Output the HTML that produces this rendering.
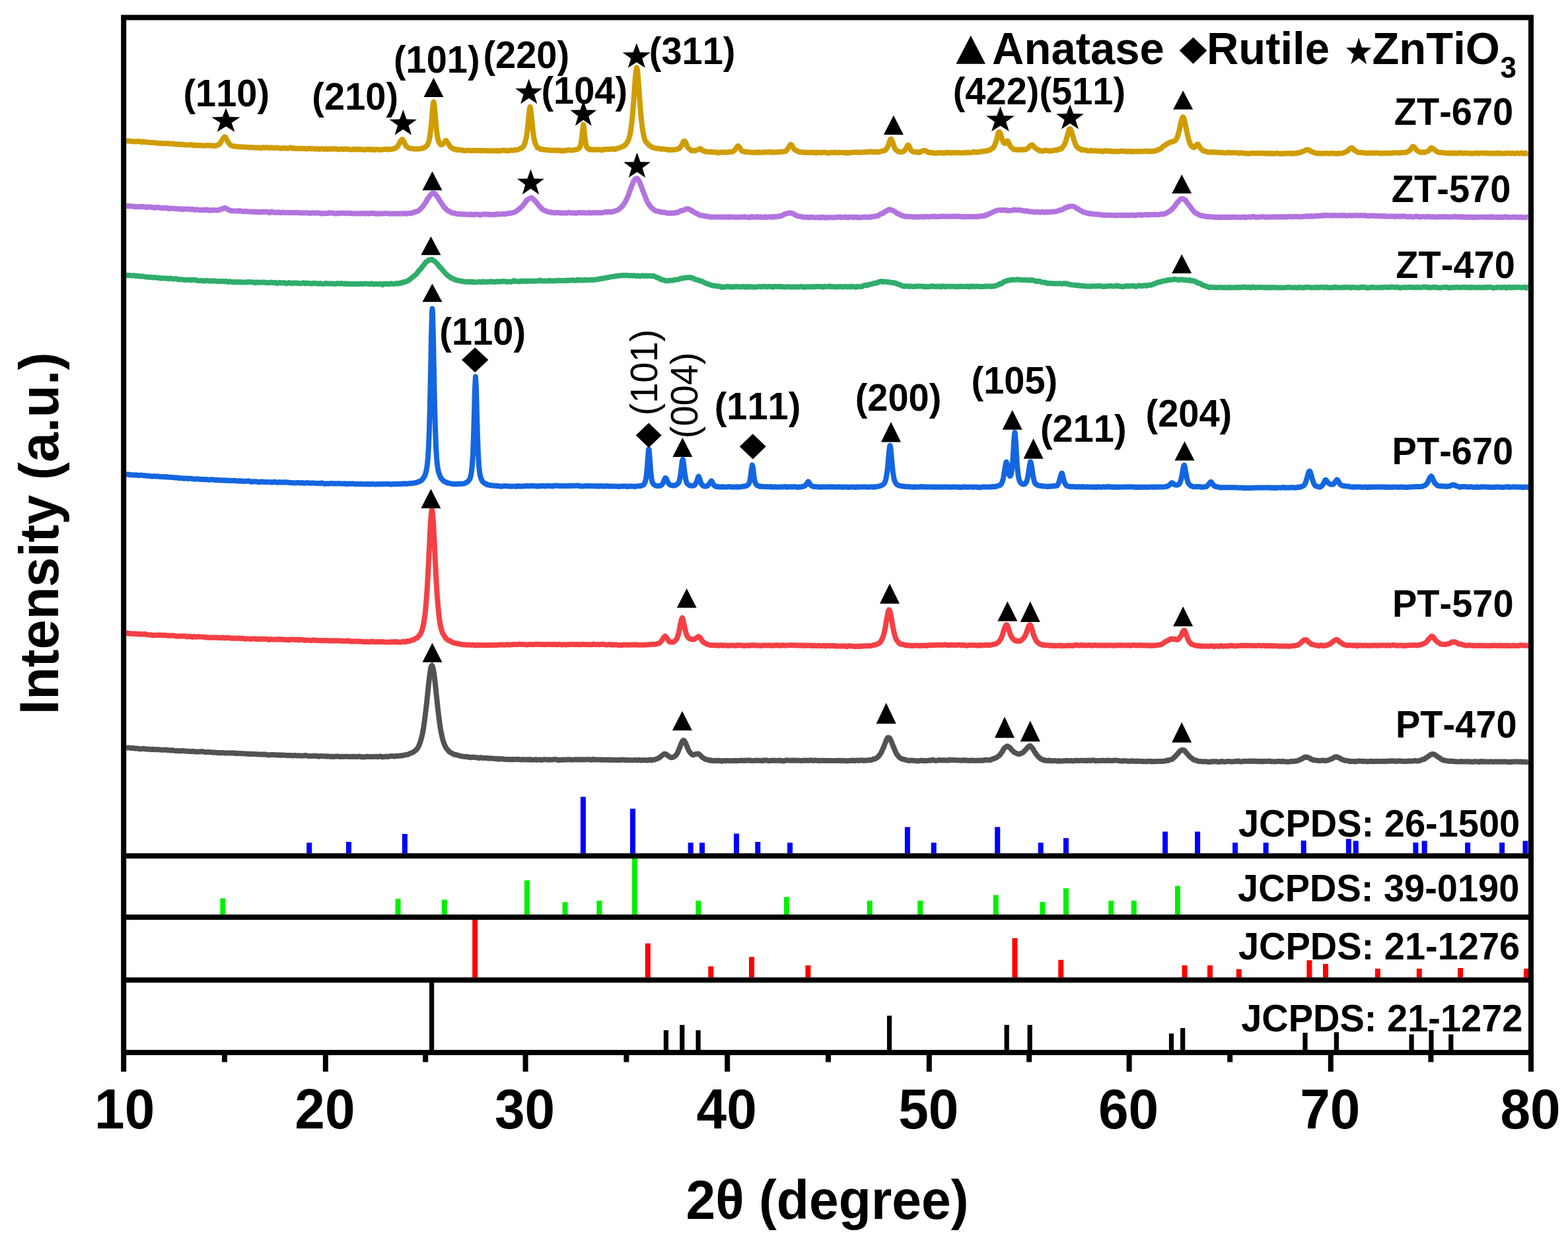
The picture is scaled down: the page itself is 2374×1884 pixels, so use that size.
<!DOCTYPE html>
<html><head><meta charset="utf-8"><title>XRD patterns</title>
<style>html,body{margin:0;padding:0;background:#fff;}svg{display:block;}</style>
</head><body>
<svg width="2374" height="1884" viewBox="0 0 2374 1884">
<rect x="0" y="0" width="2374" height="1884" fill="#ffffff"/>
<path d="M468.2 1292.3V1276.3 M528.0 1292.3V1274.9 M612.9 1292.3V1262.9 M882.9 1292.3V1206.7 M958.0 1292.3V1224.8 M1045.7 1292.3V1276.3 M1063.0 1292.3V1276.3 M1115.0 1292.3V1262.4 M1147.3 1292.3V1274.9 M1196.0 1292.3V1276.3 M1373.9 1292.3V1252.6 M1413.7 1292.3V1276.3 M1510.2 1292.3V1252.6 M1575.7 1292.3V1276.3 M1614.0 1292.3V1269.3 M1764.1 1292.3V1259.6 M1813.1 1292.3V1259.6 M1870.1 1292.3V1276.3 M1916.6 1292.3V1276.3 M1973.7 1292.3V1273.0 M2041.9 1292.3V1270.4 M2052.8 1292.3V1273.6 M2143.4 1292.3V1276.0 M2156.7 1292.3V1273.6 M2222.1 1292.3V1276.0 M2274.1 1292.3V1276.0 M2309.5 1292.3V1273.6" stroke="#0000FF" stroke-width="8" fill="none"/>
<path d="M337.4 1385.0V1360.5 M602.6 1385.0V1361.2 M672.8 1385.0V1362.6 M798.0 1385.0V1333.3 M855.6 1385.0V1366.2 M907.4 1385.0V1364.0 M961.0 1385.0V1300.0 M1057.4 1385.0V1364.0 M1191.0 1385.0V1358.4 M1316.8 1385.0V1364.0 M1393.3 1385.0V1364.0 M1507.7 1385.0V1355.6 M1578.4 1385.0V1365.9 M1614.0 1385.0V1345.3 M1682.3 1385.0V1364.0 M1716.8 1385.0V1364.0 M1783.0 1385.0V1341.7" stroke="#00F000" stroke-width="8" fill="none"/>
<path d="M719.2 1480.3V1393.0 M980.8 1480.3V1428.8 M1076.3 1480.3V1463.6 M1138.0 1480.3V1449.3 M1223.4 1480.3V1462.0 M1536.5 1480.3V1420.7 M1606.3 1480.3V1453.8 M1793.6 1480.3V1462.0 M1832.0 1480.3V1462.0 M1875.8 1480.3V1467.8 M1982.4 1480.3V1454.3 M2007.0 1480.3V1459.7 M2085.9 1480.3V1467.1 M2148.8 1480.3V1467.0 M2211.1 1480.3V1466.0 M2311.0 1480.3V1467.0" stroke="#FF0000" stroke-width="8" fill="none"/>
<path d="M653.6 1590.0V1488.0 M1008.4 1590.0V1560.3 M1032.8 1590.0V1552.2 M1057.1 1590.0V1560.3 M1346.6 1590.0V1538.2 M1524.2 1590.0V1552.2 M1559.2 1590.0V1552.2 M1773.5 1590.0V1565.2 M1790.7 1590.0V1557.0 M1976.0 1590.0V1564.0 M2023.4 1590.0V1563.2 M2137.1 1590.0V1566.4 M2167.0 1590.0V1560.0 M2196.8 1590.0V1566.4" stroke="#000000" stroke-width="7.2" fill="none"/>
<polyline points="191,213.6 192,213.7 193,213.6 194,213.5 195,213.5 196,213.6 197,214.0 198,214.3 199,214.1 200,214.0 201,214.3 202,214.5 203,214.3 204,214.2 205,214.4 206,214.5 207,214.3 208,214.2 209,214.0 210,214.0 211,214.2 212,214.5 213,214.7 214,215.0 215,215.2 216,214.8 217,214.5 218,214.8 219,215.3 220,215.3 221,215.1 222,215.1 223,215.2 224,215.5 225,215.8 226,215.7 227,215.9 228,216.1 229,215.9 230,216.0 231,216.1 232,216.0 233,215.9 234,216.3 235,216.5 236,216.3 237,216.5 238,216.6 239,216.7 240,217.2 241,217.0 242,216.6 243,216.8 244,217.0 245,217.1 246,217.2 247,217.2 248,217.5 249,217.6 250,217.3 251,217.3 252,217.3 253,217.3 254,217.2 255,217.3 256,217.7 257,218.1 258,218.0 259,217.6 260,217.6 261,217.8 262,217.6 263,217.7 264,218.3 265,218.6 266,218.6 267,218.3 268,218.3 269,218.6 270,218.9 271,218.7 272,218.6 273,218.8 274,218.8 275,218.7 276,218.6 277,218.8 278,219.1 279,219.4 280,219.5 281,219.4 282,219.4 283,219.5 284,219.6 285,219.6 286,219.5 287,219.3 288,219.3 289,219.0 290,218.9 291,219.3 292,219.6 293,220.1 294,220.4 295,219.9 296,219.8 297,220.1 298,220.2 299,220.1 300,220.2 301,220.4 302,220.3 303,220.1 304,220.2 305,220.2 306,220.2 307,220.3 308,220.4 309,220.7 310,220.7 311,220.5 312,220.4 313,220.3 314,220.0 315,220.2 316,220.4 317,220.3 318,220.5 319,220.5 320,220.6 321,220.7 322,220.8 323,220.6 324,220.5 325,220.9 326,221.1 327,220.6 328,220.2 329,219.8 330,219.5 331,219.2 332,218.4 333,217.2 334,215.7 335,214.0 336,212.4 337,210.9 338,209.2 339,208.0 340,207.3 341,207.6 342,208.9 343,210.8 344,212.8 345,214.7 346,216.2 347,217.4 348,218.8 349,220.0 350,220.3 351,220.6 352,221.3 353,221.6 354,221.4 355,221.4 356,221.5 357,221.6 358,222.0 359,222.3 360,222.2 361,222.2 362,222.3 363,222.3 364,222.2 365,222.1 366,222.3 367,222.8 368,222.8 369,222.7 370,222.8 371,222.6 372,222.8 373,223.0 374,222.9 375,222.9 376,223.1 377,223.4 378,223.4 379,223.2 380,222.9 381,222.9 382,223.4 383,223.6 384,223.4 385,223.5 386,223.7 387,223.8 388,223.7 389,223.6 390,223.6 391,223.5 392,223.6 393,223.9 394,224.1 395,224.4 396,224.1 397,223.3 398,223.2 399,223.6 400,223.6 401,223.7 402,223.8 403,223.2 404,223.1 405,223.7 406,223.9 407,223.9 408,223.8 409,223.6 410,223.5 411,223.7 412,223.6 413,223.6 414,224.0 415,224.2 416,224.1 417,223.9 418,223.8 419,223.8 420,223.9 421,224.1 422,224.1 423,224.3 424,224.7 425,224.7 426,224.4 427,224.4 428,224.5 429,224.2 430,224.0 431,224.3 432,224.6 433,224.6 434,224.5 435,224.6 436,224.8 437,224.5 438,224.0 439,223.9 440,223.7 441,223.5 442,224.3 443,225.0 444,224.8 445,224.3 446,224.5 447,225.0 448,225.0 449,224.9 450,224.8 451,225.0 452,225.2 453,225.2 454,224.9 455,224.8 456,224.9 457,225.0 458,225.0 459,224.8 460,224.8 461,224.9 462,225.0 463,225.5 464,225.6 465,225.3 466,225.3 467,225.0 468,224.6 469,224.9 470,225.2 471,225.1 472,225.0 473,225.0 474,225.4 475,225.6 476,225.5 477,225.6 478,225.7 479,225.4 480,225.0 481,225.1 482,225.7 483,226.0 484,225.9 485,225.7 486,225.6 487,225.5 488,225.4 489,225.4 490,225.7 491,226.0 492,225.9 493,225.5 494,225.3 495,225.6 496,226.0 497,226.0 498,225.7 499,225.4 500,225.3 501,225.6 502,225.8 503,225.7 504,225.6 505,225.7 506,225.5 507,225.3 508,225.4 509,225.6 510,225.8 511,225.8 512,226.1 513,226.2 514,225.9 515,225.7 516,225.8 517,225.8 518,225.7 519,226.2 520,226.5 521,226.1 522,225.7 523,225.7 524,225.8 525,225.6 526,225.7 527,226.1 528,226.1 529,226.4 530,226.6 531,226.4 532,226.5 533,226.6 534,226.2 535,225.8 536,225.7 537,226.2 538,226.7 539,226.5 540,226.0 541,225.8 542,226.0 543,226.2 544,226.3 545,226.3 546,226.4 547,226.3 548,226.3 549,226.4 550,226.4 551,226.7 552,227.0 553,226.8 554,226.3 555,226.1 556,226.1 557,225.9 558,226.0 559,226.6 560,226.8 561,226.4 562,226.0 563,226.2 564,226.4 565,226.9 566,227.3 567,226.8 568,226.3 569,226.2 570,226.4 571,226.4 572,226.3 573,226.3 574,226.5 575,226.9 576,227.1 577,226.9 578,226.7 579,226.6 580,226.5 581,226.4 582,226.2 583,225.9 584,226.0 585,226.4 586,226.4 587,226.5 588,226.3 589,225.8 590,225.7 591,226.0 592,226.0 593,225.9 594,225.9 595,225.5 596,224.9 597,224.7 598,224.7 599,224.1 600,223.2 601,222.7 602,221.9 603,220.3 604,218.3 605,216.0 606,214.2 607,212.9 608,211.7 608.6,211.3 609,211.1 610,211.8 611,213.4 612,215.6 613,217.8 614,219.5 615,221.2 616,222.3 617,222.8 618,223.5 619,224.1 620,224.5 621,224.7 622,224.9 623,225.0 624,225.0 625,225.1 626,225.5 627,225.7 628,225.4 629,225.4 630,225.4 631,225.4 632,225.6 633,225.7 634,225.7 635,225.4 636,225.2 637,225.0 638,224.8 639,224.7 640,224.5 641,224.2 642,223.7 643,223.0 644,222.5 645,222.1 646,221.1 647,219.6 648,217.5 649,214.9 650,211.2 651,205.5 652,197.8 653,188.3 654,176.6 655,164.0 656,155.6 656.5,154.5 657,155.8 658,164.1 659,176.0 660,187.9 661,197.9 662,205.3 663,210.6 664,213.9 665,215.9 666,217.6 667,219.0 668,219.2 669,218.9 670,218.4 671,217.5 672,216.6 673,215.4 674,213.8 675,212.8 675.4,212.9 676,213.4 677,215.0 678,216.7 679,218.0 680,219.4 681,221.3 682,222.6 683,223.1 684,224.0 685,224.9 686,225.5 687,225.7 688,225.7 689,225.8 690,226.3 691,227.1 692,227.2 693,226.9 694,226.6 695,226.6 696,227.0 697,227.3 698,227.4 699,227.4 700,227.3 701,227.5 702,227.8 703,228.3 704,228.4 705,227.9 706,227.7 707,227.7 708,227.7 709,227.7 710,227.8 711,227.9 712,228.1 713,228.2 714,228.2 715,228.0 716,227.8 717,227.8 718,228.0 719,228.1 720,228.2 721,228.1 722,227.9 723,228.0 724,227.9 725,228.0 726,227.9 727,227.8 728,228.1 729,228.4 730,228.3 731,228.2 732,228.1 733,228.1 734,228.1 735,228.2 736,228.2 737,228.2 738,228.3 739,228.5 740,228.3 741,228.4 742,228.3 743,228.1 744,228.3 745,228.6 746,228.5 747,228.4 748,228.2 749,228.3 750,228.5 751,228.6 752,228.3 753,228.0 754,228.4 755,228.8 756,228.7 757,228.3 758,228.0 759,228.3 760,228.0 761,227.6 762,227.8 763,227.7 764,227.5 765,227.9 766,228.3 767,228.1 768,228.2 769,228.6 770,228.5 771,228.0 772,227.6 773,227.3 774,227.4 775,227.7 776,227.7 777,227.7 778,227.5 779,227.2 780,227.1 781,227.2 782,227.2 783,227.0 784,226.6 785,226.2 786,225.8 787,225.1 788,224.7 789,224.6 790,224.1 791,223.1 792,221.9 793,220.6 794,218.8 795,215.9 796,212.0 797,207.3 798,200.8 799,191.9 800,181.2 801,171.0 802,163.6 802.6,161.8 803,162.7 804,169.4 805,179.6 806,190.4 807,199.5 808,206.5 809,212.0 810,215.9 811,218.5 812,220.6 813,222.4 814,223.6 815,224.0 816,224.4 817,225.1 818,225.7 819,226.0 820,226.2 821,226.1 822,226.2 823,226.6 824,227.0 825,227.1 826,226.6 827,226.7 828,227.1 829,227.0 830,227.0 831,227.5 832,227.8 833,227.6 834,227.6 835,227.8 836,227.8 837,227.8 838,227.5 839,227.4 840,227.6 841,227.7 842,227.9 843,227.8 844,227.6 845,227.6 846,227.8 847,227.9 848,227.7 849,227.8 850,228.3 851,228.8 852,228.6 853,228.1 854,228.0 855,228.2 856,227.8 857,227.5 858,227.7 859,227.7 860,227.3 861,226.9 862,227.1 863,227.5 864,227.4 865,227.4 866,227.5 867,227.5 868,227.3 869,227.1 870,226.8 871,226.6 872,226.6 873,226.6 874,226.2 875,225.6 876,225.0 877,224.4 878,223.0 879,220.2 880,215.7 881,208.6 882,198.5 883,189.6 883.3,188.6 884,192.0 885,202.9 886,212.1 887,218.2 888,222.0 889,223.9 890,224.7 891,225.4 892,226.3 893,226.7 894,226.7 895,226.4 896,226.2 897,226.5 898,226.8 899,226.9 900,227.0 901,226.6 902,226.4 903,226.7 904,226.7 905,226.6 906,226.6 907,226.4 908,226.4 909,226.9 910,227.2 911,227.3 912,227.4 913,226.7 914,226.1 915,226.0 916,226.1 917,226.3 918,226.2 919,226.0 920,226.0 921,226.0 922,226.1 923,226.2 924,226.0 925,225.9 926,225.7 927,225.4 928,225.2 929,225.6 930,226.2 931,226.2 932,225.8 933,225.2 934,224.9 935,224.9 936,224.5 937,224.0 938,223.8 939,223.4 940,223.1 941,222.6 942,222.0 943,221.9 944,221.7 945,220.8 946,219.8 947,219.1 948,217.9 949,216.3 950,214.8 951,213.1 952,210.5 953,207.3 954,203.1 955,197.4 956,190.2 957,181.7 958,171.1 959,158.2 960,144.0 961,129.5 962,116.1 963,106.3 964,102.4 965,105.8 966,115.9 967,129.6 968,144.3 969,158.5 970,170.6 971,180.9 972,189.8 973,196.8 974,202.4 975,207.0 976,210.6 977,213.3 978,214.8 979,215.9 980,217.2 981,218.3 982,219.4 983,220.4 984,220.8 985,221.2 986,222.1 987,222.8 988,223.1 989,223.6 990,223.9 991,224.2 992,224.6 993,224.8 994,224.9 995,224.8 996,224.7 997,224.9 998,225.2 999,225.3 1000,225.4 1001,225.9 1002,225.8 1003,225.3 1004,225.3 1005,225.7 1006,226.0 1007,226.0 1008,226.2 1009,226.3 1010,226.5 1011,226.5 1012,226.7 1013,227.3 1014,227.4 1015,226.9 1016,226.6 1017,226.8 1018,226.9 1019,226.8 1020,226.7 1021,226.8 1022,226.5 1023,226.4 1024,226.2 1025,225.7 1026,225.5 1027,225.5 1028,225.1 1029,224.1 1030,222.7 1031,221.5 1032,220.2 1033,218.1 1034,215.7 1035,214.0 1036,213.5 1037,214.0 1038,215.5 1039,218.0 1040,220.6 1041,222.6 1042,224.1 1043,225.2 1044,226.0 1045,226.6 1046,227.3 1047,228.2 1048,228.2 1049,227.9 1050,228.0 1051,228.3 1052,228.4 1053,227.8 1054,227.3 1055,227.2 1056,227.0 1057,226.6 1058,226.1 1059,225.5 1060,225.1 1061,225.3 1062,226.4 1063,227.6 1064,228.1 1065,228.4 1066,229.0 1067,229.4 1068,229.3 1069,229.5 1070,229.9 1071,230.0 1072,230.0 1073,230.0 1074,230.1 1075,230.2 1076,230.1 1077,230.0 1078,230.3 1079,230.5 1080,230.3 1081,230.4 1082,230.5 1083,230.3 1084,230.3 1085,230.4 1086,231.0 1087,231.6 1088,231.4 1089,230.9 1090,230.8 1091,230.7 1092,230.8 1093,230.8 1094,230.6 1095,230.7 1096,230.9 1097,230.9 1098,230.7 1099,230.4 1100,230.5 1101,230.7 1102,230.5 1103,230.4 1104,229.9 1105,229.7 1106,230.1 1107,230.2 1108,229.8 1109,229.6 1110,229.3 1111,228.4 1112,227.5 1113,226.7 1114,225.5 1115,223.8 1116,222.4 1117,221.3 1117.5,221.1 1118,221.6 1119,222.4 1120,223.5 1121,225.2 1122,227.0 1123,228.1 1124,228.6 1125,229.2 1126,229.5 1127,229.6 1128,229.9 1129,230.0 1130,229.9 1131,230.0 1132,230.2 1133,230.3 1134,230.2 1135,230.4 1136,230.7 1137,230.8 1138,230.9 1139,231.0 1140,231.1 1141,231.1 1142,230.7 1143,230.6 1144,230.8 1145,231.2 1146,231.0 1147,230.2 1148,230.2 1149,230.7 1150,231.0 1151,230.9 1152,230.7 1153,230.8 1154,230.8 1155,230.8 1156,230.6 1157,230.2 1158,230.3 1159,230.5 1160,230.7 1161,230.5 1162,230.4 1163,230.5 1164,230.3 1165,230.0 1166,230.1 1167,230.4 1168,230.8 1169,230.8 1170,230.8 1171,230.8 1172,230.6 1173,230.5 1174,230.7 1175,230.7 1176,230.4 1177,230.3 1178,230.3 1179,230.2 1180,230.2 1181,230.3 1182,230.2 1183,230.0 1184,229.8 1185,229.8 1186,229.7 1187,229.6 1188,229.6 1189,229.2 1190,228.6 1191,227.6 1192,226.1 1193,224.7 1194,223.4 1195,221.7 1196,220.2 1197,219.2 1197.3,218.9 1198,219.1 1199,220.2 1200,222.1 1201,223.8 1202,225.2 1203,226.6 1204,227.5 1205,227.9 1206,228.2 1207,228.6 1208,228.9 1209,229.6 1210,230.2 1211,230.2 1212,230.1 1213,230.2 1214,230.3 1215,230.5 1216,230.6 1217,231.0 1218,231.2 1219,231.0 1220,230.7 1221,230.6 1222,230.8 1223,231.0 1224,231.0 1225,231.2 1226,231.1 1227,230.6 1228,230.7 1229,231.1 1230,230.9 1231,230.7 1232,230.7 1233,230.7 1234,231.2 1235,231.8 1236,231.5 1237,230.8 1238,230.7 1239,231.0 1240,231.2 1241,230.9 1242,230.9 1243,231.4 1244,231.4 1245,231.0 1246,230.6 1247,230.5 1248,230.5 1249,230.6 1250,231.0 1251,231.2 1252,231.4 1253,231.8 1254,231.6 1255,231.2 1256,231.4 1257,231.5 1258,231.0 1259,230.8 1260,230.8 1261,231.0 1262,231.1 1263,230.6 1264,230.6 1265,231.0 1266,231.1 1267,231.2 1268,231.3 1269,231.3 1270,231.2 1271,230.8 1272,230.8 1273,231.0 1274,231.1 1275,231.1 1276,230.9 1277,230.9 1278,231.3 1279,231.2 1280,231.2 1281,231.8 1282,231.7 1283,231.0 1284,231.2 1285,231.8 1286,231.5 1287,231.1 1288,230.9 1289,230.7 1290,230.7 1291,230.8 1292,230.9 1293,230.8 1294,230.5 1295,230.4 1296,230.5 1297,230.5 1298,230.7 1299,231.0 1300,231.0 1301,230.9 1302,230.8 1303,230.7 1304,230.5 1305,230.6 1306,230.5 1307,230.5 1308,230.7 1309,230.5 1310,230.2 1311,230.1 1312,230.2 1313,230.2 1314,230.3 1315,230.4 1316,229.9 1317,229.5 1318,229.5 1319,229.6 1320,230.0 1321,230.4 1322,230.2 1323,229.7 1324,229.8 1325,230.3 1326,230.2 1327,230.0 1328,230.3 1329,230.6 1330,230.2 1331,229.8 1332,229.6 1333,229.5 1334,229.0 1335,228.8 1336,228.7 1337,228.5 1338,228.3 1339,228.3 1340,227.9 1341,226.7 1342,225.4 1343,224.0 1344,222.3 1345,219.9 1346,216.8 1347,213.6 1348,211.2 1349,210.6 1350,212.0 1351,214.3 1352,217.0 1353,220.1 1354,222.9 1355,225.0 1356,226.4 1357,227.4 1358,228.0 1359,228.9 1360,229.7 1361,229.6 1362,229.9 1363,230.3 1364,230.2 1365,230.1 1366,230.1 1367,229.9 1368,229.3 1369,228.4 1370,227.5 1371,226.1 1372,224.3 1373,222.4 1374,220.6 1375,219.6 1376,220.4 1377,222.6 1378,225.0 1379,227.0 1380,228.3 1381,229.0 1382,229.6 1383,230.0 1384,230.1 1385,230.3 1386,230.4 1387,230.3 1388,230.1 1389,230.3 1390,230.7 1391,231.0 1392,230.9 1393,230.4 1394,229.8 1395,229.4 1396,229.0 1397,228.5 1398,228.3 1399,228.3 1400,228.0 1401,228.0 1402,228.5 1403,229.0 1404,229.8 1405,230.7 1406,230.8 1407,230.6 1408,231.2 1409,231.5 1410,231.2 1411,231.0 1412,231.1 1413,231.4 1414,231.7 1415,231.9 1416,232.0 1417,232.0 1418,232.0 1419,231.6 1420,231.1 1421,231.2 1422,231.4 1423,231.5 1424,231.6 1425,231.3 1426,231.3 1427,231.8 1428,231.8 1429,231.7 1430,231.8 1431,231.8 1432,231.3 1433,230.8 1434,230.9 1435,231.1 1436,231.1 1437,231.5 1438,231.7 1439,231.3 1440,231.3 1441,231.7 1442,231.3 1443,231.0 1444,231.3 1445,231.4 1446,231.3 1447,231.4 1448,231.2 1449,231.0 1450,231.3 1451,231.4 1452,231.2 1453,231.2 1454,231.6 1455,231.8 1456,231.5 1457,231.4 1458,231.3 1459,231.2 1460,231.4 1461,231.5 1462,231.5 1463,231.2 1464,230.8 1465,230.8 1466,231.0 1467,231.2 1468,231.3 1469,231.2 1470,231.2 1471,231.2 1472,230.7 1473,230.1 1474,229.8 1475,230.1 1476,230.5 1477,230.5 1478,230.5 1479,230.7 1480,230.7 1481,230.5 1482,230.0 1483,229.8 1484,229.8 1485,229.7 1486,229.5 1487,229.6 1488,229.5 1489,229.0 1490,228.8 1491,228.8 1492,228.8 1493,228.9 1494,228.6 1495,228.2 1496,227.8 1497,227.7 1498,227.5 1499,227.2 1500,226.4 1501,225.3 1502,224.9 1503,224.6 1504,223.7 1505,222.0 1506,219.6 1507,217.1 1508,214.6 1509,211.3 1510,207.0 1511,202.9 1512,200.1 1512.9,199.9 1513,200.4 1514,201.2 1515,203.7 1516,206.8 1517,210.0 1518,213.0 1519,215.0 1520,216.4 1521,217.3 1522,217.2 1523,216.1 1524,214.6 1525,213.4 1525.4,213.4 1526,214.1 1527,215.9 1528,218.1 1529,220.3 1530,222.0 1531,223.1 1532,223.9 1533,224.7 1534,225.6 1535,226.4 1536,226.6 1537,226.2 1538,226.3 1539,226.8 1540,226.7 1541,226.9 1542,227.2 1543,226.9 1544,226.4 1545,226.5 1546,226.9 1547,226.8 1548,226.4 1549,226.4 1550,226.8 1551,226.7 1552,226.4 1553,226.3 1554,225.8 1555,225.0 1556,224.5 1557,224.0 1558,222.8 1559,221.4 1560,220.7 1561,220.4 1562,219.7 1562.5,219.4 1563,219.7 1564,220.3 1565,221.5 1566,222.9 1567,224.0 1568,224.6 1569,225.2 1570,226.0 1571,226.2 1572,226.7 1573,227.9 1574,228.4 1575,228.2 1576,228.1 1577,228.5 1578,228.9 1579,228.8 1580,228.3 1581,228.0 1582,227.9 1583,227.6 1584,227.7 1585,228.1 1586,228.1 1587,228.2 1588,228.5 1589,228.9 1590,228.8 1591,228.5 1592,228.4 1593,228.0 1594,227.9 1595,227.9 1596,227.6 1597,227.3 1598,227.2 1599,227.5 1600,227.6 1601,227.1 1602,226.6 1603,226.2 1604,225.6 1605,225.5 1606,225.7 1607,225.4 1608,224.1 1609,222.7 1610,221.4 1611,219.8 1612,217.9 1613,215.5 1614,212.6 1615,209.2 1616,205.4 1617,201.5 1618,198.0 1619,195.7 1620,195.0 1621,195.9 1622,198.3 1623,201.8 1624,205.4 1625,208.7 1626,211.8 1627,215.0 1628,217.9 1629,220.3 1630,221.7 1631,222.8 1632,223.8 1633,224.5 1634,225.2 1635,225.3 1636,225.6 1637,226.9 1638,227.3 1639,226.9 1640,227.0 1641,227.3 1642,227.3 1643,227.2 1644,227.4 1645,227.9 1646,228.2 1647,228.3 1648,228.5 1649,228.7 1650,228.3 1651,228.0 1652,227.7 1653,228.0 1654,228.4 1655,228.4 1656,228.5 1657,228.4 1658,228.2 1659,228.3 1660,228.3 1661,228.5 1662,228.8 1663,228.8 1664,228.5 1665,228.4 1666,228.6 1667,228.8 1668,229.3 1669,229.6 1670,229.3 1671,228.8 1672,228.6 1673,228.4 1674,228.3 1675,228.4 1676,228.5 1677,228.7 1678,228.9 1679,228.8 1680,228.5 1681,228.7 1682,229.1 1683,229.4 1684,229.4 1685,229.4 1686,229.3 1687,229.1 1688,229.4 1689,229.5 1690,229.1 1691,229.3 1692,229.5 1693,229.3 1694,229.3 1695,229.3 1696,229.0 1697,228.9 1698,228.7 1699,228.6 1700,228.8 1701,228.9 1702,229.1 1703,229.0 1704,229.0 1705,229.6 1706,229.7 1707,229.4 1708,229.1 1709,229.2 1710,229.3 1711,229.1 1712,228.9 1713,229.6 1714,229.8 1715,229.3 1716,229.3 1717,229.5 1718,229.5 1719,229.5 1720,229.2 1721,229.4 1722,229.7 1723,229.4 1724,229.2 1725,229.2 1726,229.4 1727,229.5 1728,229.4 1729,229.3 1730,229.2 1731,229.3 1732,229.0 1733,228.6 1734,228.8 1735,228.9 1736,229.2 1737,229.4 1738,229.0 1739,229.0 1740,229.4 1741,229.5 1742,229.5 1743,229.2 1744,228.8 1745,228.9 1746,229.2 1747,229.0 1748,228.6 1749,228.3 1750,228.0 1751,227.9 1752,227.9 1753,227.2 1754,226.4 1755,226.1 1756,225.9 1757,225.4 1758,224.5 1759,223.6 1760,222.8 1761,221.7 1762,221.0 1763,220.6 1764,219.8 1765,219.2 1766,218.7 1767,217.8 1768,217.2 1769,216.9 1770,216.3 1771,215.6 1772,215.4 1773,215.1 1774,214.8 1775,214.7 1776,214.4 1777,213.8 1778,213.6 1779,213.1 1780,211.9 1781,210.3 1782,208.5 1783,206.3 1784,203.1 1785,199.2 1786,195.0 1787,190.2 1788,185.7 1789,181.8 1790,178.5 1791,177.2 1791.2,177.5 1792,178.2 1793,181.0 1794,185.6 1795,190.5 1796,195.2 1797,200.2 1798,204.9 1799,208.9 1800,212.4 1801,215.4 1802,217.9 1803,219.7 1804,221.2 1805,222.2 1806,222.7 1807,223.2 1808,223.4 1809,222.6 1810,221.4 1811,220.2 1812,219.0 1813,218.6 1813.5,218.7 1814,218.6 1815,220.0 1816,221.9 1817,223.5 1818,224.8 1819,225.8 1820,226.7 1821,227.8 1822,228.7 1823,228.8 1824,228.8 1825,229.0 1826,229.4 1827,229.8 1828,230.2 1829,230.5 1830,230.5 1831,230.6 1832,230.6 1833,230.3 1834,230.1 1835,230.3 1836,230.5 1837,230.3 1838,230.2 1839,230.7 1840,230.8 1841,230.7 1842,230.8 1843,230.9 1844,230.9 1845,230.7 1846,230.7 1847,231.1 1848,231.2 1849,231.1 1850,230.9 1851,231.0 1852,231.3 1853,231.5 1854,231.4 1855,231.7 1856,231.8 1857,231.5 1858,231.4 1859,231.0 1860,230.7 1861,231.0 1862,231.3 1863,231.4 1864,231.5 1865,231.3 1866,231.2 1867,231.4 1868,231.3 1869,231.3 1870,231.4 1871,231.2 1872,231.2 1873,231.4 1874,231.8 1875,232.0 1876,231.9 1877,231.6 1878,231.4 1879,231.6 1880,231.7 1881,231.6 1882,231.9 1883,231.9 1884,231.8 1885,232.1 1886,232.3 1887,232.4 1888,232.3 1889,232.3 1890,232.5 1891,232.5 1892,232.4 1893,232.4 1894,232.3 1895,232.0 1896,231.9 1897,232.0 1898,232.1 1899,232.0 1900,232.2 1901,232.4 1902,232.0 1903,231.7 1904,232.0 1905,232.3 1906,232.1 1907,231.8 1908,231.7 1909,232.0 1910,232.3 1911,232.2 1912,232.0 1913,232.2 1914,232.4 1915,232.3 1916,232.1 1917,232.3 1918,232.7 1919,232.3 1920,232.0 1921,232.1 1922,232.2 1923,232.7 1924,232.9 1925,232.2 1926,232.0 1927,232.6 1928,232.9 1929,232.9 1930,232.7 1931,232.3 1932,232.1 1933,231.9 1934,232.0 1935,232.4 1936,232.7 1937,232.9 1938,232.7 1939,232.4 1940,232.8 1941,233.0 1942,232.6 1943,232.2 1944,232.5 1945,232.8 1946,232.4 1947,232.3 1948,232.6 1949,232.4 1950,232.1 1951,232.1 1952,232.2 1953,232.4 1954,232.6 1955,232.7 1956,232.4 1957,232.0 1958,232.3 1959,232.6 1960,232.6 1961,232.4 1962,232.0 1963,231.8 1964,231.9 1965,231.4 1966,231.1 1967,231.4 1968,231.2 1969,230.7 1970,230.2 1971,229.8 1972,229.5 1973,229.4 1974,228.8 1975,228.1 1976,227.7 1977,227.1 1978,226.7 1979,226.9 1979.6,226.7 1980,226.7 1981,227.2 1982,227.4 1983,227.9 1984,228.7 1985,229.3 1986,229.7 1987,230.1 1988,230.5 1989,230.9 1990,231.0 1991,231.4 1992,232.0 1993,232.1 1994,232.2 1995,232.6 1996,232.4 1997,232.1 1998,232.2 1999,232.2 2000,232.6 2001,232.7 2002,232.3 2003,232.2 2004,232.4 2005,232.4 2006,232.3 2007,232.3 2008,232.0 2009,232.1 2010,232.3 2011,232.4 2012,232.4 2013,232.3 2014,232.5 2015,232.4 2016,232.1 2017,231.9 2018,232.0 2019,232.3 2020,232.2 2021,232.4 2022,232.8 2023,232.9 2024,232.8 2025,232.2 2026,232.0 2027,232.3 2028,232.4 2029,232.3 2030,232.2 2031,232.2 2032,232.1 2033,231.8 2034,231.5 2035,231.2 2036,230.8 2037,230.4 2038,229.9 2039,229.3 2040,228.8 2041,227.9 2042,226.9 2043,225.9 2044,225.2 2045,224.9 2046,224.2 2047,223.9 2048,224.6 2049,225.8 2050,227.1 2051,227.8 2052,228.3 2053,228.8 2054,229.5 2055,230.3 2056,230.7 2057,230.7 2058,230.9 2059,231.0 2060,230.9 2061,231.1 2062,231.0 2063,230.9 2064,231.4 2065,231.7 2066,231.3 2067,231.4 2068,231.8 2069,232.0 2070,232.1 2071,232.0 2072,231.8 2073,231.8 2074,231.7 2075,231.6 2076,231.6 2077,231.8 2078,232.0 2079,231.8 2080,231.6 2081,231.6 2082,231.6 2083,231.4 2084,231.4 2085,231.5 2086,231.5 2087,231.5 2088,231.8 2089,232.3 2090,232.3 2091,232.0 2092,232.0 2093,232.3 2094,232.1 2095,231.8 2096,231.8 2097,232.0 2098,232.1 2099,232.1 2100,232.1 2101,231.8 2102,231.6 2103,231.8 2104,232.0 2105,231.8 2106,231.7 2107,232.1 2108,232.0 2109,231.5 2110,231.3 2111,231.3 2112,231.5 2113,231.6 2114,231.4 2115,231.3 2116,231.3 2117,231.4 2118,231.7 2119,231.7 2120,231.1 2121,231.1 2122,231.3 2123,231.3 2124,231.1 2125,230.9 2126,230.9 2127,231.0 2128,230.9 2129,230.6 2130,230.4 2131,229.8 2132,229.2 2133,228.8 2134,228.1 2135,227.0 2136,226.0 2137,224.5 2138,222.7 2139,222.0 2139.5,222.5 2140,222.6 2141,222.7 2142,223.7 2143,225.2 2144,226.4 2145,227.4 2146,228.4 2147,228.9 2148,229.4 2149,230.1 2150,230.3 2151,230.5 2152,230.8 2153,230.9 2154,230.7 2155,230.5 2156,230.6 2157,230.8 2158,230.5 2159,229.8 2160,229.5 2161,229.3 2162,228.9 2163,228.4 2164,227.3 2165,225.8 2166,224.7 2167,224.0 2167.7,224.1 2168,224.6 2169,225.4 2170,225.6 2171,225.9 2172,227.0 2173,228.1 2174,228.6 2175,229.2 2176,229.9 2177,230.5 2178,230.6 2179,230.8 2180,231.1 2181,231.1 2182,231.0 2183,230.9 2184,231.2 2185,231.4 2186,231.2 2187,231.5 2188,231.8 2189,231.7 2190,231.6 2191,231.7 2192,232.1 2193,232.2 2194,231.8 2195,231.3 2196,231.5 2197,232.2 2198,232.4 2199,232.3 2200,232.2 2201,231.9 2202,231.8 2203,231.9 2204,231.8 2205,231.7 2206,232.2 2207,232.3 2208,231.7 2209,231.5 2210,231.8 2211,231.6 2212,231.4 2213,231.9 2214,232.1 2215,232.2 2216,232.5 2217,232.2 2218,231.9 2219,231.8 2220,231.7 2221,231.8 2222,232.0 2223,231.9 2224,232.1 2225,232.5 2226,232.6 2227,232.4 2228,232.3 2229,232.4 2230,232.5 2231,232.5 2232,232.4 2233,232.0 2234,231.7 2235,231.6 2236,231.9 2237,232.3 2238,232.4 2239,232.1 2240,231.9 2241,231.9 2242,231.7 2243,231.7 2244,231.7 2245,231.7 2246,231.9 2247,232.0 2248,231.8 2249,231.6 2250,231.9 2251,232.2 2252,232.2 2253,232.4 2254,232.4 2255,231.9 2256,231.9 2257,232.4 2258,232.5 2259,232.0 2260,232.0 2261,232.4 2262,232.6 2263,232.6 2264,232.3 2265,232.0 2266,232.1 2267,232.4 2268,231.9 2269,231.4 2270,231.8 2271,232.3 2272,232.5 2273,232.3 2274,232.1 2275,232.5 2276,232.6 2277,232.4 2278,232.4 2279,232.3 2280,232.1 2281,232.1 2282,232.0 2283,232.0 2284,232.1 2285,232.1 2286,232.3 2287,232.5 2288,232.1 2289,231.9 2290,232.0 2291,232.3 2292,232.4 2293,232.4 2294,232.3 2295,232.1 2296,231.9 2297,231.8 2298,232.1 2299,232.2 2300,232.2 2301,232.4 2302,232.1 2303,231.5 2304,231.6 2305,231.9 2306,232.5 2307,232.8 2308,232.3 2309,232.0 2310,232.1 2311,232.2 2312,232.5 2313,232.4 2314,232.0" fill="none" stroke="#D09D00" stroke-width="8" stroke-linejoin="round" stroke-linecap="butt"/>
<polyline points="191,312.1 192,312.0 193,312.1 194,312.5 195,312.3 196,312.0 197,311.9 198,312.1 199,312.4 200,312.5 201,312.4 202,312.6 203,312.9 204,312.9 205,313.1 206,313.2 207,313.2 208,313.2 209,313.4 210,313.3 211,313.0 212,313.2 213,313.2 214,313.0 215,312.8 216,312.8 217,313.0 218,313.3 219,313.4 220,313.5 221,313.8 222,313.9 223,313.6 224,313.5 225,313.5 226,313.5 227,313.7 228,313.9 229,313.9 230,313.8 231,313.9 232,314.0 233,314.4 234,314.9 235,314.7 236,314.3 237,313.9 238,313.9 239,314.2 240,314.6 241,314.6 242,314.6 243,314.7 244,315.0 245,315.2 246,314.9 247,314.8 248,315.0 249,315.1 250,314.9 251,314.7 252,314.7 253,314.9 254,315.6 255,316.0 256,315.7 257,315.7 258,315.6 259,315.4 260,315.5 261,315.6 262,315.8 263,316.0 264,315.7 265,315.9 266,316.0 267,316.0 268,316.2 269,316.4 270,316.4 271,316.4 272,316.3 273,316.1 274,316.7 275,317.2 276,317.1 277,316.7 278,316.4 279,316.4 280,316.4 281,316.6 282,316.8 283,316.7 284,316.5 285,316.4 286,316.7 287,316.9 288,316.8 289,317.1 290,317.3 291,317.0 292,316.8 293,317.1 294,317.7 295,318.0 296,317.6 297,317.3 298,317.4 299,317.6 300,317.6 301,318.0 302,318.1 303,317.9 304,318.0 305,318.2 306,318.1 307,317.9 308,318.0 309,317.9 310,317.8 311,317.9 312,317.9 313,317.6 314,317.5 315,317.9 316,318.6 317,318.9 318,318.7 319,318.6 320,318.3 321,318.3 322,318.3 323,318.1 324,318.1 325,318.3 326,318.2 327,318.2 328,318.3 329,318.5 330,318.5 331,318.2 332,317.9 333,317.7 334,317.2 335,316.7 336,316.3 337,316.1 338,315.8 339,315.3 340,314.7 341,314.9 342,315.5 343,316.1 344,316.6 345,317.2 346,317.9 347,318.2 348,318.5 349,319.1 350,319.3 351,319.3 352,319.3 353,319.5 354,319.6 355,319.5 356,319.4 357,319.4 358,319.5 359,319.7 360,319.9 361,319.8 362,319.4 363,319.1 364,319.4 365,319.6 366,320.0 367,320.4 368,320.3 369,320.1 370,320.1 371,320.1 372,320.0 373,320.0 374,320.2 375,320.5 376,320.6 377,320.6 378,320.5 379,320.4 380,320.5 381,320.7 382,320.8 383,320.7 384,320.4 385,320.6 386,320.9 387,320.8 388,320.8 389,321.2 390,321.3 391,321.0 392,321.1 393,321.4 394,321.3 395,321.1 396,320.8 397,320.5 398,320.6 399,321.1 400,321.2 401,321.0 402,320.7 403,320.7 404,320.8 405,321.0 406,321.4 407,322.0 408,322.2 409,321.8 410,321.2 411,320.7 412,320.5 413,320.9 414,321.5 415,321.8 416,321.8 417,321.8 418,321.8 419,321.9 420,321.9 421,321.5 422,321.3 423,321.5 424,322.1 425,322.3 426,322.0 427,321.6 428,321.7 429,321.8 430,321.8 431,321.9 432,322.0 433,322.0 434,322.1 435,322.1 436,321.9 437,321.9 438,322.0 439,322.2 440,322.1 441,322.1 442,321.9 443,321.9 444,322.1 445,322.1 446,322.3 447,322.2 448,321.8 449,321.8 450,322.0 451,321.9 452,322.0 453,322.3 454,322.4 455,322.4 456,322.4 457,322.3 458,322.3 459,322.4 460,322.6 461,322.5 462,322.3 463,322.2 464,322.5 465,322.6 466,322.4 467,322.4 468,322.9 469,323.2 470,322.8 471,322.7 472,322.5 473,322.1 474,322.3 475,322.7 476,322.9 477,322.7 478,322.5 479,322.6 480,322.7 481,322.6 482,322.5 483,322.4 484,322.6 485,323.1 486,323.4 487,323.2 488,323.1 489,323.2 490,323.4 491,323.4 492,323.3 493,323.0 494,322.9 495,323.0 496,323.0 497,322.9 498,322.5 499,322.3 500,322.3 501,322.4 502,322.7 503,322.7 504,322.6 505,323.0 506,323.2 507,323.3 508,323.6 509,323.4 510,323.0 511,323.1 512,323.3 513,323.3 514,323.2 515,322.9 516,322.7 517,322.7 518,322.8 519,322.8 520,322.6 521,322.7 522,323.1 523,323.2 524,322.9 525,322.6 526,322.6 527,322.9 528,323.0 529,323.1 530,323.3 531,323.2 532,323.1 533,323.2 534,323.2 535,323.2 536,323.4 537,323.4 538,323.3 539,323.3 540,323.4 541,323.6 542,323.6 543,323.5 544,323.5 545,323.5 546,323.5 547,323.1 548,322.9 549,323.3 550,323.3 551,323.0 552,323.0 553,323.3 554,323.7 555,323.4 556,323.0 557,323.2 558,323.5 559,323.6 560,323.0 561,322.7 562,323.0 563,323.2 564,323.0 565,322.9 566,323.4 567,323.6 568,323.2 569,323.3 570,323.6 571,323.9 572,323.7 573,323.5 574,323.7 575,323.6 576,323.4 577,323.5 578,323.2 579,323.2 580,323.7 581,323.5 582,323.3 583,323.3 584,323.0 585,323.0 586,323.2 587,323.4 588,323.6 589,323.7 590,323.6 591,323.7 592,323.6 593,323.4 594,323.4 595,323.5 596,323.8 597,323.8 598,323.5 599,323.3 600,323.4 601,323.5 602,323.6 603,323.5 604,323.5 605,323.7 606,323.7 607,323.6 608,323.6 609,323.5 610,323.3 611,323.3 612,323.1 613,323.1 614,323.3 615,323.7 616,323.6 617,323.3 618,323.3 619,323.1 620,323.0 621,322.9 622,323.0 623,323.0 624,322.4 625,322.0 626,321.9 627,321.6 628,320.8 629,320.4 630,320.6 631,320.5 632,320.0 633,319.6 634,318.9 635,318.0 636,317.1 637,315.9 638,315.0 639,314.2 640,312.8 641,311.3 642,310.1 643,308.6 644,307.0 645,305.6 646,303.7 647,301.8 648,300.4 649,299.2 650,297.4 651,296.1 652,295.1 653,294.0 654,292.9 655,292.5 656,292.6 657,292.8 658,293.0 659,293.7 660,295.2 661,296.7 662,297.8 663,299.2 664,300.9 665,302.7 666,304.2 667,305.6 668,307.3 669,308.8 670,310.2 671,311.7 672,313.1 673,314.3 674,315.3 675,316.1 676,317.2 677,318.3 678,319.1 679,319.7 680,319.8 681,320.2 682,321.1 683,321.9 684,322.5 685,322.4 686,322.4 687,322.7 688,322.6 689,322.9 690,323.7 691,323.8 692,323.8 693,324.0 694,324.2 695,324.2 696,324.1 697,323.7 698,323.8 699,324.4 700,324.7 701,324.5 702,324.4 703,324.3 704,324.4 705,324.8 706,324.8 707,324.7 708,324.8 709,324.9 710,324.9 711,324.7 712,324.5 713,324.9 714,325.2 715,324.8 716,324.8 717,325.1 718,325.2 719,324.9 720,324.6 721,324.6 722,324.5 723,324.6 724,324.9 725,325.0 726,325.4 727,325.8 728,325.5 729,325.0 730,324.7 731,324.5 732,324.5 733,324.5 734,324.5 735,324.6 736,324.7 737,324.5 738,324.3 739,324.5 740,324.8 741,325.0 742,325.2 743,325.1 744,324.9 745,324.7 746,324.8 747,325.2 748,325.2 749,324.6 750,324.4 751,324.4 752,324.1 753,324.3 754,324.6 755,324.5 756,324.4 757,324.4 758,324.2 759,324.2 760,324.1 761,324.0 762,324.0 763,324.1 764,324.2 765,324.2 766,324.1 767,323.8 768,323.5 769,323.1 770,323.0 771,323.2 772,323.1 773,322.8 774,322.7 775,322.4 776,322.2 777,322.1 778,321.5 779,321.0 780,321.0 781,320.5 782,319.6 783,318.7 784,317.8 785,317.3 786,316.8 787,315.9 788,314.7 789,314.0 790,313.2 791,311.8 792,310.6 793,309.7 794,308.4 795,306.9 796,305.3 797,303.9 798,302.8 799,302.0 800,301.4 801,300.9 802,300.5 803,300.2 803.4,300.0 804,299.6 805,299.6 806,300.3 807,301.1 808,302.0 809,303.0 810,303.9 811,305.1 812,306.6 813,307.8 814,309.0 815,310.3 816,311.3 817,312.3 818,313.6 819,314.9 820,315.6 821,316.6 822,317.6 823,318.0 824,318.5 825,319.2 826,319.5 827,319.6 828,320.1 829,320.5 830,320.8 831,321.1 832,321.3 833,321.2 834,321.3 835,321.8 836,322.1 837,322.1 838,321.9 839,322.2 840,322.5 841,322.4 842,322.1 843,322.1 844,322.0 845,321.8 846,322.1 847,322.5 848,322.3 849,322.3 850,322.6 851,322.8 852,322.7 853,322.4 854,322.5 855,322.6 856,322.4 857,322.3 858,322.8 859,322.8 860,322.1 861,321.6 862,321.8 863,322.1 864,322.4 865,322.6 866,322.5 867,322.3 868,322.4 869,322.3 870,322.3 871,322.7 872,323.1 873,322.9 874,322.3 875,322.1 876,322.1 877,322.0 878,322.1 879,322.3 880,322.6 881,322.4 882,322.1 883,321.9 884,322.0 885,322.3 886,322.5 887,322.6 888,322.5 889,322.6 890,322.6 891,322.2 892,321.8 893,321.9 894,322.5 895,322.7 896,322.6 897,322.4 898,322.2 899,322.0 900,322.1 901,322.4 902,322.3 903,322.1 904,322.1 905,322.2 906,322.1 907,322.0 908,322.3 909,322.2 910,322.1 911,322.3 912,322.2 913,321.9 914,321.7 915,321.4 916,321.0 917,321.1 918,321.2 919,321.1 920,321.1 921,321.0 922,320.7 923,320.8 924,321.0 925,321.1 926,321.1 927,320.8 928,320.4 929,320.1 930,319.9 931,319.6 932,319.2 933,318.8 934,318.5 935,318.2 936,317.6 937,316.8 938,316.2 939,315.5 940,314.3 941,313.6 942,312.6 943,310.9 944,309.6 945,308.3 946,306.8 947,305.0 948,302.8 949,301.0 950,299.1 951,296.4 952,293.6 953,290.8 954,288.1 955,285.4 956,282.6 957,280.1 958,277.8 959,275.4 960,273.5 961,272.0 962,270.9 963,270.6 963.6,270.4 964,270.1 965,270.7 966,271.7 967,273.2 968,275.1 969,277.4 970,279.9 971,282.5 972,285.3 973,288.0 974,290.7 975,293.2 976,295.5 977,298.1 978,300.8 979,303.4 980,305.7 981,307.4 982,308.7 983,310.2 984,311.7 985,313.1 986,314.5 987,315.4 988,315.8 989,316.7 990,317.8 991,318.3 992,318.8 993,319.3 994,319.6 995,319.8 996,319.9 997,320.1 998,320.6 999,320.7 1000,320.8 1001,321.2 1002,321.6 1003,321.7 1004,321.6 1005,321.5 1006,321.7 1007,321.8 1008,322.2 1009,322.4 1010,322.6 1011,322.9 1012,322.9 1013,322.7 1014,322.6 1015,322.7 1016,322.9 1017,322.8 1018,322.5 1019,322.6 1020,322.8 1021,322.7 1022,322.3 1023,321.8 1024,321.8 1025,322.1 1026,321.6 1027,321.0 1028,320.9 1029,320.4 1030,319.6 1031,319.0 1032,318.9 1033,319.0 1034,318.6 1035,318.2 1036,317.9 1037,317.4 1038,316.7 1039,316.5 1040,316.4 1041,316.3 1041.5,316.5 1042,316.7 1043,316.9 1044,317.0 1045,317.8 1046,318.7 1047,318.8 1048,319.1 1049,320.2 1050,321.1 1051,321.5 1052,322.0 1053,322.7 1054,323.0 1055,323.3 1056,323.9 1057,324.6 1058,325.3 1059,325.6 1060,325.9 1061,326.3 1062,326.6 1063,326.6 1064,326.4 1065,326.6 1066,327.0 1067,327.1 1068,327.2 1069,327.5 1070,327.6 1071,327.8 1072,327.9 1073,327.7 1074,328.3 1075,328.8 1076,328.5 1077,328.4 1078,328.8 1079,328.8 1080,328.4 1081,328.4 1082,328.6 1083,328.7 1084,328.8 1085,328.7 1086,328.6 1087,328.5 1088,328.4 1089,328.4 1090,328.5 1091,328.5 1092,328.6 1093,328.9 1094,328.7 1095,328.5 1096,328.7 1097,328.7 1098,328.7 1099,328.8 1100,328.8 1101,328.7 1102,328.6 1103,328.9 1104,328.9 1105,328.4 1106,328.5 1107,328.6 1108,328.3 1109,328.5 1110,328.9 1111,329.0 1112,329.1 1113,329.0 1114,328.8 1115,328.8 1116,328.9 1117,329.0 1118,328.9 1119,328.7 1120,328.8 1121,329.0 1122,328.8 1123,328.4 1124,328.4 1125,328.5 1126,328.5 1127,328.3 1128,328.3 1129,328.5 1130,328.8 1131,328.9 1132,329.0 1133,329.1 1134,329.2 1135,329.5 1136,329.3 1137,328.8 1138,328.3 1139,327.9 1140,328.3 1141,328.9 1142,329.0 1143,328.8 1144,328.9 1145,328.9 1146,328.5 1147,328.2 1148,328.4 1149,328.7 1150,328.8 1151,328.7 1152,328.6 1153,328.9 1154,329.0 1155,329.0 1156,329.1 1157,329.1 1158,328.7 1159,328.2 1160,328.4 1161,328.9 1162,329.0 1163,328.7 1164,328.6 1165,328.6 1166,328.6 1167,328.5 1168,328.6 1169,329.0 1170,328.8 1171,328.2 1172,328.0 1173,328.2 1174,328.5 1175,328.5 1176,328.2 1177,328.0 1178,327.7 1179,327.5 1180,327.7 1181,327.7 1182,327.5 1183,326.7 1184,326.3 1185,326.1 1186,325.4 1187,324.7 1188,324.3 1189,324.2 1190,323.9 1191,323.5 1192,323.3 1193,323.1 1194,322.7 1195,322.4 1195.5,322.4 1196,322.6 1197,322.8 1198,322.9 1199,323.2 1200,323.3 1201,323.4 1202,324.1 1203,324.9 1204,325.6 1205,326.1 1206,326.4 1207,326.9 1208,327.4 1209,327.5 1210,327.4 1211,327.6 1212,327.8 1213,328.0 1214,328.4 1215,328.7 1216,328.8 1217,329.0 1218,328.9 1219,328.7 1220,328.7 1221,328.8 1222,329.0 1223,329.2 1224,329.5 1225,329.4 1226,329.2 1227,328.9 1228,328.8 1229,328.8 1230,329.0 1231,329.2 1232,329.4 1233,329.6 1234,329.6 1235,329.4 1236,329.3 1237,329.3 1238,329.4 1239,329.3 1240,329.1 1241,329.5 1242,329.8 1243,329.4 1244,329.0 1245,328.8 1246,328.8 1247,329.2 1248,329.3 1249,329.4 1250,329.8 1251,329.7 1252,329.3 1253,329.3 1254,329.4 1255,329.3 1256,329.2 1257,329.3 1258,329.4 1259,329.4 1260,329.3 1261,329.4 1262,329.4 1263,329.2 1264,329.3 1265,329.5 1266,329.3 1267,328.9 1268,328.8 1269,328.7 1270,328.7 1271,328.9 1272,328.9 1273,328.6 1274,328.9 1275,329.2 1276,329.0 1277,329.0 1278,329.1 1279,328.9 1280,328.6 1281,328.7 1282,329.1 1283,329.4 1284,329.5 1285,329.1 1286,328.8 1287,328.7 1288,328.8 1289,328.8 1290,328.7 1291,329.0 1292,329.3 1293,329.2 1294,329.1 1295,328.8 1296,328.6 1297,328.9 1298,329.4 1299,329.4 1300,329.2 1301,329.3 1302,329.3 1303,329.4 1304,329.3 1305,329.1 1306,329.1 1307,328.8 1308,328.5 1309,328.5 1310,328.8 1311,328.9 1312,328.8 1313,328.9 1314,329.0 1315,328.7 1316,328.6 1317,329.0 1318,329.0 1319,328.5 1320,327.9 1321,328.0 1322,328.2 1323,328.2 1324,328.0 1325,327.6 1326,327.3 1327,327.2 1328,327.1 1329,326.8 1330,326.3 1331,325.6 1332,324.8 1333,324.4 1334,323.9 1335,323.6 1336,323.5 1337,323.0 1338,322.0 1339,321.1 1340,320.4 1341,320.0 1342,319.7 1343,319.2 1344,318.5 1345,317.8 1346,317.2 1347,317.2 1347.3,317.4 1348,317.7 1349,317.9 1350,318.0 1351,318.6 1352,319.2 1353,319.5 1354,319.9 1355,320.6 1356,321.2 1357,322.0 1358,323.0 1359,323.6 1360,323.7 1361,324.2 1362,324.9 1363,325.4 1364,325.7 1365,326.2 1366,326.7 1367,326.8 1368,327.0 1369,327.3 1370,327.5 1371,327.8 1372,328.1 1373,328.1 1374,328.1 1375,328.1 1376,327.9 1377,327.9 1378,328.0 1379,328.2 1380,328.2 1381,328.2 1382,328.5 1383,328.4 1384,328.3 1385,328.7 1386,328.7 1387,328.6 1388,328.7 1389,328.5 1390,328.6 1391,328.7 1392,328.4 1393,328.3 1394,328.4 1395,328.2 1396,328.2 1397,328.6 1398,328.7 1399,328.3 1400,328.2 1401,328.3 1402,328.1 1403,327.9 1404,328.1 1405,328.2 1406,328.3 1407,328.4 1408,328.4 1409,328.2 1410,327.9 1411,327.7 1412,327.8 1413,327.9 1414,327.8 1415,327.7 1416,327.8 1417,328.3 1418,328.4 1419,328.0 1420,327.8 1421,327.9 1422,328.0 1423,328.0 1424,327.8 1425,327.7 1426,327.6 1427,327.6 1428,327.7 1429,327.7 1430,327.8 1431,327.9 1432,328.0 1433,328.0 1434,327.9 1435,327.7 1436,327.8 1437,327.8 1438,327.8 1439,327.9 1440,327.8 1441,327.5 1442,327.5 1443,327.7 1444,327.8 1445,327.5 1446,327.3 1447,327.6 1448,328.0 1449,327.9 1450,327.8 1451,327.7 1452,327.5 1453,327.8 1454,328.1 1455,328.2 1456,328.2 1457,328.1 1458,328.0 1459,328.1 1460,328.4 1461,328.7 1462,328.5 1463,328.2 1464,328.0 1465,328.1 1466,328.3 1467,328.0 1468,327.9 1469,328.0 1470,328.3 1471,328.3 1472,327.9 1473,328.1 1474,328.2 1475,327.9 1476,327.9 1477,328.3 1478,328.3 1479,327.8 1480,327.6 1481,328.1 1482,328.2 1483,327.5 1484,327.2 1485,327.5 1486,327.6 1487,327.4 1488,327.1 1489,326.7 1490,326.6 1491,326.8 1492,326.3 1493,325.3 1494,325.2 1495,325.3 1496,324.6 1497,323.9 1498,323.7 1499,323.4 1500,322.8 1501,322.3 1502,321.8 1503,321.3 1504,320.9 1505,320.3 1506,319.8 1507,319.6 1508,319.4 1509,319.0 1510,318.5 1511,318.3 1512,318.3 1513,318.2 1514,318.2 1515,318.4 1516,318.3 1517,318.0 1518,318.0 1519,318.4 1520,318.5 1521,318.3 1522,318.0 1523,318.1 1524,318.7 1525,319.2 1526,319.0 1527,318.8 1528,319.0 1529,318.9 1530,318.9 1531,318.8 1532,318.5 1533,318.1 1534,317.8 1535,317.7 1536,317.8 1537,318.0 1538,318.2 1539,318.3 1540,318.1 1541,317.9 1542,318.0 1543,318.1 1544,318.4 1545,318.4 1546,318.3 1547,318.5 1548,318.8 1549,319.0 1550,319.5 1551,319.8 1552,319.6 1553,319.3 1554,319.3 1555,319.7 1556,319.8 1557,319.8 1558,320.3 1559,320.6 1560,320.5 1561,320.4 1562,320.6 1563,320.7 1564,320.6 1565,320.9 1566,321.4 1567,321.3 1568,321.2 1569,321.0 1570,320.9 1571,321.1 1572,321.2 1573,321.1 1574,321.4 1575,321.7 1576,321.5 1577,321.0 1578,320.8 1579,321.0 1580,321.5 1581,321.7 1582,321.5 1583,321.1 1584,321.0 1585,321.2 1586,321.3 1587,321.1 1588,321.3 1589,321.4 1590,321.2 1591,320.7 1592,320.5 1593,320.7 1594,320.9 1595,320.7 1596,320.5 1597,320.4 1598,320.5 1599,320.3 1600,319.9 1601,319.5 1602,319.2 1603,319.0 1604,318.5 1605,318.1 1606,318.0 1607,318.0 1608,317.6 1609,317.2 1610,316.5 1611,315.6 1612,315.0 1613,314.7 1614,314.7 1615,314.2 1616,313.8 1617,313.3 1618,312.8 1619,312.4 1620,312.4 1621,312.4 1622,312.4 1623,312.5 1624,312.5 1625,312.6 1626,312.9 1627,313.5 1628,314.0 1629,314.3 1630,315.2 1631,316.3 1632,316.5 1633,316.7 1634,317.6 1635,318.4 1636,318.9 1637,319.4 1638,319.8 1639,320.5 1640,321.4 1641,321.4 1642,321.4 1643,321.8 1644,322.3 1645,322.7 1646,323.0 1647,323.0 1648,323.1 1649,323.4 1650,323.7 1651,323.6 1652,323.6 1653,323.8 1654,324.1 1655,324.2 1656,324.2 1657,324.5 1658,324.7 1659,324.5 1660,324.6 1661,324.8 1662,324.9 1663,324.6 1664,324.7 1665,324.8 1666,325.1 1667,325.4 1668,325.4 1669,325.3 1670,325.6 1671,326.0 1672,326.2 1673,325.9 1674,325.4 1675,325.4 1676,325.9 1677,325.8 1678,325.8 1679,325.7 1680,325.7 1681,325.9 1682,326.1 1683,326.0 1684,325.9 1685,325.9 1686,326.0 1687,326.2 1688,326.5 1689,326.4 1690,326.3 1691,325.9 1692,325.6 1693,325.9 1694,326.0 1695,326.0 1696,325.8 1697,325.6 1698,325.8 1699,326.2 1700,326.3 1701,325.9 1702,325.8 1703,326.1 1704,326.1 1705,326.3 1706,326.1 1707,325.8 1708,326.2 1709,326.2 1710,325.9 1711,326.0 1712,326.1 1713,326.1 1714,325.7 1715,325.4 1716,325.8 1717,326.2 1718,326.5 1719,326.4 1720,326.0 1721,325.6 1722,325.5 1723,325.4 1724,325.3 1725,325.1 1726,325.0 1727,325.3 1728,325.8 1729,326.1 1730,325.9 1731,325.5 1732,325.4 1733,325.1 1734,324.9 1735,325.0 1736,325.5 1737,325.4 1738,325.1 1739,325.2 1740,325.5 1741,325.4 1742,325.2 1743,324.9 1744,324.9 1745,325.1 1746,325.1 1747,324.8 1748,324.7 1749,324.9 1750,324.9 1751,325.0 1752,325.1 1753,325.2 1754,325.2 1755,325.0 1756,324.7 1757,324.2 1758,324.1 1759,324.4 1760,324.6 1761,324.6 1762,324.4 1763,323.8 1764,323.4 1765,323.1 1766,322.6 1767,322.0 1768,321.5 1769,321.1 1770,320.4 1771,319.7 1772,318.9 1773,318.2 1774,317.3 1775,316.2 1776,315.0 1777,314.0 1778,313.1 1779,311.6 1780,310.3 1781,308.7 1782,307.2 1783,306.3 1784,305.3 1785,304.0 1786,303.0 1787,302.0 1788,301.3 1789,301.0 1790,301.1 1790.3,301.3 1791,301.1 1792,301.6 1793,302.2 1794,302.4 1795,303.4 1796,305.1 1797,306.5 1798,308.0 1799,309.5 1800,310.6 1801,311.5 1802,312.8 1803,314.5 1804,315.9 1805,317.3 1806,318.4 1807,319.4 1808,320.8 1809,321.9 1810,322.4 1811,322.7 1812,323.3 1813,324.0 1814,324.5 1815,325.0 1816,325.6 1817,326.1 1818,326.4 1819,326.7 1820,327.1 1821,327.0 1822,326.6 1823,327.0 1824,327.7 1825,328.0 1826,327.9 1827,327.9 1828,328.0 1829,328.2 1830,328.2 1831,328.1 1832,328.3 1833,328.5 1834,328.3 1835,328.2 1836,328.5 1837,328.6 1838,328.8 1839,329.0 1840,329.2 1841,329.1 1842,328.8 1843,328.6 1844,328.8 1845,329.2 1846,329.4 1847,329.3 1848,328.8 1849,328.6 1850,329.1 1851,329.2 1852,329.0 1853,329.1 1854,329.2 1855,329.0 1856,328.8 1857,329.0 1858,328.9 1859,329.0 1860,329.4 1861,329.3 1862,328.8 1863,328.5 1864,328.8 1865,329.1 1866,328.8 1867,328.6 1868,328.5 1869,328.6 1870,328.9 1871,329.2 1872,329.1 1873,328.9 1874,328.9 1875,329.0 1876,328.8 1877,329.0 1878,329.3 1879,329.2 1880,329.0 1881,328.8 1882,328.5 1883,328.4 1884,328.7 1885,329.2 1886,329.5 1887,329.3 1888,329.0 1889,328.7 1890,328.5 1891,328.6 1892,328.7 1893,328.7 1894,328.7 1895,328.3 1896,328.0 1897,328.0 1898,328.0 1899,328.2 1900,328.7 1901,328.7 1902,328.7 1903,329.0 1904,328.9 1905,328.7 1906,328.8 1907,328.8 1908,328.6 1909,328.5 1910,328.2 1911,328.2 1912,328.5 1913,328.6 1914,328.5 1915,328.6 1916,328.9 1917,329.0 1918,329.0 1919,328.8 1920,328.5 1921,328.4 1922,328.5 1923,328.4 1924,328.5 1925,328.8 1926,328.5 1927,328.3 1928,328.7 1929,328.9 1930,328.8 1931,328.7 1932,328.4 1933,328.2 1934,328.2 1935,328.5 1936,328.7 1937,328.6 1938,328.5 1939,328.3 1940,328.3 1941,328.6 1942,328.7 1943,328.3 1944,328.1 1945,328.2 1946,328.5 1947,328.8 1948,328.6 1949,328.2 1950,328.1 1951,328.0 1952,328.1 1953,328.4 1954,328.4 1955,328.3 1956,328.2 1957,328.2 1958,328.4 1959,328.0 1960,327.8 1961,328.0 1962,328.0 1963,328.1 1964,328.3 1965,328.2 1966,328.2 1967,328.3 1968,328.6 1969,328.5 1970,328.1 1971,327.9 1972,327.8 1973,328.1 1974,328.1 1975,327.8 1976,327.8 1977,327.5 1978,327.2 1979,327.5 1980,328.0 1981,327.9 1982,327.6 1983,327.5 1984,327.4 1985,327.1 1986,327.4 1987,327.8 1988,327.4 1989,327.3 1990,327.2 1991,327.0 1992,327.1 1993,327.2 1994,327.1 1995,327.0 1996,326.9 1997,326.8 1998,327.0 1999,327.1 2000,327.0 2001,326.4 2002,326.1 2003,326.5 2004,326.7 2005,326.1 2006,325.8 2007,326.0 2008,326.3 2009,326.2 2010,326.1 2011,326.5 2012,326.6 2013,326.4 2014,326.2 2015,326.3 2016,326.7 2017,326.7 2018,326.2 2019,325.9 2020,326.0 2021,326.3 2022,326.3 2023,326.5 2024,326.5 2025,326.5 2026,326.6 2027,326.4 2028,326.2 2029,326.4 2030,326.7 2031,326.3 2032,326.2 2033,326.5 2034,326.3 2035,326.0 2036,326.0 2037,326.5 2038,326.8 2039,326.8 2040,326.7 2041,326.5 2042,326.3 2043,326.2 2044,326.3 2045,326.5 2046,326.7 2047,326.6 2048,326.5 2049,326.6 2050,326.4 2051,326.2 2052,326.1 2053,326.1 2054,326.3 2055,326.5 2056,326.5 2057,326.6 2058,326.5 2059,326.3 2060,326.2 2061,326.3 2062,326.3 2063,326.4 2064,326.5 2065,326.4 2066,326.1 2067,326.1 2068,326.5 2069,326.8 2070,326.9 2071,327.1 2072,327.2 2073,327.0 2074,326.7 2075,326.5 2076,326.4 2077,326.7 2078,326.9 2079,327.0 2080,326.9 2081,327.0 2082,327.1 2083,327.1 2084,327.1 2085,327.1 2086,326.9 2087,326.9 2088,327.2 2089,327.3 2090,327.1 2091,327.3 2092,327.6 2093,327.3 2094,327.2 2095,327.2 2096,327.1 2097,327.4 2098,327.9 2099,327.9 2100,327.7 2101,327.7 2102,327.7 2103,327.7 2104,327.5 2105,327.4 2106,327.6 2107,327.8 2108,327.8 2109,327.5 2110,327.4 2111,327.9 2112,328.4 2113,328.2 2114,327.6 2115,327.5 2116,327.5 2117,327.6 2118,327.7 2119,327.8 2120,328.0 2121,327.9 2122,327.5 2123,327.5 2124,327.5 2125,327.3 2126,327.5 2127,327.8 2128,327.9 2129,327.7 2130,328.1 2131,328.5 2132,328.3 2133,328.1 2134,327.8 2135,327.7 2136,328.0 2137,328.2 2138,328.4 2139,328.7 2140,328.5 2141,328.3 2142,328.2 2143,327.7 2144,327.6 2145,327.7 2146,327.9 2147,328.1 2148,328.2 2149,328.6 2150,328.7 2151,328.4 2152,328.2 2153,328.3 2154,328.2 2155,328.0 2156,328.2 2157,328.4 2158,328.4 2159,328.7 2160,328.5 2161,328.1 2162,328.0 2163,328.1 2164,328.1 2165,328.2 2166,328.4 2167,328.5 2168,328.5 2169,328.2 2170,328.1 2171,328.5 2172,328.6 2173,328.6 2174,328.6 2175,328.7 2176,328.8 2177,328.7 2178,328.5 2179,328.2 2180,328.3 2181,328.4 2182,328.3 2183,328.4 2184,328.6 2185,328.6 2186,328.2 2187,328.1 2188,328.4 2189,328.5 2190,328.5 2191,328.4 2192,328.5 2193,328.7 2194,328.7 2195,328.5 2196,328.3 2197,328.2 2198,328.5 2199,328.7 2200,328.6 2201,328.5 2202,328.0 2203,327.7 2204,328.0 2205,328.3 2206,328.5 2207,328.5 2208,328.6 2209,328.7 2210,328.4 2211,328.1 2212,328.4 2213,328.7 2214,328.3 2215,328.5 2216,329.0 2217,328.8 2218,328.5 2219,328.7 2220,329.0 2221,328.9 2222,328.7 2223,328.8 2224,329.0 2225,329.1 2226,329.1 2227,328.6 2228,328.4 2229,328.9 2230,329.3 2231,329.1 2232,329.2 2233,329.2 2234,328.9 2235,328.8 2236,328.8 2237,328.8 2238,329.0 2239,329.1 2240,328.7 2241,328.4 2242,328.5 2243,328.7 2244,328.8 2245,328.8 2246,328.6 2247,328.8 2248,329.1 2249,329.0 2250,329.1 2251,329.0 2252,328.7 2253,328.6 2254,329.0 2255,329.2 2256,328.9 2257,328.4 2258,328.1 2259,328.2 2260,328.6 2261,329.2 2262,329.2 2263,329.1 2264,329.1 2265,329.1 2266,329.1 2267,329.1 2268,328.8 2269,328.5 2270,328.9 2271,329.3 2272,329.1 2273,328.9 2274,328.9 2275,329.0 2276,329.2 2277,329.0 2278,328.5 2279,328.2 2280,328.4 2281,328.4 2282,328.6 2283,329.2 2284,329.2 2285,328.9 2286,329.2 2287,329.3 2288,329.1 2289,329.0 2290,328.7 2291,328.6 2292,328.6 2293,328.9 2294,329.1 2295,328.9 2296,328.7 2297,328.9 2298,329.1 2299,329.3 2300,329.3 2301,329.0 2302,328.8 2303,329.0 2304,329.1 2305,329.1 2306,329.4 2307,329.6 2308,329.3 2309,329.4 2310,329.5 2311,329.2 2312,328.9 2313,329.0 2314,329.3" fill="none" stroke="#B274DE" stroke-width="8" stroke-linejoin="round" stroke-linecap="butt"/>
<polyline points="191,416.8 192,416.8 193,417.0 194,417.4 195,417.2 196,416.9 197,417.1 198,417.4 199,417.6 200,417.4 201,417.3 202,417.2 203,417.2 204,417.5 205,417.8 206,417.9 207,417.8 208,417.8 209,417.8 210,418.0 211,418.4 212,418.5 213,418.5 214,418.5 215,418.4 216,418.4 217,418.5 218,418.9 219,419.2 220,419.3 221,419.3 222,419.5 223,419.6 224,419.7 225,419.8 226,419.7 227,419.7 228,419.8 229,419.9 230,420.1 231,420.5 232,420.4 233,420.0 234,419.9 235,420.2 236,420.5 237,420.7 238,420.6 239,420.6 240,420.8 241,420.8 242,421.0 243,421.5 244,421.7 245,421.5 246,421.2 247,421.1 248,421.3 249,421.5 250,421.5 251,421.4 252,421.5 253,421.7 254,422.0 255,422.3 256,422.0 257,421.5 258,421.4 259,421.5 260,421.9 261,422.4 262,422.4 263,422.3 264,422.4 265,422.2 266,422.0 267,422.1 268,422.6 269,422.9 270,422.9 271,423.3 272,423.5 273,423.2 274,423.1 275,423.1 276,423.3 277,423.5 278,423.6 279,423.9 280,424.0 281,423.9 282,423.8 283,423.8 284,423.7 285,423.7 286,423.9 287,424.0 288,424.1 289,424.4 290,424.1 291,423.9 292,424.0 293,423.8 294,423.7 295,423.8 296,424.0 297,424.4 298,424.8 299,425.0 300,425.1 301,425.2 302,425.0 303,424.9 304,425.0 305,424.8 306,424.9 307,425.4 308,425.4 309,425.3 310,425.4 311,425.3 312,425.0 313,424.9 314,425.0 315,425.1 316,425.4 317,425.7 318,425.7 319,425.4 320,425.3 321,425.3 322,425.6 323,425.8 324,425.6 325,425.3 326,425.5 327,426.0 328,426.2 329,426.1 330,425.8 331,425.9 332,426.0 333,426.1 334,426.3 335,426.3 336,426.1 337,426.0 338,425.8 339,425.9 340,426.3 341,426.2 342,425.9 343,426.0 344,426.6 345,427.0 346,427.1 347,426.7 348,426.2 349,426.4 350,426.8 351,426.9 352,426.9 353,427.0 354,427.4 355,427.4 356,426.9 357,426.9 358,427.2 359,427.2 360,427.4 361,427.5 362,427.1 363,427.0 364,427.1 365,427.2 366,427.5 367,427.8 368,427.6 369,427.4 370,427.5 371,427.3 372,427.5 373,427.7 374,427.4 375,427.2 376,427.2 377,426.9 378,426.9 379,427.4 380,427.4 381,427.3 382,427.3 383,427.2 384,427.2 385,427.8 386,428.4 387,428.3 388,427.8 389,427.4 390,427.4 391,427.6 392,427.8 393,427.9 394,427.8 395,427.8 396,427.5 397,427.5 398,427.7 399,427.5 400,427.4 401,427.7 402,427.8 403,428.1 404,428.4 405,428.3 406,428.2 407,428.2 408,428.1 409,427.8 410,427.9 411,427.8 412,427.8 413,428.0 414,428.2 415,428.5 416,428.3 417,427.8 418,428.2 419,428.9 420,429.0 421,428.8 422,428.4 423,427.9 424,428.0 425,428.6 426,428.7 427,428.4 428,428.4 429,428.3 430,428.1 431,428.4 432,429.2 433,429.3 434,429.1 435,429.0 436,428.6 437,428.1 438,428.1 439,428.6 440,429.0 441,429.3 442,429.1 443,428.6 444,428.5 445,428.9 446,428.9 447,428.4 448,428.4 449,428.9 450,429.1 451,428.8 452,428.9 453,429.1 454,429.2 455,429.3 456,429.4 457,429.0 458,428.7 459,428.5 460,428.2 461,428.6 462,429.2 463,429.2 464,429.0 465,428.8 466,428.6 467,428.9 468,429.3 469,429.3 470,429.2 471,429.6 472,429.7 473,429.4 474,429.2 475,428.7 476,428.7 477,429.2 478,429.4 479,429.3 480,429.2 481,429.3 482,429.7 483,429.9 484,429.3 485,429.1 486,429.6 487,429.8 488,429.7 489,429.9 490,430.1 491,429.8 492,429.4 493,429.0 494,429.0 495,429.3 496,429.5 497,429.5 498,429.6 499,429.8 500,429.5 501,429.4 502,429.5 503,429.4 504,429.7 505,429.8 506,429.9 507,430.1 508,430.0 509,429.6 510,429.3 511,429.1 512,429.3 513,429.5 514,429.7 515,429.6 516,429.1 517,429.0 518,429.3 519,429.8 520,429.8 521,429.5 522,429.6 523,429.9 524,429.9 525,429.6 526,429.5 527,429.9 528,430.2 529,430.2 530,430.2 531,430.0 532,429.9 533,430.1 534,430.1 535,429.9 536,429.8 537,429.9 538,430.2 539,430.3 540,430.3 541,430.2 542,429.8 543,429.9 544,430.3 545,429.9 546,429.7 547,430.2 548,430.2 549,429.9 550,429.9 551,429.7 552,429.6 553,429.8 554,429.8 555,429.7 556,429.7 557,429.8 558,430.0 559,430.2 560,430.2 561,429.9 562,429.5 563,429.6 564,430.1 565,430.5 566,430.4 567,430.2 568,430.1 569,430.0 570,430.1 571,430.2 572,430.3 573,430.3 574,430.1 575,430.0 576,429.8 577,430.1 578,430.8 579,431.3 580,430.8 581,430.1 582,430.0 583,430.0 584,429.7 585,429.7 586,429.9 587,430.0 588,430.4 589,430.5 590,430.0 591,429.6 592,429.4 593,429.5 594,429.9 595,430.1 596,430.0 597,429.8 598,429.6 599,429.4 600,429.2 601,429.4 602,429.8 603,429.6 604,429.0 605,428.8 606,429.1 607,428.8 608,428.0 609,427.7 610,427.9 611,427.7 612,427.1 613,426.8 614,426.7 615,426.6 616,426.0 617,425.1 618,424.7 619,424.4 620,423.7 621,422.8 622,422.0 623,421.1 624,420.3 625,419.4 626,418.6 627,417.8 628,417.0 629,416.4 630,415.5 631,414.1 632,412.9 633,411.7 634,410.1 635,408.9 636,408.3 637,407.4 638,406.1 639,404.4 640,402.8 641,401.8 642,400.8 643,399.4 644,398.1 645,396.9 646,396.2 647,395.8 648,395.1 649,394.0 650,393.4 651,393.4 652,393.4 652.2,393.2 653,393.0 654,393.0 655,393.5 656,394.5 657,395.2 658,395.5 659,396.4 660,397.6 661,398.5 662,399.5 663,400.8 664,402.2 665,403.5 666,404.5 667,405.4 668,406.6 669,407.6 670,408.5 671,409.8 672,411.2 673,412.2 674,413.4 675,414.5 676,415.3 677,416.3 678,417.4 679,418.1 680,418.6 681,419.2 682,420.1 683,421.1 684,421.5 685,421.5 686,421.9 687,422.4 688,423.0 689,423.8 690,424.2 691,424.1 692,424.5 693,424.8 694,424.8 695,425.0 696,425.2 697,425.6 698,425.7 699,425.7 700,426.0 701,426.3 702,426.5 703,426.7 704,426.8 705,426.8 706,426.8 707,426.6 708,426.5 709,426.8 710,427.2 711,427.1 712,426.5 713,426.6 714,426.9 715,426.6 716,426.9 717,427.5 718,427.4 719,427.0 720,427.3 721,427.5 722,427.3 723,427.1 724,426.9 725,426.7 726,426.8 727,427.1 728,427.3 729,427.4 730,426.8 731,426.2 732,426.6 733,427.0 734,427.0 735,426.8 736,426.9 737,427.1 738,427.0 739,426.9 740,426.7 741,426.7 742,426.7 743,426.2 744,426.3 745,426.7 746,426.8 747,426.9 748,426.7 749,426.8 750,427.1 751,426.9 752,426.4 753,426.2 754,426.4 755,426.7 756,426.8 757,426.5 758,426.4 759,426.4 760,426.1 761,426.1 762,426.2 763,426.2 764,426.2 765,426.1 766,426.3 767,426.8 768,426.9 769,426.7 770,426.5 771,426.6 772,426.7 773,426.9 774,426.8 775,426.4 776,426.1 777,425.6 778,425.0 779,425.2 780,425.9 781,426.0 782,426.0 783,426.2 784,426.3 785,426.1 786,426.3 787,426.4 788,426.0 789,425.7 790,425.9 791,425.8 792,425.5 793,425.5 794,425.6 795,425.9 796,426.0 797,426.0 798,425.7 799,425.4 800,425.5 801,425.6 802,425.8 803,426.1 804,425.7 805,425.4 806,425.7 807,425.7 808,425.5 809,425.4 810,425.6 811,425.7 812,425.6 813,425.4 814,425.5 815,425.7 816,425.2 817,424.5 818,424.6 819,425.0 820,425.2 821,425.4 822,425.6 823,425.5 824,425.3 825,425.5 826,425.6 827,425.4 828,425.4 829,425.7 830,425.3 831,424.8 832,425.0 833,425.1 834,425.2 835,425.5 836,425.4 837,425.3 838,425.4 839,425.4 840,425.3 841,425.2 842,425.2 843,425.0 844,424.9 845,424.9 846,424.7 847,424.8 848,425.2 849,425.1 850,424.9 851,424.9 852,425.0 853,425.0 854,424.9 855,424.8 856,424.9 857,425.0 858,424.8 859,424.4 860,424.4 861,424.9 862,424.8 863,424.6 864,424.6 865,424.5 866,424.3 867,424.1 868,424.2 869,424.5 870,424.8 871,424.8 872,424.7 873,424.8 874,424.3 875,423.6 876,423.8 877,424.5 878,424.5 879,424.1 880,423.9 881,424.1 882,424.5 883,424.6 884,424.6 885,424.1 886,423.6 887,424.0 888,424.1 889,424.1 890,424.3 891,424.2 892,424.2 893,423.9 894,423.7 895,423.7 896,423.8 897,424.0 898,424.0 899,423.8 900,423.7 901,423.6 902,423.5 903,423.4 904,423.3 905,423.0 906,422.7 907,422.6 908,422.5 909,422.1 910,421.9 911,421.9 912,421.8 913,421.5 914,421.6 915,421.6 916,421.0 917,420.4 918,420.5 919,420.6 920,420.3 921,420.2 922,420.1 923,419.7 924,419.3 925,419.1 926,419.0 927,419.1 928,419.1 929,418.9 930,418.6 931,418.6 932,418.3 933,417.8 934,417.7 935,417.7 936,417.8 937,417.7 938,417.5 939,417.5 940,417.6 941,417.4 942,417.0 943,416.9 944,417.1 945,417.4 946,417.2 947,416.9 948,417.0 949,417.0 950,417.2 951,417.4 952,417.4 953,417.4 954,417.3 955,417.2 956,417.5 957,417.7 958,417.4 959,417.3 960,417.5 961,417.5 962,417.6 963,418.0 964,417.9 965,417.5 966,417.7 967,418.0 968,418.0 969,418.0 970,418.2 971,418.0 972,417.5 973,417.3 974,417.4 975,417.8 976,418.2 977,417.9 978,417.5 979,417.7 980,417.9 981,417.8 982,417.8 983,417.7 984,417.6 985,417.9 986,418.2 987,418.0 988,417.8 989,417.7 990,418.1 991,418.5 992,418.9 993,419.5 994,420.2 995,420.5 996,420.4 997,420.9 998,421.7 999,422.2 1000,422.9 1001,423.4 1002,423.3 1003,423.6 1004,424.0 1005,424.2 1006,424.4 1007,424.9 1008,425.4 1009,425.3 1010,425.2 1011,425.1 1012,425.1 1013,425.2 1014,424.7 1015,424.7 1016,424.8 1017,424.6 1018,424.8 1019,424.7 1020,424.2 1021,423.8 1022,423.6 1023,423.6 1024,423.5 1025,423.4 1026,423.3 1027,423.1 1028,422.9 1029,422.4 1030,421.8 1031,421.8 1032,421.6 1033,421.3 1034,421.4 1035,421.3 1036,420.9 1037,420.6 1038,420.6 1039,420.6 1040,420.5 1041,420.2 1042,420.2 1043,420.5 1044,420.3 1045,420.0 1046,420.3 1047,420.8 1048,421.2 1049,421.4 1050,421.7 1051,422.2 1052,422.9 1053,423.4 1054,423.6 1055,423.6 1056,423.8 1057,424.2 1058,424.8 1059,425.2 1060,425.1 1061,425.3 1062,425.8 1063,426.2 1064,426.7 1065,427.1 1066,427.6 1067,428.4 1068,428.8 1069,428.9 1070,429.3 1071,429.8 1072,430.1 1073,430.4 1074,431.0 1075,431.4 1076,431.5 1077,431.8 1078,432.4 1079,432.6 1080,432.3 1081,432.5 1082,432.9 1083,432.9 1084,433.2 1085,433.3 1086,433.4 1087,433.4 1088,433.4 1089,433.5 1090,433.9 1091,434.7 1092,435.1 1093,434.8 1094,434.7 1095,434.8 1096,434.9 1097,434.8 1098,434.5 1099,434.2 1100,434.2 1101,434.1 1102,433.8 1103,433.9 1104,434.4 1105,434.5 1106,434.3 1107,434.8 1108,434.8 1109,434.3 1110,434.1 1111,434.4 1112,434.5 1113,434.2 1114,434.0 1115,434.0 1116,433.8 1117,434.2 1118,434.6 1119,434.6 1120,434.6 1121,434.6 1122,434.6 1123,434.3 1124,434.1 1125,434.1 1126,434.4 1127,434.8 1128,434.9 1129,434.5 1130,434.1 1131,434.0 1132,434.3 1133,434.7 1134,434.6 1135,434.2 1136,434.2 1137,434.5 1138,434.5 1139,434.3 1140,434.5 1141,434.7 1142,434.7 1143,434.9 1144,434.8 1145,434.6 1146,434.5 1147,434.3 1148,434.0 1149,434.0 1150,434.1 1151,434.3 1152,434.4 1153,434.5 1154,434.2 1155,433.7 1156,433.8 1157,433.9 1158,434.0 1159,434.1 1160,434.4 1161,434.4 1162,434.1 1163,434.1 1164,434.1 1165,433.9 1166,434.2 1167,434.3 1168,434.1 1169,434.5 1170,435.0 1171,434.4 1172,433.7 1173,433.8 1174,434.0 1175,434.1 1176,434.1 1177,434.1 1178,434.2 1179,434.1 1180,433.8 1181,433.9 1182,434.2 1183,434.5 1184,434.5 1185,434.3 1186,434.3 1187,434.6 1188,434.8 1189,434.5 1190,434.4 1191,434.4 1192,434.2 1193,434.2 1194,434.3 1195,434.3 1196,434.5 1197,434.8 1198,434.7 1199,434.4 1200,434.6 1201,434.8 1202,434.3 1203,434.3 1204,434.6 1205,434.5 1206,434.5 1207,434.5 1208,434.7 1209,434.7 1210,434.4 1211,434.3 1212,434.3 1213,434.2 1214,434.1 1215,434.1 1216,434.6 1217,435.0 1218,435.1 1219,434.7 1220,434.4 1221,434.5 1222,434.3 1223,434.4 1224,434.6 1225,434.4 1226,434.4 1227,434.5 1228,434.2 1229,434.1 1230,434.2 1231,434.4 1232,434.7 1233,434.6 1234,434.0 1235,434.0 1236,434.0 1237,433.8 1238,433.9 1239,434.2 1240,434.1 1241,433.8 1242,434.0 1243,434.2 1244,433.9 1245,434.1 1246,434.7 1247,434.6 1248,433.9 1249,433.8 1250,434.1 1251,434.0 1252,434.0 1253,434.2 1254,434.1 1255,433.5 1256,433.3 1257,433.8 1258,434.4 1259,434.2 1260,433.9 1261,434.3 1262,434.5 1263,434.3 1264,434.2 1265,434.5 1266,434.7 1267,434.6 1268,434.4 1269,434.3 1270,434.1 1271,434.1 1272,434.2 1273,434.2 1274,434.3 1275,434.6 1276,434.6 1277,434.4 1278,434.1 1279,434.2 1280,434.1 1281,433.9 1282,434.1 1283,434.6 1284,434.6 1285,434.1 1286,433.9 1287,434.1 1288,434.4 1289,434.5 1290,433.9 1291,433.6 1292,434.0 1293,434.3 1294,434.4 1295,434.8 1296,434.9 1297,434.4 1298,433.9 1299,433.8 1300,434.1 1301,434.3 1302,434.1 1303,434.1 1304,434.0 1305,433.9 1306,433.4 1307,432.8 1308,432.4 1309,431.9 1310,431.8 1311,432.1 1312,432.4 1313,432.2 1314,431.6 1315,430.9 1316,430.7 1317,430.8 1318,430.6 1319,430.2 1320,430.2 1321,429.8 1322,429.2 1323,429.2 1324,429.1 1325,428.5 1326,428.4 1327,428.7 1328,428.6 1329,428.0 1330,427.1 1331,426.8 1332,426.8 1333,426.4 1334,426.0 1335,426.1 1336,426.8 1337,427.0 1338,426.7 1339,426.6 1340,426.4 1341,426.6 1342,426.8 1343,426.9 1344,427.2 1345,427.1 1346,427.2 1347,427.7 1348,427.9 1349,427.9 1350,427.7 1351,427.7 1352,428.1 1353,428.5 1354,428.7 1355,428.5 1356,428.6 1357,429.4 1358,430.0 1359,430.1 1360,430.4 1361,430.9 1362,431.1 1363,431.4 1364,431.9 1365,432.5 1366,433.0 1367,433.2 1368,433.6 1369,433.7 1370,433.3 1371,433.2 1372,433.5 1373,433.6 1374,433.6 1375,433.4 1376,433.8 1377,434.1 1378,433.7 1379,433.4 1380,433.6 1381,433.7 1382,433.9 1383,433.9 1384,433.9 1385,434.0 1386,433.8 1387,433.3 1388,433.3 1389,433.6 1390,433.6 1391,433.6 1392,433.6 1393,433.6 1394,433.5 1395,433.6 1396,433.8 1397,433.7 1398,434.0 1399,434.3 1400,434.0 1401,433.7 1402,434.0 1403,434.3 1404,434.4 1405,434.3 1406,433.9 1407,434.1 1408,434.2 1409,434.0 1410,433.5 1411,433.0 1412,433.5 1413,434.0 1414,433.5 1415,433.5 1416,433.9 1417,434.2 1418,434.1 1419,433.6 1420,433.7 1421,433.9 1422,433.6 1423,433.9 1424,434.4 1425,434.4 1426,433.8 1427,433.2 1428,433.5 1429,433.8 1430,433.8 1431,434.1 1432,434.5 1433,434.0 1434,433.6 1435,433.7 1436,433.7 1437,433.7 1438,433.8 1439,434.0 1440,433.8 1441,433.5 1442,433.7 1443,433.8 1444,433.9 1445,434.1 1446,434.0 1447,433.7 1448,434.0 1449,434.5 1450,434.4 1451,434.1 1452,433.9 1453,433.6 1454,433.4 1455,433.8 1456,434.0 1457,434.0 1458,433.9 1459,433.8 1460,433.8 1461,434.0 1462,434.1 1463,434.0 1464,433.8 1465,433.4 1466,433.6 1467,434.3 1468,434.5 1469,434.1 1470,433.6 1471,433.5 1472,433.8 1473,433.9 1474,433.6 1475,433.8 1476,434.0 1477,433.8 1478,433.6 1479,433.6 1480,433.7 1481,434.0 1482,433.9 1483,433.7 1484,434.1 1485,434.2 1486,434.1 1487,434.1 1488,433.9 1489,433.9 1490,433.9 1491,433.5 1492,433.8 1493,433.9 1494,433.7 1495,433.6 1496,433.6 1497,433.4 1498,433.4 1499,433.4 1500,433.6 1501,433.9 1502,433.5 1503,433.3 1504,433.4 1505,433.4 1506,433.4 1507,433.1 1508,432.5 1509,432.0 1510,431.8 1511,431.6 1512,431.1 1513,430.1 1514,429.7 1515,429.9 1516,429.6 1517,428.8 1518,428.1 1519,427.4 1520,426.8 1521,426.5 1522,426.2 1523,425.6 1524,425.1 1525,425.1 1526,425.1 1527,424.8 1528,424.3 1529,424.0 1530,424.1 1531,424.1 1532,423.7 1533,423.6 1534,423.8 1535,423.9 1536,423.8 1537,423.8 1538,423.8 1539,423.5 1540,423.2 1541,423.3 1542,423.5 1543,423.6 1544,423.4 1545,423.5 1546,423.8 1547,424.0 1548,424.0 1549,424.0 1550,424.0 1551,424.1 1552,424.1 1553,424.0 1554,424.0 1555,424.3 1556,424.7 1557,424.4 1558,424.1 1559,424.2 1560,424.4 1561,424.4 1562,424.1 1563,424.1 1564,424.5 1565,424.6 1566,425.0 1567,425.5 1568,426.0 1569,426.2 1570,426.0 1571,425.8 1572,425.7 1573,426.0 1574,426.2 1575,426.3 1576,426.7 1577,427.3 1578,427.5 1579,427.6 1580,427.7 1581,427.7 1582,427.7 1583,427.8 1584,428.4 1585,429.0 1586,429.0 1587,428.8 1588,428.9 1589,429.2 1590,429.2 1591,429.3 1592,429.2 1593,429.2 1594,429.4 1595,429.5 1596,429.5 1597,429.6 1598,429.5 1599,429.4 1600,429.5 1601,429.5 1602,429.5 1603,429.3 1604,429.1 1605,429.3 1606,429.5 1607,429.8 1608,429.9 1609,429.6 1610,429.4 1611,429.2 1612,429.3 1613,429.5 1614,429.2 1615,429.4 1616,430.0 1617,430.4 1618,430.3 1619,430.6 1620,431.1 1621,430.9 1622,430.9 1623,431.5 1624,431.5 1625,431.5 1626,431.8 1627,431.9 1628,432.0 1629,431.9 1630,432.0 1631,432.3 1632,432.4 1633,432.1 1634,432.3 1635,432.7 1636,432.7 1637,432.8 1638,433.0 1639,432.8 1640,432.6 1641,433.0 1642,433.4 1643,433.5 1644,433.5 1645,433.4 1646,433.4 1647,433.5 1648,433.4 1649,433.6 1650,433.8 1651,433.7 1652,433.7 1653,433.4 1654,433.1 1655,433.3 1656,433.4 1657,433.3 1658,433.4 1659,433.6 1660,433.4 1661,433.1 1662,433.3 1663,433.4 1664,433.1 1665,433.0 1666,433.0 1667,433.1 1668,433.4 1669,433.8 1670,434.0 1671,433.9 1672,433.8 1673,433.9 1674,433.7 1675,433.5 1676,433.5 1677,433.5 1678,433.3 1679,433.1 1680,433.1 1681,433.1 1682,433.1 1683,433.3 1684,433.4 1685,433.4 1686,433.5 1687,433.5 1688,433.3 1689,433.1 1690,432.7 1691,432.4 1692,432.8 1693,433.3 1694,433.2 1695,433.5 1696,433.8 1697,433.7 1698,434.0 1699,434.2 1700,434.2 1701,434.2 1702,433.8 1703,433.4 1704,433.4 1705,433.2 1706,432.9 1707,433.2 1708,433.7 1709,433.5 1710,433.2 1711,433.2 1712,433.3 1713,433.2 1714,433.0 1715,432.8 1716,432.7 1717,432.9 1718,433.4 1719,433.9 1720,433.9 1721,433.7 1722,433.4 1723,432.9 1724,432.6 1725,432.5 1726,432.3 1727,432.7 1728,433.2 1729,433.2 1730,432.9 1731,432.5 1732,432.1 1733,432.2 1734,432.4 1735,432.9 1736,432.9 1737,432.2 1738,432.0 1739,432.0 1740,431.8 1741,431.6 1742,431.7 1743,431.7 1744,431.3 1745,430.7 1746,430.3 1747,430.0 1748,429.8 1749,429.4 1750,428.9 1751,428.5 1752,428.0 1753,427.4 1754,427.2 1755,427.4 1756,427.1 1757,426.8 1758,426.7 1759,426.2 1760,425.8 1761,425.7 1762,425.7 1763,425.5 1764,425.2 1765,424.9 1766,425.0 1767,424.7 1768,424.1 1769,424.0 1770,424.1 1771,423.8 1772,423.6 1773,423.8 1774,423.7 1775,423.5 1776,423.3 1777,423.1 1778,423.0 1779,422.9 1780,423.0 1781,423.3 1782,423.5 1783,423.5 1784,423.8 1785,424.1 1786,423.8 1787,423.3 1788,423.3 1789,423.4 1790,423.5 1791,423.5 1792,423.8 1793,424.2 1794,424.1 1795,423.9 1796,424.0 1797,424.3 1798,424.6 1799,424.8 1800,424.3 1801,423.9 1802,424.4 1803,425.2 1804,425.5 1805,425.1 1806,425.0 1807,425.5 1808,425.6 1809,425.7 1810,426.4 1811,427.4 1812,428.0 1813,428.1 1814,428.4 1815,429.1 1816,429.2 1817,429.3 1818,429.9 1819,430.8 1820,431.4 1821,431.8 1822,432.1 1823,432.4 1824,432.6 1825,432.8 1826,433.7 1827,434.2 1828,434.2 1829,434.5 1830,435.0 1831,435.4 1832,435.4 1833,435.2 1834,435.0 1835,434.8 1836,435.0 1837,435.2 1838,435.3 1839,435.4 1840,435.6 1841,435.6 1842,435.5 1843,435.5 1844,435.4 1845,435.4 1846,435.2 1847,435.1 1848,435.3 1849,435.3 1850,435.4 1851,435.6 1852,435.6 1853,435.4 1854,435.2 1855,435.5 1856,435.5 1857,435.4 1858,435.5 1859,435.7 1860,435.7 1861,435.3 1862,434.9 1863,435.0 1864,435.5 1865,435.8 1866,435.6 1867,435.5 1868,435.6 1869,435.4 1870,435.3 1871,435.2 1872,435.1 1873,435.4 1874,435.5 1875,435.2 1876,435.0 1877,435.4 1878,435.6 1879,435.2 1880,435.0 1881,435.1 1882,434.7 1883,434.5 1884,434.9 1885,435.1 1886,435.1 1887,435.2 1888,435.3 1889,435.2 1890,435.1 1891,435.2 1892,435.5 1893,435.8 1894,435.8 1895,435.2 1896,434.5 1897,434.6 1898,435.2 1899,435.1 1900,435.1 1901,435.5 1902,435.5 1903,435.2 1904,435.2 1905,435.2 1906,435.2 1907,435.3 1908,435.1 1909,434.8 1910,435.0 1911,435.1 1912,435.2 1913,435.4 1914,435.4 1915,435.7 1916,435.7 1917,435.2 1918,435.4 1919,435.6 1920,435.3 1921,435.0 1922,435.5 1923,435.7 1924,435.3 1925,435.3 1926,435.4 1927,435.3 1928,435.2 1929,435.3 1930,435.6 1931,435.5 1932,435.4 1933,435.4 1934,435.3 1935,435.4 1936,435.6 1937,435.7 1938,435.7 1939,435.6 1940,435.6 1941,435.6 1942,435.8 1943,435.8 1944,435.6 1945,435.6 1946,435.6 1947,435.4 1948,435.3 1949,435.2 1950,434.9 1951,434.9 1952,435.1 1953,435.2 1954,435.5 1955,435.5 1956,435.4 1957,435.4 1958,435.4 1959,435.3 1960,435.2 1961,435.4 1962,435.7 1963,435.9 1964,435.8 1965,435.6 1966,435.1 1967,435.0 1968,435.4 1969,435.6 1970,435.4 1971,435.7 1972,435.8 1973,435.7 1974,435.7 1975,435.3 1976,434.9 1977,435.0 1978,435.2 1979,435.3 1980,435.1 1981,435.0 1982,435.0 1983,435.2 1984,435.5 1985,435.7 1986,435.7 1987,435.5 1988,435.4 1989,435.4 1990,435.6 1991,435.4 1992,434.9 1993,435.0 1994,435.5 1995,435.5 1996,435.2 1997,435.4 1998,435.5 1999,435.1 2000,434.8 2001,434.9 2002,435.1 2003,435.2 2004,435.4 2005,435.7 2006,435.5 2007,435.1 2008,435.0 2009,435.1 2010,435.5 2011,435.7 2012,435.6 2013,435.4 2014,435.3 2015,435.6 2016,435.8 2017,435.4 2018,435.6 2019,435.6 2020,434.8 2021,434.6 2022,435.0 2023,435.4 2024,435.3 2025,435.3 2026,435.5 2027,435.5 2028,435.4 2029,435.4 2030,435.5 2031,435.5 2032,435.6 2033,435.4 2034,435.2 2035,435.5 2036,435.3 2037,434.9 2038,435.0 2039,434.9 2040,435.1 2041,435.3 2042,435.3 2043,435.3 2044,435.5 2045,435.8 2046,435.4 2047,434.9 2048,434.8 2049,435.0 2050,435.3 2051,435.5 2052,435.6 2053,435.5 2054,435.4 2055,435.4 2056,435.4 2057,435.5 2058,435.7 2059,435.6 2060,435.1 2061,434.7 2062,434.9 2063,435.0 2064,434.7 2065,435.0 2066,435.3 2067,435.1 2068,435.2 2069,435.8 2070,435.9 2071,435.6 2072,435.8 2073,435.7 2074,435.5 2075,435.7 2076,435.4 2077,435.0 2078,435.0 2079,435.0 2080,435.0 2081,435.3 2082,435.6 2083,435.5 2084,435.5 2085,435.6 2086,435.4 2087,435.4 2088,435.4 2089,435.3 2090,435.4 2091,435.4 2092,435.2 2093,435.1 2094,435.1 2095,435.4 2096,435.2 2097,434.9 2098,434.9 2099,435.1 2100,435.2 2101,435.4 2102,435.3 2103,435.2 2104,435.1 2105,434.6 2106,434.4 2107,434.7 2108,434.8 2109,434.7 2110,435.0 2111,435.2 2112,435.1 2113,435.2 2114,435.1 2115,434.7 2116,434.8 2117,435.3 2118,435.6 2119,435.8 2120,435.9 2121,435.6 2122,435.4 2123,435.3 2124,435.3 2125,435.1 2126,435.3 2127,435.5 2128,435.1 2129,435.2 2130,435.5 2131,435.3 2132,435.1 2133,435.1 2134,435.0 2135,435.0 2136,435.1 2137,435.1 2138,435.2 2139,435.3 2140,435.2 2141,435.2 2142,435.3 2143,435.3 2144,435.4 2145,435.3 2146,435.0 2147,434.9 2148,435.0 2149,435.3 2150,435.6 2151,435.6 2152,435.3 2153,435.1 2154,434.6 2155,434.4 2156,434.7 2157,434.8 2158,434.6 2159,434.7 2160,435.1 2161,435.0 2162,435.1 2163,435.7 2164,435.6 2165,435.3 2166,435.3 2167,435.4 2168,435.4 2169,435.0 2170,434.8 2171,435.0 2172,435.3 2173,435.4 2174,435.0 2175,434.9 2176,435.3 2177,435.6 2178,435.7 2179,435.8 2180,435.8 2181,435.5 2182,435.4 2183,435.5 2184,435.3 2185,435.1 2186,435.1 2187,434.9 2188,434.9 2189,434.8 2190,434.9 2191,435.0 2192,435.2 2193,435.8 2194,436.1 2195,435.8 2196,435.3 2197,435.3 2198,435.6 2199,435.6 2200,435.4 2201,435.3 2202,435.4 2203,435.3 2204,435.0 2205,434.8 2206,435.0 2207,435.3 2208,435.2 2209,435.2 2210,435.4 2211,435.5 2212,435.3 2213,434.9 2214,435.2 2215,435.3 2216,434.8 2217,434.9 2218,435.2 2219,435.1 2220,435.1 2221,435.3 2222,435.4 2223,435.3 2224,435.2 2225,435.4 2226,435.7 2227,435.3 2228,434.9 2229,435.2 2230,435.3 2231,435.3 2232,435.3 2233,435.3 2234,435.5 2235,435.6 2236,435.6 2237,435.3 2238,435.0 2239,435.2 2240,435.5 2241,435.6 2242,435.5 2243,435.3 2244,435.4 2245,435.5 2246,435.2 2247,434.9 2248,435.1 2249,435.5 2250,435.5 2251,435.1 2252,435.0 2253,435.3 2254,435.1 2255,435.1 2256,434.9 2257,434.8 2258,435.1 2259,435.5 2260,435.9 2261,436.1 2262,435.7 2263,435.7 2264,435.7 2265,435.2 2266,435.3 2267,435.6 2268,435.4 2269,435.3 2270,435.2 2271,435.2 2272,435.3 2273,435.6 2274,435.7 2275,435.2 2276,435.0 2277,435.0 2278,434.9 2279,435.2 2280,435.9 2281,436.1 2282,435.6 2283,435.2 2284,435.1 2285,434.8 2286,435.1 2287,435.7 2288,435.6 2289,434.9 2290,434.9 2291,435.4 2292,435.4 2293,435.3 2294,435.3 2295,435.0 2296,434.9 2297,435.2 2298,435.2 2299,434.9 2300,434.9 2301,435.2 2302,435.3 2303,435.4 2304,435.5 2305,435.6 2306,435.3 2307,434.9 2308,434.7 2309,434.9 2310,435.8 2311,436.1 2312,435.3 2313,435.0 2314,435.3" fill="none" stroke="#30AD6B" stroke-width="8" stroke-linejoin="round" stroke-linecap="butt"/>
<polyline points="191,718.6 192,718.6 193,718.5 194,718.4 195,718.7 196,719.2 197,719.3 198,719.1 199,719.0 200,719.3 201,719.5 202,719.4 203,719.2 204,719.5 205,719.6 206,719.3 207,719.3 208,719.6 209,719.9 210,720.0 211,719.9 212,719.7 213,719.7 214,719.6 215,719.7 216,719.9 217,720.1 218,720.3 219,720.2 220,720.2 221,720.5 222,720.8 223,720.7 224,720.6 225,720.8 226,720.8 227,720.9 228,721.2 229,721.4 230,721.5 231,721.5 232,721.4 233,721.2 234,721.1 235,721.4 236,721.5 237,721.6 238,721.5 239,721.3 240,721.4 241,721.9 242,722.1 243,721.9 244,722.1 245,722.2 246,722.0 247,721.8 248,722.0 249,722.4 250,722.4 251,722.1 252,722.0 253,722.4 254,722.7 255,722.6 256,722.7 257,722.8 258,722.7 259,722.9 260,723.0 261,722.9 262,722.9 263,723.2 264,723.3 265,723.3 266,723.5 267,723.5 268,723.3 269,723.5 270,723.8 271,724.2 272,724.1 273,724.0 274,724.2 275,724.3 276,724.2 277,724.4 278,724.6 279,724.7 280,724.4 281,724.5 282,724.5 283,724.6 284,724.9 285,724.9 286,724.6 287,724.7 288,724.8 289,724.8 290,725.0 291,725.2 292,725.2 293,725.5 294,725.7 295,725.5 296,725.5 297,725.7 298,725.5 299,725.2 300,725.4 301,725.7 302,725.9 303,725.9 304,725.9 305,725.8 306,725.7 307,725.8 308,726.0 309,726.3 310,726.4 311,726.1 312,725.9 313,726.2 314,726.4 315,726.3 316,726.6 317,726.8 318,726.7 319,726.5 320,726.2 321,726.2 322,726.4 323,726.6 324,726.8 325,726.8 326,727.1 327,727.1 328,726.9 329,726.8 330,726.7 331,727.2 332,727.5 333,727.4 334,727.2 335,727.3 336,727.5 337,727.6 338,727.3 339,727.1 340,727.4 341,727.8 342,727.8 343,727.7 344,727.5 345,727.4 346,727.8 347,727.9 348,727.8 349,727.8 350,728.0 351,728.0 352,728.1 353,727.9 354,727.7 355,727.9 356,728.0 357,728.1 358,728.3 359,728.4 360,728.6 361,728.7 362,728.5 363,728.1 364,728.3 365,728.7 366,728.6 367,728.5 368,728.7 369,728.9 370,728.9 371,728.9 372,728.7 373,728.7 374,728.8 375,728.7 376,728.5 377,728.6 378,728.9 379,729.4 380,729.7 381,729.7 382,729.5 383,729.3 384,729.4 385,729.4 386,729.3 387,729.2 388,729.2 389,729.6 390,729.9 391,729.9 392,730.2 393,730.2 394,729.6 395,729.4 396,729.5 397,729.5 398,729.6 399,729.8 400,730.1 401,730.1 402,730.0 403,729.9 404,730.0 405,730.0 406,730.1 407,730.1 408,730.0 409,729.9 410,730.3 411,730.6 412,730.2 413,730.1 414,730.3 415,730.0 416,729.6 417,730.0 418,730.5 419,730.6 420,730.7 421,730.7 422,730.3 423,730.0 424,730.1 425,730.5 426,730.6 427,730.4 428,730.4 429,730.5 430,730.2 431,730.1 432,730.5 433,730.7 434,730.5 435,730.3 436,730.5 437,730.7 438,730.9 439,731.0 440,731.0 441,731.1 442,731.0 443,731.3 444,731.4 445,731.4 446,731.3 447,731.2 448,731.3 449,731.2 450,731.0 451,731.0 452,731.1 453,731.1 454,731.4 455,731.5 456,731.4 457,731.2 458,731.1 459,731.4 460,731.7 461,731.8 462,731.6 463,731.3 464,731.3 465,731.3 466,731.2 467,731.3 468,731.6 469,731.7 470,731.8 471,731.6 472,731.5 473,731.5 474,731.5 475,731.6 476,731.7 477,731.7 478,731.8 479,732.0 480,732.1 481,732.0 482,732.0 483,732.0 484,732.2 485,732.2 486,731.7 487,731.5 488,731.6 489,731.8 490,732.4 491,732.8 492,732.7 493,732.6 494,732.5 495,732.3 496,732.4 497,732.6 498,732.4 499,732.4 500,732.2 501,732.0 502,732.0 503,732.4 504,732.4 505,732.2 506,732.2 507,732.3 508,732.4 509,732.6 510,732.6 511,732.4 512,732.1 513,732.2 514,732.3 515,732.3 516,732.4 517,732.4 518,732.4 519,732.6 520,732.5 521,732.3 522,732.4 523,732.9 524,733.0 525,732.6 526,732.5 527,732.8 528,732.9 529,732.5 530,732.4 531,732.7 532,732.7 533,732.6 534,732.5 535,732.5 536,732.8 537,733.1 538,733.1 539,732.9 540,732.9 541,732.9 542,733.0 543,733.1 544,733.1 545,732.9 546,732.9 547,733.0 548,733.0 549,733.1 550,733.3 551,733.2 552,733.2 553,733.3 554,733.1 555,733.0 556,733.3 557,733.1 558,732.9 559,733.2 560,733.6 561,733.3 562,732.9 563,733.1 564,733.2 565,733.0 566,733.0 567,733.3 568,733.5 569,733.5 570,733.3 571,733.1 572,733.1 573,733.4 574,733.2 575,733.0 576,733.2 577,733.3 578,733.1 579,733.2 580,733.2 581,733.0 582,732.9 583,732.9 584,732.9 585,732.9 586,732.9 587,732.8 588,733.0 589,733.0 590,733.0 591,733.4 592,733.7 593,733.4 594,733.1 595,733.2 596,733.2 597,733.0 598,732.9 599,733.1 600,733.3 601,733.2 602,732.9 603,732.7 604,732.8 605,733.2 606,733.2 607,732.8 608,732.7 609,732.6 610,732.6 611,732.8 612,732.7 613,732.3 614,732.4 615,732.7 616,732.8 617,732.5 618,732.3 619,732.3 620,732.3 621,732.0 622,731.8 623,732.0 624,732.0 625,731.7 626,731.8 627,731.6 628,731.2 629,731.0 630,730.9 631,730.8 632,730.4 633,729.6 634,729.3 635,729.2 636,728.8 637,728.1 638,727.5 639,726.6 640,725.4 641,724.1 642,722.5 643,720.7 644,718.2 645,714.5 646,709.8 647,702.8 648,692.0 649,675.0 650,648.9 651,611.9 652,564.1 653,511.6 654,473.1 654.5,467.6 655,473.7 656,512.0 657,564.2 658,612.1 659,649.2 660,675.2 661,692.3 662,703.4 663,710.4 664,714.9 665,718.1 666,720.6 667,722.7 668,724.5 669,725.8 670,726.9 671,727.9 672,728.8 673,729.5 674,729.8 675,730.0 676,730.7 677,731.3 678,731.4 679,731.5 680,731.8 681,732.1 682,732.3 683,732.3 684,732.5 685,733.0 686,733.2 687,733.3 688,733.2 689,733.0 690,733.1 691,733.2 692,733.0 693,732.9 694,732.8 695,732.8 696,732.8 697,732.8 698,732.9 699,732.8 700,732.6 701,732.5 702,732.4 703,732.3 704,731.9 705,731.4 706,730.7 707,730.2 708,729.5 709,728.5 710,727.3 711,725.8 712,723.6 713,719.8 714,713.7 715,704.0 716,687.8 717,661.9 718,626.1 719,588.5 720,570.5 721,588.4 722,626.0 723,661.5 724,687.3 725,704.1 726,714.4 727,720.1 728,723.6 729,726.4 730,728.4 731,729.6 732,730.5 733,731.3 734,732.1 735,732.5 736,732.8 737,733.7 738,734.3 739,734.2 740,734.2 741,734.7 742,735.1 743,735.3 744,735.0 745,734.9 746,735.3 747,735.6 748,735.8 749,735.8 750,735.5 751,735.5 752,735.9 753,736.2 754,736.1 755,735.9 756,735.9 757,736.3 758,736.7 759,736.8 760,736.6 761,736.4 762,736.1 763,736.0 764,736.1 765,736.1 766,736.1 767,736.1 768,736.2 769,736.3 770,736.4 771,736.4 772,736.5 773,736.7 774,736.6 775,736.4 776,736.4 777,736.4 778,736.4 779,736.4 780,736.7 781,736.9 782,736.7 783,736.2 784,735.9 785,736.1 786,736.4 787,736.5 788,736.3 789,736.4 790,736.5 791,736.4 792,736.5 793,736.4 794,736.1 795,736.1 796,736.1 797,735.8 798,735.6 799,735.8 800,736.1 801,736.2 802,736.1 803,736.0 804,736.0 805,735.9 806,735.6 807,735.7 808,736.0 809,736.1 810,735.9 811,736.0 812,736.4 813,736.4 814,736.1 815,736.3 816,736.5 817,736.4 818,736.0 819,735.8 820,736.0 821,735.9 822,735.7 823,736.0 824,736.3 825,736.4 826,736.3 827,735.9 828,735.7 829,735.7 830,735.9 831,735.9 832,735.8 833,735.9 834,736.1 835,736.2 836,736.5 837,736.4 838,735.7 839,735.5 840,735.4 841,735.5 842,735.7 843,735.6 844,735.5 845,735.7 846,735.9 847,735.8 848,735.8 849,736.0 850,736.0 851,736.0 852,735.9 853,735.7 854,735.7 855,735.8 856,736.0 857,736.0 858,735.8 859,735.9 860,735.8 861,735.9 862,735.9 863,735.6 864,735.5 865,735.7 866,735.7 867,735.8 868,735.7 869,735.6 870,735.7 871,735.7 872,735.5 873,735.6 874,735.4 875,735.2 876,735.5 877,735.9 878,736.0 879,736.0 880,736.3 881,736.5 882,736.4 883,736.3 884,736.1 885,735.9 886,736.1 887,736.2 888,736.1 889,735.8 890,735.7 891,736.0 892,736.0 893,735.8 894,736.0 895,736.2 896,736.2 897,736.3 898,736.2 899,735.8 900,735.9 901,736.3 902,736.5 903,736.3 904,735.9 905,736.0 906,736.4 907,736.7 908,736.5 909,736.1 910,735.9 911,736.1 912,736.2 913,736.2 914,736.5 915,736.6 916,736.3 917,735.8 918,736.0 919,736.3 920,736.1 921,736.1 922,736.4 923,736.6 924,736.5 925,736.4 926,736.3 927,736.4 928,736.5 929,736.6 930,736.6 931,736.5 932,736.4 933,736.5 934,736.7 935,736.7 936,736.7 937,736.9 938,736.9 939,736.6 940,736.5 941,736.6 942,736.4 943,736.3 944,736.4 945,736.5 946,736.4 947,736.3 948,736.4 949,736.8 950,737.0 951,737.0 952,736.5 953,736.3 954,736.4 955,736.3 956,736.4 957,736.4 958,736.5 959,736.6 960,736.8 961,737.0 962,736.7 963,736.4 964,736.4 965,736.2 966,736.1 967,735.9 968,736.0 969,736.1 970,735.8 971,735.4 972,735.1 973,734.9 974,734.4 975,733.2 976,731.7 977,729.5 978,725.1 979,717.9 980,706.7 981,692.1 982,681.2 982.3,680.3 983,684.1 984,697.8 985,711.9 986,722.0 987,727.9 988,731.0 989,732.8 990,734.0 991,734.5 992,735.1 993,735.6 994,735.7 995,735.9 996,736.1 997,735.9 998,735.8 999,735.8 1000,735.5 1001,734.9 1002,734.2 1003,732.9 1004,731.0 1005,728.6 1006,726.0 1007,724.1 1007.7,723.9 1008,724.0 1009,725.3 1010,727.6 1011,729.8 1012,731.7 1013,733.1 1014,733.9 1015,734.5 1016,734.8 1017,735.0 1018,735.1 1019,735.3 1020,735.5 1021,735.3 1022,734.8 1023,734.6 1024,734.1 1025,733.4 1026,732.7 1027,731.7 1028,729.7 1029,726.2 1030,721.2 1031,714.2 1032,705.2 1033,697.6 1033.7,695.8 1034,696.1 1035,702.1 1036,711.0 1037,718.7 1038,724.9 1039,729.2 1040,731.6 1041,733.0 1042,733.9 1043,734.5 1044,735.1 1045,735.6 1046,735.5 1047,735.5 1048,735.6 1049,735.7 1050,735.6 1051,735.2 1052,734.4 1053,732.9 1054,731.0 1055,729.0 1056,725.9 1057,722.6 1057.8,721.6 1058,722.0 1059,724.2 1060,727.5 1061,730.6 1062,732.8 1063,734.3 1064,735.2 1065,735.8 1066,736.3 1067,736.6 1068,736.5 1069,736.4 1070,736.2 1071,735.8 1072,735.0 1073,733.8 1074,732.6 1075,731.2 1076,729.4 1077,728.4 1078,729.3 1079,731.5 1080,733.4 1081,734.7 1082,735.7 1083,736.4 1084,736.9 1085,736.9 1086,736.7 1087,737.0 1088,737.5 1089,737.4 1090,737.3 1091,737.4 1092,737.5 1093,737.4 1094,737.1 1095,737.2 1096,737.5 1097,737.5 1098,737.7 1099,737.8 1100,737.6 1101,737.4 1102,737.3 1103,737.3 1104,737.2 1105,737.0 1106,737.0 1107,737.5 1108,737.7 1109,737.7 1110,737.6 1111,737.5 1112,737.6 1113,737.5 1114,737.3 1115,737.4 1116,737.3 1117,737.5 1118,737.8 1119,737.7 1120,737.5 1121,737.3 1122,737.2 1123,737.2 1124,737.0 1125,736.7 1126,736.6 1127,736.5 1128,736.1 1129,736.0 1130,735.9 1131,735.4 1132,734.6 1133,733.7 1134,732.2 1135,729.4 1136,724.4 1137,717.2 1138,709.0 1139,704.4 1140,708.3 1141,716.9 1142,724.5 1143,729.3 1144,732.2 1145,734.1 1146,735.0 1147,735.4 1148,735.7 1149,736.2 1150,736.6 1151,736.9 1152,736.7 1153,736.6 1154,736.8 1155,736.9 1156,737.0 1157,737.0 1158,737.0 1159,737.2 1160,737.2 1161,737.1 1162,737.1 1163,737.2 1164,737.3 1165,737.3 1166,737.1 1167,736.9 1168,737.3 1169,737.7 1170,737.7 1171,737.6 1172,737.5 1173,737.3 1174,737.2 1175,737.6 1176,737.8 1177,737.7 1178,737.6 1179,737.6 1180,737.5 1181,737.5 1182,737.5 1183,737.5 1184,737.3 1185,737.3 1186,737.5 1187,737.2 1188,737.0 1189,737.1 1190,737.2 1191,737.7 1192,737.9 1193,737.6 1194,737.3 1195,737.2 1196,737.3 1197,737.4 1198,737.3 1199,737.5 1200,737.7 1201,737.5 1202,737.1 1203,736.9 1204,737.1 1205,737.3 1206,737.6 1207,737.9 1208,737.8 1209,737.6 1210,737.7 1211,737.7 1212,737.4 1213,737.3 1214,737.2 1215,737.0 1216,736.6 1217,736.3 1218,736.0 1219,735.4 1220,734.6 1221,733.2 1222,731.8 1223,730.2 1223.7,729.5 1224,729.7 1225,730.9 1226,732.7 1227,734.2 1228,735.2 1229,736.0 1230,736.4 1231,736.7 1232,737.0 1233,737.1 1234,737.1 1235,737.1 1236,737.1 1237,737.1 1238,737.3 1239,737.5 1240,737.5 1241,737.6 1242,737.9 1243,737.7 1244,737.3 1245,737.4 1246,737.6 1247,737.6 1248,737.5 1249,737.4 1250,737.4 1251,737.5 1252,737.6 1253,737.4 1254,737.3 1255,737.4 1256,737.2 1257,737.3 1258,737.4 1259,737.3 1260,737.4 1261,737.4 1262,737.3 1263,737.5 1264,737.6 1265,737.4 1266,737.5 1267,737.7 1268,737.7 1269,737.5 1270,737.2 1271,737.2 1272,737.4 1273,737.6 1274,737.7 1275,737.7 1276,737.8 1277,737.5 1278,737.4 1279,737.6 1280,737.6 1281,737.3 1282,737.4 1283,737.6 1284,737.8 1285,738.1 1286,738.0 1287,737.7 1288,737.5 1289,737.5 1290,737.5 1291,737.5 1292,737.5 1293,737.5 1294,737.7 1295,738.0 1296,737.9 1297,737.5 1298,737.3 1299,737.6 1300,737.8 1301,737.5 1302,737.4 1303,737.5 1304,737.5 1305,737.5 1306,737.3 1307,737.3 1308,737.3 1309,737.3 1310,737.5 1311,737.6 1312,737.5 1313,737.6 1314,737.7 1315,737.7 1316,737.7 1317,737.5 1318,737.3 1319,737.2 1320,737.2 1321,737.5 1322,737.8 1323,737.7 1324,737.3 1325,737.3 1326,737.3 1327,737.1 1328,737.1 1329,736.9 1330,736.6 1331,736.3 1332,736.1 1333,735.7 1334,735.5 1335,735.0 1336,734.3 1337,733.6 1338,733.0 1339,731.8 1340,729.6 1341,726.5 1342,722.2 1343,715.7 1344,706.9 1345,695.8 1346,684.1 1347,676.0 1347.5,674.8 1348,676.1 1349,684.5 1350,695.8 1351,706.4 1352,715.3 1353,722.0 1354,726.6 1355,729.5 1356,731.4 1357,732.8 1358,733.7 1359,734.3 1360,734.8 1361,735.3 1362,735.6 1363,735.7 1364,736.0 1365,736.2 1366,736.4 1367,736.6 1368,736.5 1369,736.6 1370,736.8 1371,737.0 1372,737.0 1373,737.1 1374,737.1 1375,737.0 1376,737.1 1377,737.1 1378,737.2 1379,737.3 1380,737.5 1381,737.7 1382,737.8 1383,737.5 1384,737.3 1385,737.3 1386,737.6 1387,737.8 1388,737.6 1389,737.4 1390,737.5 1391,737.5 1392,737.4 1393,737.1 1394,736.9 1395,737.2 1396,737.6 1397,737.4 1398,737.1 1399,737.1 1400,737.3 1401,737.7 1402,737.6 1403,737.4 1404,737.5 1405,737.5 1406,737.6 1407,737.5 1408,737.4 1409,737.4 1410,737.5 1411,737.7 1412,737.6 1413,737.2 1414,737.3 1415,737.8 1416,737.8 1417,737.6 1418,737.7 1419,737.7 1420,737.5 1421,737.5 1422,737.6 1423,737.8 1424,737.5 1425,737.4 1426,737.8 1427,737.8 1428,737.4 1429,737.3 1430,737.3 1431,737.5 1432,737.6 1433,737.6 1434,737.4 1435,737.4 1436,737.6 1437,737.8 1438,737.9 1439,737.7 1440,737.6 1441,737.5 1442,737.5 1443,737.7 1444,737.6 1445,737.3 1446,737.5 1447,737.6 1448,737.5 1449,737.7 1450,737.7 1451,737.6 1452,737.9 1453,738.0 1454,737.8 1455,737.8 1456,738.0 1457,737.9 1458,737.5 1459,737.4 1460,737.4 1461,737.3 1462,737.3 1463,737.6 1464,737.7 1465,737.7 1466,737.8 1467,737.6 1468,737.6 1469,737.6 1470,737.6 1471,737.6 1472,737.8 1473,737.9 1474,737.8 1475,737.7 1476,737.5 1477,737.4 1478,737.5 1479,737.7 1480,738.0 1481,738.0 1482,738.1 1483,738.3 1484,738.3 1485,738.0 1486,737.6 1487,737.4 1488,737.6 1489,737.6 1490,737.6 1491,737.5 1492,737.5 1493,737.7 1494,737.6 1495,737.5 1496,737.5 1497,737.5 1498,737.7 1499,737.8 1500,737.4 1501,737.2 1502,737.0 1503,737.0 1504,737.3 1505,737.2 1506,736.8 1507,736.7 1508,736.9 1509,736.7 1510,736.1 1511,735.6 1512,735.3 1513,735.2 1514,734.9 1515,734.2 1516,732.8 1517,730.7 1518,728.2 1519,724.5 1520,719.2 1521,713.0 1522,706.2 1523,700.7 1523.6,699.6 1524,700.2 1525,704.0 1526,709.6 1527,715.1 1528,719.2 1529,721.0 1530,720.7 1531,717.9 1532,712.0 1533,701.9 1534,687.2 1535,670.0 1536,656.9 1536.5,655.0 1537,657.4 1538,671.0 1539,688.4 1540,703.6 1541,714.8 1542,722.1 1543,726.3 1544,729.0 1545,731.0 1546,732.0 1547,732.6 1548,733.1 1549,733.5 1550,733.5 1551,733.1 1552,732.7 1553,731.5 1554,729.7 1555,727.1 1556,723.0 1557,717.3 1558,710.7 1559,703.8 1560,699.6 1560.3,699.6 1561,701.2 1562,706.7 1563,713.7 1564,720.2 1565,725.3 1566,729.2 1567,731.8 1568,732.8 1569,733.3 1570,734.1 1571,734.7 1572,735.3 1573,735.5 1574,735.5 1575,735.6 1576,735.9 1577,735.9 1578,735.9 1579,736.3 1580,736.5 1581,736.5 1582,736.5 1583,736.4 1584,736.5 1585,736.9 1586,737.0 1587,736.8 1588,736.5 1589,736.6 1590,736.8 1591,736.8 1592,736.3 1593,736.0 1594,735.9 1595,736.0 1596,736.3 1597,736.2 1598,735.7 1599,735.7 1600,735.7 1601,734.8 1602,733.1 1603,731.1 1604,728.1 1605,724.2 1606,720.2 1607,717.3 1607.5,716.6 1608,716.8 1609,720.1 1610,724.8 1611,728.7 1612,731.1 1613,733.1 1614,734.8 1615,735.7 1616,736.1 1617,736.4 1618,736.6 1619,736.6 1620,736.8 1621,737.2 1622,737.2 1623,737.0 1624,737.1 1625,736.9 1626,736.8 1627,737.3 1628,737.6 1629,737.4 1630,737.2 1631,737.4 1632,737.5 1633,737.1 1634,736.9 1635,737.4 1636,737.7 1637,737.4 1638,737.0 1639,737.0 1640,737.6 1641,737.7 1642,737.6 1643,737.5 1644,737.5 1645,737.4 1646,737.3 1647,737.3 1648,737.4 1649,737.5 1650,737.7 1651,737.7 1652,737.6 1653,737.7 1654,737.5 1655,737.6 1656,737.9 1657,737.7 1658,737.3 1659,737.6 1660,738.0 1661,737.7 1662,737.2 1663,737.2 1664,737.4 1665,737.6 1666,737.7 1667,737.7 1668,737.8 1669,737.6 1670,737.2 1671,737.1 1672,737.3 1673,737.6 1674,737.7 1675,737.7 1676,737.5 1677,737.0 1678,736.7 1679,737.2 1680,737.5 1681,737.4 1682,737.3 1683,737.7 1684,737.9 1685,737.6 1686,737.3 1687,737.5 1688,737.8 1689,737.8 1690,737.7 1691,737.9 1692,737.8 1693,737.5 1694,737.7 1695,737.8 1696,737.8 1697,737.7 1698,737.5 1699,737.4 1700,737.5 1701,737.5 1702,737.5 1703,737.4 1704,737.3 1705,737.3 1706,737.4 1707,737.5 1708,737.5 1709,737.5 1710,737.2 1711,737.2 1712,737.5 1713,737.5 1714,737.3 1715,737.4 1716,737.5 1717,737.5 1718,737.6 1719,738.0 1720,738.1 1721,738.0 1722,737.6 1723,737.5 1724,737.8 1725,738.0 1726,737.9 1727,737.8 1728,737.6 1729,737.5 1730,737.8 1731,737.8 1732,737.5 1733,737.6 1734,737.8 1735,737.8 1736,737.8 1737,737.9 1738,737.9 1739,737.7 1740,737.4 1741,737.6 1742,737.5 1743,737.4 1744,737.4 1745,737.4 1746,737.7 1747,737.9 1748,737.6 1749,737.7 1750,737.7 1751,737.5 1752,737.3 1753,737.4 1754,737.6 1755,737.6 1756,737.6 1757,737.6 1758,737.6 1759,737.6 1760,737.6 1761,737.5 1762,737.4 1763,737.3 1764,737.0 1765,736.9 1766,736.9 1767,736.7 1768,736.2 1769,735.7 1770,734.9 1771,733.9 1772,733.2 1773,732.4 1774,731.5 1774.4,731.1 1775,731.4 1776,732.2 1777,733.2 1778,733.8 1779,734.1 1780,734.5 1781,734.7 1782,734.6 1783,734.3 1784,733.9 1785,733.3 1786,732.1 1787,729.8 1788,726.7 1789,722.4 1790,717.0 1791,711.0 1792,705.9 1792.8,704.5 1793,704.5 1794,707.9 1795,713.8 1796,719.3 1797,724.4 1798,728.7 1799,731.4 1800,733.0 1801,734.1 1802,734.9 1803,735.7 1804,736.3 1805,736.4 1806,736.7 1807,737.2 1808,737.4 1809,737.2 1810,737.1 1811,737.1 1812,737.1 1813,737.2 1814,737.1 1815,736.9 1816,736.9 1817,737.2 1818,737.6 1819,737.8 1820,737.6 1821,737.5 1822,737.7 1823,737.6 1824,737.3 1825,737.3 1826,737.2 1827,736.5 1828,735.5 1829,734.5 1830,733.5 1831,732.2 1832,730.9 1833,729.9 1833.3,729.8 1834,730.3 1835,731.5 1836,732.8 1837,734.4 1838,735.5 1839,736.2 1840,736.7 1841,737.1 1842,737.1 1843,737.2 1844,737.6 1845,737.8 1846,737.7 1847,738.1 1848,738.5 1849,738.4 1850,738.3 1851,738.4 1852,738.2 1853,738.1 1854,738.1 1855,738.2 1856,738.5 1857,738.4 1858,738.2 1859,738.2 1860,738.3 1861,738.3 1862,738.3 1863,738.2 1864,738.2 1865,738.2 1866,738.3 1867,738.4 1868,738.3 1869,738.2 1870,738.2 1871,738.3 1872,738.4 1873,738.5 1874,738.4 1875,738.4 1876,738.8 1877,738.8 1878,738.7 1879,738.7 1880,738.6 1881,738.5 1882,738.8 1883,739.2 1884,739.1 1885,738.8 1886,738.6 1887,738.8 1888,739.1 1889,739.0 1890,738.9 1891,739.0 1892,739.0 1893,739.0 1894,738.8 1895,738.6 1896,738.8 1897,739.1 1898,738.9 1899,738.8 1900,738.8 1901,738.6 1902,738.5 1903,738.4 1904,738.5 1905,738.6 1906,738.7 1907,738.6 1908,738.4 1909,738.5 1910,738.5 1911,738.6 1912,738.8 1913,738.8 1914,738.6 1915,738.4 1916,738.5 1917,738.4 1918,738.5 1919,738.6 1920,738.4 1921,738.3 1922,738.6 1923,738.9 1924,738.7 1925,738.6 1926,738.8 1927,738.9 1928,738.7 1929,738.4 1930,738.6 1931,739.2 1932,738.9 1933,738.6 1934,738.7 1935,738.7 1936,738.5 1937,738.5 1938,738.7 1939,738.7 1940,738.6 1941,738.4 1942,738.1 1943,738.1 1944,738.4 1945,738.3 1946,738.5 1947,738.8 1948,738.7 1949,738.6 1950,738.6 1951,738.6 1952,738.5 1953,738.5 1954,738.6 1955,738.4 1956,738.1 1957,738.3 1958,738.4 1959,738.3 1960,738.5 1961,738.7 1962,738.7 1963,738.4 1964,738.1 1965,737.8 1966,737.7 1967,737.9 1968,737.8 1969,737.5 1970,737.2 1971,736.8 1972,736.4 1973,735.9 1974,735.2 1975,734.0 1976,732.5 1977,730.0 1978,726.7 1979,723.3 1980,719.7 1981,716.2 1982,714.0 1982.7,713.4 1983,713.4 1984,715.2 1985,718.6 1986,722.3 1987,725.9 1988,729.2 1989,731.8 1990,733.7 1991,735.1 1992,735.9 1993,736.4 1994,736.7 1995,737.0 1996,737.0 1997,737.5 1998,737.7 1999,737.3 2000,736.7 2001,736.1 2002,735.0 2003,733.6 2004,731.9 2005,729.7 2006,727.7 2006.8,726.9 2007,726.8 2008,727.4 2009,728.8 2010,730.3 2011,731.2 2012,732.2 2013,733.1 2014,733.3 2015,733.5 2016,733.6 2017,733.7 2018,733.6 2019,733.1 2020,731.9 2021,730.4 2022,729.0 2023,727.8 2024,726.8 2024.2,726.5 2025,726.9 2026,728.4 2027,730.4 2028,732.1 2029,733.4 2030,734.4 2031,734.8 2032,735.1 2033,735.6 2034,736.0 2035,736.1 2036,736.0 2037,736.2 2038,736.5 2039,736.5 2040,736.4 2041,736.5 2042,736.6 2043,736.9 2044,737.3 2045,737.5 2046,737.6 2047,737.5 2048,737.3 2049,737.5 2050,737.9 2051,737.9 2052,737.3 2053,737.2 2054,737.5 2055,737.5 2056,737.5 2057,737.6 2058,737.4 2059,737.2 2060,737.5 2061,737.8 2062,737.9 2063,738.0 2064,737.8 2065,737.6 2066,737.4 2067,737.3 2068,737.6 2069,738.0 2070,738.2 2071,738.2 2072,737.8 2073,737.5 2074,737.8 2075,737.9 2076,737.5 2077,737.4 2078,737.7 2079,737.8 2080,737.6 2081,737.5 2082,737.5 2083,737.3 2084,737.4 2085,737.6 2086,737.6 2087,737.4 2088,737.4 2089,737.8 2090,737.7 2091,737.5 2092,737.6 2093,737.6 2094,737.5 2095,737.6 2096,737.8 2097,737.8 2098,737.6 2099,737.5 2100,737.9 2101,738.0 2102,737.7 2103,737.6 2104,737.7 2105,737.8 2106,737.9 2107,737.9 2108,737.8 2109,737.8 2110,737.6 2111,737.5 2112,737.4 2113,737.4 2114,737.5 2115,737.7 2116,737.9 2117,737.9 2118,737.9 2119,737.7 2120,737.4 2121,737.6 2122,737.7 2123,737.5 2124,737.5 2125,737.8 2126,738.0 2127,737.9 2128,737.8 2129,737.8 2130,738.0 2131,738.1 2132,738.0 2133,737.7 2134,737.6 2135,737.6 2136,737.5 2137,737.5 2138,737.5 2139,737.3 2140,737.2 2141,737.3 2142,737.2 2143,737.0 2144,736.9 2145,737.1 2146,737.2 2147,737.1 2148,737.1 2149,736.9 2150,736.9 2151,737.0 2152,736.8 2153,736.7 2154,736.6 2155,736.1 2156,735.6 2157,735.2 2158,734.8 2159,733.8 2160,732.7 2161,731.6 2162,729.8 2163,727.4 2164,725.2 2165,723.3 2166,722.2 2166.6,721.7 2167,721.3 2168,722.3 2169,724.4 2170,726.8 2171,729.1 2172,731.1 2173,732.3 2174,733.2 2175,734.2 2176,735.2 2177,735.7 2178,735.8 2179,735.9 2180,736.1 2181,736.1 2182,736.1 2183,736.4 2184,736.5 2185,736.3 2186,736.2 2187,736.6 2188,736.7 2189,736.5 2190,736.8 2191,736.8 2192,736.3 2193,736.2 2194,736.3 2195,736.2 2196,735.8 2197,735.2 2198,734.7 2199,734.4 2200,734.3 2201,734.4 2202,734.6 2203,734.9 2204,735.6 2205,736.1 2206,736.2 2207,736.4 2208,736.9 2209,737.3 2210,737.7 2211,737.7 2212,737.5 2213,737.2 2214,736.9 2215,736.9 2216,737.2 2217,737.1 2218,737.0 2219,737.0 2220,737.3 2221,737.6 2222,737.6 2223,737.4 2224,737.4 2225,737.5 2226,737.4 2227,737.2 2228,737.2 2229,737.6 2230,737.8 2231,737.8 2232,737.7 2233,737.9 2234,738.1 2235,737.7 2236,737.3 2237,737.4 2238,737.8 2239,738.0 2240,738.0 2241,737.9 2242,737.6 2243,737.3 2244,737.2 2245,737.2 2246,737.3 2247,737.4 2248,737.6 2249,737.5 2250,737.4 2251,737.7 2252,737.8 2253,737.5 2254,737.7 2255,737.8 2256,737.8 2257,737.9 2258,737.9 2259,738.0 2260,737.8 2261,737.7 2262,737.9 2263,737.9 2264,737.8 2265,737.6 2266,737.5 2267,737.5 2268,737.6 2269,737.7 2270,737.8 2271,737.7 2272,737.7 2273,737.9 2274,738.1 2275,738.0 2276,737.8 2277,737.7 2278,737.7 2279,737.6 2280,737.6 2281,737.4 2282,737.2 2283,737.1 2284,737.6 2285,737.9 2286,737.7 2287,737.7 2288,737.7 2289,737.7 2290,737.6 2291,737.6 2292,737.4 2293,737.3 2294,737.5 2295,737.5 2296,737.3 2297,737.6 2298,737.8 2299,737.8 2300,737.8 2301,737.6 2302,737.4 2303,737.5 2304,737.8 2305,738.3 2306,738.2 2307,737.7 2308,737.6 2309,737.8 2310,737.8 2311,737.5 2312,737.6 2313,738.1 2314,738.1" fill="none" stroke="#1466E0" stroke-width="8" stroke-linejoin="round" stroke-linecap="butt"/>
<polyline points="191,958.7 192,958.7 193,959.0 194,959.4 195,959.5 196,959.3 197,959.2 198,959.6 199,959.8 200,959.8 201,959.8 202,959.9 203,959.9 204,959.8 205,959.8 206,960.0 207,960.3 208,960.3 209,960.2 210,960.4 211,960.4 212,960.1 213,960.4 214,960.7 215,960.5 216,960.4 217,960.4 218,960.4 219,960.2 220,960.3 221,960.7 222,961.0 223,961.2 224,961.4 225,961.5 226,961.6 227,961.4 228,961.2 229,961.6 230,962.3 231,962.3 232,962.0 233,961.9 234,961.9 235,961.9 236,962.1 237,961.9 238,962.0 239,962.1 240,961.8 241,961.7 242,961.7 243,961.8 244,962.0 245,962.1 246,962.2 247,962.1 248,962.1 249,962.1 250,962.1 251,962.2 252,962.4 253,962.4 254,962.6 255,962.6 256,962.7 257,963.0 258,962.7 259,962.5 260,962.5 261,962.4 262,962.7 263,962.8 264,962.7 265,962.9 266,963.3 267,963.5 268,963.5 269,963.7 270,963.7 271,963.3 272,963.3 273,963.6 274,963.6 275,963.5 276,963.4 277,963.3 278,963.4 279,963.3 280,963.3 281,963.7 282,964.3 283,964.3 284,964.1 285,964.0 286,964.2 287,964.4 288,964.2 289,964.0 290,964.1 291,964.6 292,964.8 293,964.2 294,963.9 295,964.3 296,964.5 297,964.6 298,964.7 299,964.5 300,964.1 301,964.1 302,964.3 303,964.5 304,964.5 305,964.5 306,964.4 307,964.5 308,964.6 309,964.8 310,965.2 311,965.3 312,965.0 313,965.1 314,965.5 315,965.5 316,965.4 317,965.6 318,965.7 319,965.7 320,965.7 321,965.5 322,965.3 323,965.3 324,965.4 325,965.6 326,965.6 327,965.7 328,965.7 329,965.5 330,965.5 331,965.9 332,965.9 333,965.8 334,966.0 335,966.1 336,965.9 337,965.5 338,965.6 339,966.0 340,966.3 341,966.1 342,966.0 343,966.0 344,966.1 345,966.1 346,965.7 347,965.7 348,966.3 349,966.5 350,966.5 351,966.8 352,966.7 353,966.3 354,966.5 355,966.8 356,966.7 357,966.7 358,966.9 359,966.7 360,966.5 361,966.5 362,966.6 363,966.8 364,966.8 365,966.9 366,966.8 367,966.8 368,966.8 369,967.0 370,967.5 371,967.7 372,967.6 373,967.4 374,967.3 375,967.4 376,967.5 377,967.5 378,967.6 379,967.7 380,967.8 381,967.8 382,967.6 383,967.4 384,967.3 385,967.3 386,967.4 387,967.7 388,967.7 389,967.8 390,968.2 391,968.2 392,968.1 393,967.9 394,967.4 395,967.7 396,967.9 397,967.6 398,967.7 399,967.8 400,967.8 401,967.8 402,967.7 403,967.8 404,967.9 405,967.9 406,968.5 407,968.9 408,968.6 409,968.3 410,968.2 411,968.1 412,968.4 413,968.6 414,968.5 415,968.5 416,968.6 417,968.6 418,968.3 419,968.4 420,968.6 421,968.4 422,968.1 423,968.1 424,968.3 425,968.4 426,968.2 427,968.3 428,968.7 429,968.8 430,968.5 431,968.4 432,968.7 433,969.1 434,969.0 435,968.9 436,969.2 437,969.4 438,969.1 439,968.6 440,968.6 441,968.7 442,968.6 443,968.6 444,968.6 445,968.7 446,968.9 447,968.9 448,968.6 449,968.5 450,968.9 451,969.2 452,969.3 453,968.8 454,968.4 455,968.7 456,969.0 457,969.0 458,968.9 459,969.0 460,969.4 461,969.9 462,969.7 463,969.4 464,969.4 465,969.4 466,969.4 467,969.4 468,969.6 469,969.8 470,969.9 471,969.9 472,969.9 473,969.7 474,969.3 475,969.2 476,969.4 477,969.7 478,969.9 479,970.0 480,969.7 481,969.7 482,970.1 483,970.2 484,970.0 485,970.1 486,970.3 487,970.2 488,969.8 489,969.8 490,970.2 491,970.4 492,970.2 493,969.9 494,969.9 495,970.0 496,970.3 497,970.3 498,970.3 499,970.5 500,970.6 501,970.5 502,970.3 503,970.5 504,970.7 505,970.5 506,970.2 507,970.4 508,970.5 509,970.2 510,970.2 511,970.4 512,970.5 513,970.6 514,970.3 515,970.2 516,970.6 517,970.9 518,970.8 519,970.8 520,970.8 521,970.8 522,971.0 523,971.1 524,970.9 525,970.5 526,970.2 527,970.3 528,970.7 529,971.1 530,971.4 531,971.5 532,971.2 533,971.2 534,971.4 535,971.5 536,971.3 537,971.3 538,971.3 539,971.3 540,971.4 541,971.2 542,971.2 543,971.5 544,971.5 545,971.4 546,971.5 547,971.6 548,971.6 549,971.8 550,971.9 551,972.1 552,972.2 553,972.0 554,971.8 555,971.7 556,972.0 557,972.3 558,972.1 559,972.1 560,972.1 561,971.7 562,971.6 563,971.7 564,971.6 565,971.6 566,971.9 567,972.3 568,972.3 569,972.2 570,971.9 571,971.9 572,972.2 573,972.2 574,972.0 575,972.1 576,972.1 577,972.0 578,971.9 579,971.9 580,972.1 581,972.3 582,972.5 583,972.4 584,972.3 585,972.5 586,972.6 587,972.4 588,972.5 589,972.6 590,972.4 591,972.3 592,972.2 593,972.1 594,972.0 595,972.1 596,972.2 597,972.6 598,972.4 599,971.7 600,971.8 601,972.3 602,972.4 603,972.4 604,972.4 605,972.5 606,972.6 607,972.6 608,972.3 609,972.0 610,971.7 611,971.5 612,971.7 613,972.1 614,972.2 615,971.7 616,971.1 617,971.0 618,971.0 619,971.0 620,971.0 621,970.4 622,969.9 623,969.8 624,969.6 625,969.2 626,969.0 627,968.4 628,967.5 629,967.0 630,966.7 631,966.4 632,965.6 633,964.4 634,963.3 635,962.3 636,960.8 637,959.1 638,956.9 639,954.1 640,950.7 641,946.5 642,941.0 643,934.2 644,925.7 645,915.3 646,902.6 647,887.3 648,869.6 649,849.8 650,828.9 651,808.1 652,789.6 653,776.5 654,771.9 655,776.8 656,789.7 657,808.1 658,829.1 659,850.4 660,870.4 661,888.0 662,903.0 663,915.7 664,926.4 665,935.5 666,942.8 667,948.2 668,952.4 669,955.8 670,958.4 671,960.3 672,962.0 673,963.6 674,965.2 675,966.7 676,967.8 677,968.4 678,969.2 679,969.8 680,970.1 681,970.5 682,971.1 683,971.6 684,972.2 685,972.7 686,973.1 687,973.5 688,973.8 689,974.0 690,974.2 691,974.3 692,974.6 693,975.0 694,974.9 695,975.0 696,975.4 697,975.6 698,975.9 699,976.1 700,976.1 701,976.2 702,976.4 703,976.4 704,976.2 705,976.4 706,976.7 707,976.7 708,976.7 709,976.7 710,976.6 711,976.5 712,976.6 713,976.9 714,976.9 715,976.8 716,976.7 717,976.8 718,977.2 719,977.5 720,977.1 721,976.9 722,977.3 723,977.2 724,976.8 725,977.1 726,977.2 727,977.1 728,977.1 729,977.0 730,976.9 731,976.9 732,976.9 733,977.0 734,977.4 735,977.2 736,977.0 737,977.2 738,977.3 739,977.3 740,977.2 741,977.1 742,977.1 743,977.0 744,976.9 745,977.1 746,977.2 747,976.9 748,976.7 749,976.8 750,977.0 751,977.1 752,976.9 753,976.6 754,976.7 755,976.7 756,976.7 757,976.5 758,976.3 759,976.5 760,976.5 761,976.3 762,976.6 763,976.8 764,976.7 765,976.6 766,976.4 767,976.2 768,976.1 769,976.4 770,976.7 771,976.6 772,976.4 773,976.4 774,976.3 775,976.2 776,976.2 777,975.9 778,975.9 779,976.1 780,976.0 781,975.9 782,975.9 783,975.9 784,976.0 785,975.8 786,975.6 787,975.8 788,976.0 789,975.9 790,976.0 791,976.1 792,976.0 793,975.9 794,975.8 795,976.0 796,976.4 797,976.6 798,976.5 799,976.3 800,976.2 801,976.0 802,976.1 803,975.9 804,975.9 805,976.2 806,976.3 807,976.1 808,975.9 809,975.9 810,975.9 811,975.7 812,975.7 813,976.0 814,976.0 815,975.7 816,975.6 817,975.8 818,976.2 819,976.1 820,976.0 821,976.1 822,976.1 823,976.1 824,976.2 825,976.2 826,976.1 827,975.9 828,975.9 829,976.0 830,976.0 831,975.9 832,975.8 833,976.0 834,976.1 835,975.9 836,975.8 837,976.1 838,976.2 839,976.1 840,975.9 841,975.8 842,976.0 843,976.3 844,976.3 845,976.1 846,975.8 847,975.7 848,976.0 849,976.2 850,976.5 851,976.5 852,976.4 853,976.1 854,976.0 855,976.2 856,976.4 857,976.4 858,976.3 859,976.3 860,976.3 861,976.1 862,976.2 863,976.2 864,975.8 865,975.7 866,976.0 867,976.1 868,976.2 869,976.1 870,976.0 871,976.1 872,976.2 873,976.0 874,975.8 875,975.8 876,976.2 877,976.3 878,976.0 879,976.1 880,976.2 881,975.9 882,975.8 883,975.7 884,975.8 885,976.0 886,976.2 887,976.2 888,976.2 889,976.0 890,975.9 891,976.3 892,976.3 893,976.2 894,976.3 895,976.3 896,976.3 897,976.2 898,975.6 899,975.5 900,976.0 901,975.9 902,975.9 903,976.3 904,976.1 905,975.8 906,975.9 907,976.3 908,976.3 909,975.9 910,975.9 911,975.9 912,975.7 913,975.7 914,975.7 915,976.0 916,976.5 917,976.5 918,976.4 919,976.4 920,976.4 921,976.3 922,976.1 923,976.2 924,976.3 925,976.2 926,976.3 927,976.7 928,976.7 929,976.3 930,976.2 931,976.5 932,976.5 933,976.4 934,976.6 935,976.7 936,976.9 937,977.2 938,977.2 939,977.0 940,977.1 941,977.4 942,977.0 943,976.6 944,976.6 945,976.6 946,976.6 947,976.7 948,976.8 949,976.7 950,976.7 951,976.7 952,976.6 953,976.7 954,976.8 955,976.5 956,976.5 957,976.7 958,976.5 959,976.4 960,976.7 961,976.6 962,976.3 963,976.2 964,976.4 965,976.7 966,976.8 967,976.7 968,976.7 969,976.7 970,976.4 971,976.6 972,976.8 973,976.7 974,976.7 975,976.8 976,976.7 977,976.5 978,976.5 979,976.5 980,976.4 981,976.3 982,976.1 983,976.1 984,976.2 985,976.2 986,976.0 987,975.7 988,975.7 989,975.7 990,975.7 991,975.9 992,975.8 993,975.5 994,975.1 995,975.0 996,974.8 997,974.3 998,974.0 999,973.4 1000,972.6 1001,971.5 1002,970.1 1003,968.6 1004,966.7 1005,965.2 1006,964.3 1006.7,963.7 1007,963.5 1008,964.5 1009,965.5 1010,966.7 1011,968.6 1012,970.3 1013,971.4 1014,972.1 1015,972.3 1016,972.4 1017,972.3 1018,972.5 1019,972.6 1020,972.2 1021,971.4 1022,970.4 1023,969.5 1024,968.4 1025,966.7 1026,964.3 1027,960.9 1028,956.9 1029,952.1 1030,946.4 1031,941.3 1032,937.7 1032.8,936.1 1033,935.8 1034,938.0 1035,942.5 1036,947.3 1037,951.9 1038,956.0 1039,959.6 1040,962.5 1041,964.4 1042,965.5 1043,966.6 1044,967.1 1045,967.5 1046,968.0 1047,967.9 1048,967.9 1049,968.4 1050,968.6 1051,968.2 1052,967.5 1053,966.8 1054,966.3 1055,965.7 1056,964.9 1057,964.2 1057.8,964.0 1058,964.2 1059,964.9 1060,965.8 1061,967.1 1062,968.8 1063,970.4 1064,971.6 1065,972.4 1066,973.2 1067,973.8 1068,974.5 1069,975.0 1070,975.4 1071,975.7 1072,975.9 1073,976.3 1074,976.6 1075,976.9 1076,977.2 1077,977.2 1078,977.2 1079,977.1 1080,977.2 1081,977.4 1082,977.3 1083,977.2 1084,977.1 1085,977.3 1086,977.5 1087,977.7 1088,977.8 1089,977.4 1090,977.1 1091,977.1 1092,977.0 1093,977.2 1094,977.7 1095,977.7 1096,977.4 1097,977.4 1098,977.3 1099,977.3 1100,977.5 1101,977.7 1102,977.8 1103,977.7 1104,977.6 1105,977.7 1106,977.6 1107,977.6 1108,977.6 1109,977.5 1110,977.4 1111,977.5 1112,977.7 1113,977.9 1114,978.0 1115,977.7 1116,977.1 1117,977.1 1118,977.1 1119,977.4 1120,977.5 1121,977.3 1122,977.2 1123,977.5 1124,977.7 1125,977.9 1126,977.8 1127,977.9 1128,977.9 1129,977.6 1130,977.4 1131,977.4 1132,977.6 1133,977.9 1134,977.9 1135,977.6 1136,977.3 1137,977.2 1138,977.2 1139,977.5 1140,977.6 1141,977.0 1142,977.0 1143,977.4 1144,977.4 1145,977.3 1146,977.4 1147,977.6 1148,977.7 1149,977.7 1150,977.7 1151,977.6 1152,977.8 1153,978.0 1154,977.8 1155,977.4 1156,977.2 1157,977.3 1158,977.4 1159,977.4 1160,977.4 1161,977.5 1162,977.5 1163,977.5 1164,977.5 1165,977.4 1166,977.4 1167,977.6 1168,977.7 1169,977.6 1170,977.7 1171,977.7 1172,977.7 1173,977.5 1174,977.2 1175,977.1 1176,977.2 1177,977.3 1178,977.5 1179,977.6 1180,977.2 1181,977.3 1182,977.7 1183,977.8 1184,977.6 1185,977.1 1186,977.1 1187,977.3 1188,977.5 1189,977.7 1190,977.6 1191,977.4 1192,977.4 1193,977.3 1194,977.3 1195,977.2 1196,977.2 1197,977.3 1198,977.2 1199,976.9 1200,976.9 1201,977.3 1202,977.3 1203,977.1 1204,977.1 1205,977.3 1206,977.5 1207,977.4 1208,977.5 1209,977.4 1210,977.3 1211,977.3 1212,977.4 1213,977.6 1214,977.6 1215,977.3 1216,977.4 1217,977.9 1218,977.9 1219,977.6 1220,977.5 1221,977.5 1222,977.7 1223,977.7 1224,977.4 1225,977.4 1226,977.5 1227,977.9 1228,978.1 1229,977.8 1230,977.9 1231,977.9 1232,977.6 1233,977.6 1234,977.9 1235,977.9 1236,977.9 1237,978.0 1238,977.8 1239,977.5 1240,977.7 1241,978.0 1242,978.2 1243,978.0 1244,977.9 1245,978.0 1246,977.9 1247,977.7 1248,977.8 1249,978.1 1250,978.5 1251,978.5 1252,978.0 1253,977.7 1254,977.8 1255,977.8 1256,977.9 1257,978.2 1258,978.3 1259,977.9 1260,977.6 1261,977.8 1262,978.4 1263,978.5 1264,978.0 1265,977.9 1266,978.3 1267,978.7 1268,978.7 1269,978.6 1270,978.6 1271,978.5 1272,978.6 1273,978.8 1274,978.6 1275,978.2 1276,978.2 1277,978.2 1278,978.5 1279,978.7 1280,978.6 1281,978.9 1282,979.2 1283,978.8 1284,978.3 1285,978.3 1286,978.4 1287,978.2 1288,978.3 1289,978.5 1290,978.7 1291,978.7 1292,978.7 1293,979.0 1294,979.2 1295,978.9 1296,978.8 1297,978.9 1298,978.9 1299,979.1 1300,978.9 1301,978.5 1302,978.6 1303,979.0 1304,978.9 1305,978.6 1306,978.5 1307,978.5 1308,978.3 1309,978.2 1310,978.2 1311,978.2 1312,978.2 1313,978.1 1314,978.2 1315,978.2 1316,978.2 1317,978.2 1318,978.1 1319,977.9 1320,977.7 1321,977.4 1322,977.2 1323,976.8 1324,976.7 1325,976.7 1326,976.4 1327,975.9 1328,975.5 1329,975.2 1330,974.7 1331,974.0 1332,973.3 1333,972.3 1334,970.8 1335,968.8 1336,966.6 1337,964.1 1338,960.9 1339,957.3 1340,952.6 1341,946.6 1342,940.7 1343,935.2 1344,929.9 1345,925.6 1346,923.6 1346.2,923.6 1347,924.7 1348,928.1 1349,932.9 1350,938.5 1351,944.5 1352,950.2 1353,955.2 1354,959.4 1355,962.9 1356,965.9 1357,968.4 1358,970.0 1359,971.2 1360,972.4 1361,973.7 1362,974.7 1363,975.2 1364,975.6 1365,975.7 1366,975.6 1367,976.0 1368,976.3 1369,976.3 1370,976.8 1371,977.2 1372,977.0 1373,977.2 1374,977.7 1375,977.6 1376,977.3 1377,977.5 1378,977.6 1379,977.8 1380,977.9 1381,977.8 1382,977.9 1383,978.0 1384,977.7 1385,977.7 1386,977.8 1387,977.6 1388,977.5 1389,977.6 1390,977.7 1391,977.8 1392,978.0 1393,978.1 1394,977.8 1395,977.7 1396,977.7 1397,977.6 1398,977.5 1399,977.7 1400,977.8 1401,977.6 1402,977.4 1403,977.7 1404,978.0 1405,977.6 1406,977.1 1407,977.1 1408,977.3 1409,977.2 1410,977.2 1411,977.2 1412,977.1 1413,977.0 1414,976.9 1415,977.0 1416,977.1 1417,977.0 1418,976.9 1419,976.7 1420,976.7 1421,976.9 1422,977.0 1423,976.9 1424,976.8 1425,976.6 1426,976.7 1427,977.0 1428,976.9 1429,976.5 1430,976.5 1431,976.7 1432,976.6 1433,976.7 1434,976.7 1435,976.9 1436,977.4 1437,977.4 1438,977.0 1439,976.6 1440,976.7 1441,976.8 1442,976.9 1443,976.9 1444,976.7 1445,976.8 1446,976.9 1447,976.9 1448,977.1 1449,976.9 1450,976.8 1451,976.8 1452,976.4 1453,976.4 1454,976.8 1455,977.2 1456,977.4 1457,977.3 1458,977.0 1459,976.7 1460,976.9 1461,977.2 1462,977.5 1463,977.8 1464,977.8 1465,977.7 1466,977.3 1467,977.1 1468,977.0 1469,977.1 1470,977.2 1471,977.1 1472,977.0 1473,977.1 1474,977.2 1475,977.3 1476,977.3 1477,977.2 1478,977.3 1479,977.5 1480,977.4 1481,977.7 1482,977.6 1483,976.9 1484,976.8 1485,977.3 1486,977.5 1487,977.3 1488,977.2 1489,977.2 1490,977.1 1491,977.1 1492,976.9 1493,976.4 1494,976.5 1495,977.2 1496,977.1 1497,976.9 1498,977.2 1499,977.2 1500,976.9 1501,976.5 1502,976.4 1503,976.1 1504,975.7 1505,975.6 1506,975.6 1507,975.5 1508,975.0 1509,974.2 1510,973.5 1511,973.0 1512,972.2 1513,970.9 1514,969.6 1515,968.1 1516,966.2 1517,963.8 1518,960.8 1519,957.2 1520,953.9 1521,951.1 1522,948.5 1523,946.7 1523.6,946.3 1524,946.2 1525,947.2 1526,949.3 1527,952.3 1528,955.7 1529,958.9 1530,961.4 1531,963.4 1532,965.3 1533,966.8 1534,967.8 1535,968.6 1536,969.6 1537,970.4 1538,970.3 1539,970.1 1540,970.8 1541,971.1 1542,971.0 1543,971.1 1544,970.8 1545,970.3 1546,969.7 1547,969.0 1548,968.2 1549,967.1 1550,966.0 1551,964.8 1552,963.0 1553,960.8 1554,958.3 1555,955.2 1556,952.3 1557,949.5 1558,947.4 1559,946.5 1559.3,946.4 1560,946.7 1561,948.4 1562,951.3 1563,954.9 1564,958.6 1565,961.7 1566,964.4 1567,966.7 1568,968.8 1569,970.5 1570,971.8 1571,972.8 1572,973.6 1573,974.5 1574,975.2 1575,975.3 1576,975.6 1577,976.1 1578,976.8 1579,977.1 1580,976.7 1581,976.5 1582,977.1 1583,977.3 1584,977.1 1585,977.3 1586,977.3 1587,977.2 1588,977.7 1589,977.9 1590,977.8 1591,977.6 1592,977.6 1593,977.7 1594,977.9 1595,977.9 1596,978.2 1597,978.0 1598,977.7 1599,978.1 1600,978.1 1601,977.9 1602,977.8 1603,977.6 1604,977.6 1605,977.4 1606,977.6 1607,978.3 1608,978.3 1609,977.9 1610,977.8 1611,978.0 1612,978.0 1613,978.0 1614,977.9 1615,977.8 1616,977.6 1617,977.6 1618,977.7 1619,977.5 1620,977.4 1621,977.6 1622,977.8 1623,977.9 1624,977.9 1625,977.8 1626,977.8 1627,977.4 1628,976.9 1629,976.6 1630,976.8 1631,977.2 1632,977.4 1633,977.4 1634,977.5 1635,977.3 1636,977.0 1637,976.8 1638,977.0 1639,977.5 1640,977.5 1641,977.1 1642,977.2 1643,977.6 1644,977.6 1645,977.4 1646,977.4 1647,977.4 1648,977.0 1649,977.0 1650,977.2 1651,977.4 1652,977.8 1653,977.7 1654,977.4 1655,977.2 1656,977.5 1657,977.5 1658,977.2 1659,977.0 1660,977.0 1661,977.3 1662,977.6 1663,977.7 1664,977.6 1665,977.5 1666,977.3 1667,977.3 1668,977.6 1669,977.5 1670,977.3 1671,977.5 1672,977.6 1673,977.6 1674,977.4 1675,977.3 1676,977.6 1677,977.8 1678,977.5 1679,977.3 1680,977.2 1681,977.2 1682,977.2 1683,977.4 1684,977.5 1685,977.6 1686,977.8 1687,977.9 1688,977.5 1689,977.2 1690,977.4 1691,977.4 1692,977.3 1693,977.3 1694,977.4 1695,977.2 1696,976.9 1697,977.1 1698,977.5 1699,977.6 1700,977.3 1701,977.2 1702,977.4 1703,977.4 1704,977.4 1705,977.5 1706,977.6 1707,977.3 1708,977.2 1709,977.4 1710,977.3 1711,977.4 1712,977.8 1713,977.6 1714,977.2 1715,977.1 1716,977.2 1717,977.0 1718,976.9 1719,977.4 1720,977.6 1721,977.4 1722,977.3 1723,977.4 1724,977.4 1725,977.1 1726,977.1 1727,977.2 1728,977.4 1729,977.3 1730,977.0 1731,977.3 1732,977.6 1733,977.4 1734,977.3 1735,977.5 1736,977.7 1737,977.6 1738,977.4 1739,977.3 1740,977.6 1741,977.9 1742,977.8 1743,977.7 1744,977.9 1745,977.8 1746,977.5 1747,977.6 1748,977.5 1749,977.4 1750,977.3 1751,977.3 1752,977.0 1753,976.8 1754,976.8 1755,976.8 1756,976.7 1757,976.4 1758,975.9 1759,975.5 1760,975.1 1761,974.3 1762,973.6 1763,972.9 1764,972.0 1765,971.6 1766,971.2 1767,970.7 1768,970.3 1769,969.6 1770,968.9 1771,968.4 1772,968.1 1773,967.6 1774,967.4 1775,967.6 1776,967.9 1777,968.1 1778,967.8 1779,967.7 1780,968.3 1781,968.7 1782,968.7 1783,968.8 1784,968.3 1785,967.2 1786,965.8 1787,964.4 1788,962.9 1789,961.0 1790,958.6 1791,956.4 1792,955.0 1792.8,954.7 1793,954.7 1794,955.8 1795,958.1 1796,961.1 1797,964.1 1798,966.8 1799,968.9 1800,970.7 1801,972.4 1802,973.8 1803,974.7 1804,975.4 1805,975.9 1806,976.3 1807,976.7 1808,977.0 1809,977.3 1810,977.4 1811,977.5 1812,977.8 1813,978.2 1814,978.3 1815,978.0 1816,977.9 1817,978.0 1818,978.3 1819,978.7 1820,978.9 1821,978.6 1822,978.6 1823,978.6 1824,978.7 1825,978.8 1826,978.8 1827,978.7 1828,978.6 1829,978.6 1830,978.8 1831,978.8 1832,978.4 1833,978.3 1834,978.2 1835,978.2 1836,978.5 1837,979.0 1838,979.3 1839,979.0 1840,978.5 1841,978.4 1842,978.4 1843,978.7 1844,978.9 1845,978.9 1846,978.7 1847,978.4 1848,977.9 1849,977.9 1850,978.3 1851,978.7 1852,978.7 1853,978.5 1854,978.4 1855,978.5 1856,978.6 1857,978.3 1858,978.2 1859,978.4 1860,978.5 1861,978.2 1862,978.0 1863,977.9 1864,977.6 1865,977.5 1866,977.8 1867,978.1 1868,978.3 1869,978.4 1870,978.4 1871,978.3 1872,978.2 1873,978.0 1874,977.8 1875,977.8 1876,977.9 1877,977.9 1878,977.8 1879,977.6 1880,977.6 1881,977.7 1882,977.8 1883,977.9 1884,977.7 1885,977.6 1886,977.6 1887,977.7 1888,977.7 1889,977.6 1890,977.6 1891,977.8 1892,977.8 1893,977.8 1894,977.8 1895,977.8 1896,977.8 1897,977.8 1898,977.9 1899,978.0 1900,978.0 1901,978.1 1902,978.0 1903,977.9 1904,977.9 1905,977.7 1906,977.5 1907,977.7 1908,977.9 1909,978.0 1910,977.9 1911,977.8 1912,977.7 1913,977.5 1914,977.7 1915,977.9 1916,978.3 1917,978.4 1918,978.0 1919,977.7 1920,977.9 1921,978.2 1922,978.2 1923,978.0 1924,977.9 1925,977.9 1926,978.2 1927,978.4 1928,978.2 1929,978.1 1930,978.1 1931,978.1 1932,978.2 1933,978.3 1934,978.3 1935,978.5 1936,978.8 1937,978.6 1938,978.3 1939,978.4 1940,978.6 1941,978.5 1942,978.6 1943,978.7 1944,978.7 1945,978.6 1946,978.5 1947,978.5 1948,978.5 1949,978.7 1950,978.9 1951,978.8 1952,978.6 1953,978.7 1954,978.6 1955,978.5 1956,978.3 1957,978.1 1958,977.9 1959,978.0 1960,978.1 1961,977.8 1962,977.4 1963,977.2 1964,977.3 1965,976.9 1966,976.1 1967,975.5 1968,974.8 1969,974.0 1970,973.1 1971,972.0 1972,971.2 1973,970.3 1974,969.4 1975,969.2 1976,969.2 1977,969.0 1978,969.2 1979,969.9 1980,971.0 1981,972.2 1982,973.0 1983,973.5 1984,974.3 1985,975.2 1986,975.9 1987,976.1 1988,976.2 1989,976.5 1990,976.7 1991,977.0 1992,977.3 1993,977.4 1994,977.4 1995,977.6 1996,978.1 1997,978.3 1998,977.9 1999,977.3 2000,977.0 2001,977.3 2002,977.7 2003,978.2 2004,978.0 2005,977.6 2006,977.7 2007,977.6 2008,977.3 2009,977.2 2010,976.8 2011,976.1 2012,975.7 2013,975.5 2014,975.1 2015,974.1 2016,973.3 2017,972.6 2018,971.7 2019,971.2 2020,970.5 2021,969.8 2022,969.3 2023,968.5 2023.2,968.6 2024,969.1 2025,969.4 2026,969.9 2027,970.9 2028,972.0 2029,972.9 2030,973.4 2031,973.9 2032,974.6 2033,975.4 2034,976.0 2035,976.4 2036,976.6 2037,976.6 2038,977.0 2039,977.5 2040,977.6 2041,977.3 2042,977.0 2043,977.1 2044,977.3 2045,977.5 2046,977.3 2047,977.1 2048,977.3 2049,977.7 2050,977.7 2051,977.4 2052,977.2 2053,977.2 2054,977.7 2055,978.3 2056,978.0 2057,977.5 2058,977.4 2059,977.2 2060,977.2 2061,977.4 2062,977.8 2063,977.8 2064,977.5 2065,977.7 2066,977.8 2067,977.5 2068,977.4 2069,977.4 2070,977.7 2071,978.0 2072,977.8 2073,977.6 2074,977.5 2075,977.7 2076,977.8 2077,977.7 2078,977.6 2079,977.7 2080,977.6 2081,977.3 2082,977.3 2083,977.5 2084,977.7 2085,977.8 2086,977.9 2087,977.7 2088,977.4 2089,977.2 2090,977.3 2091,977.4 2092,977.5 2093,977.4 2094,977.2 2095,977.3 2096,977.5 2097,977.6 2098,977.6 2099,977.7 2100,977.5 2101,977.1 2102,977.1 2103,977.3 2104,977.7 2105,977.9 2106,977.7 2107,977.4 2108,977.0 2109,976.8 2110,977.1 2111,977.2 2112,977.1 2113,977.4 2114,977.6 2115,977.8 2116,977.9 2117,977.7 2118,977.5 2119,977.5 2120,977.5 2121,977.4 2122,977.7 2123,977.7 2124,977.4 2125,977.6 2126,978.2 2127,978.0 2128,977.8 2129,977.9 2130,977.7 2131,977.5 2132,977.4 2133,977.3 2134,977.2 2135,977.1 2136,977.2 2137,977.2 2138,977.1 2139,977.3 2140,977.2 2141,977.1 2142,977.1 2143,976.9 2144,977.1 2145,977.4 2146,977.5 2147,977.3 2148,977.0 2149,976.8 2150,976.5 2151,976.3 2152,976.2 2153,975.9 2154,975.4 2155,974.8 2156,974.6 2157,974.2 2158,973.6 2159,972.8 2160,971.8 2161,970.5 2162,969.3 2163,968.2 2164,967.0 2165,966.0 2166,965.1 2167,963.9 2168,963.5 2169,964.1 2170,964.9 2171,966.1 2172,967.8 2173,969.0 2174,970.0 2175,971.0 2176,972.0 2177,972.8 2178,973.3 2179,973.8 2180,974.5 2181,975.3 2182,975.6 2183,975.6 2184,975.8 2185,975.9 2186,976.0 2187,976.0 2188,976.0 2189,975.8 2190,975.6 2191,975.5 2192,975.3 2193,974.8 2194,974.6 2195,974.6 2196,974.0 2197,973.1 2198,972.4 2199,972.1 2200,972.5 2201,972.6 2202,972.3 2203,972.2 2204,972.5 2205,973.2 2206,973.8 2207,974.2 2208,974.9 2209,975.4 2210,975.5 2211,975.4 2212,975.4 2213,975.6 2214,976.1 2215,976.7 2216,976.9 2217,976.9 2218,977.3 2219,977.5 2220,977.4 2221,977.5 2222,977.5 2223,977.2 2224,977.1 2225,977.4 2226,977.4 2227,977.4 2228,977.6 2229,977.8 2230,977.8 2231,977.6 2232,977.6 2233,977.8 2234,977.8 2235,977.8 2236,977.9 2237,977.9 2238,977.6 2239,977.4 2240,977.7 2241,978.0 2242,977.7 2243,977.6 2244,977.7 2245,977.8 2246,977.8 2247,977.7 2248,977.6 2249,978.0 2250,978.0 2251,977.8 2252,978.1 2253,978.2 2254,978.1 2255,977.9 2256,978.1 2257,977.8 2258,977.5 2259,977.7 2260,977.7 2261,977.6 2262,977.5 2263,977.5 2264,977.7 2265,977.8 2266,977.9 2267,978.1 2268,977.9 2269,977.6 2270,977.5 2271,977.8 2272,978.0 2273,977.7 2274,977.6 2275,977.9 2276,977.9 2277,978.0 2278,978.1 2279,977.8 2280,977.5 2281,977.4 2282,977.6 2283,978.0 2284,977.9 2285,977.7 2286,977.9 2287,978.0 2288,978.1 2289,978.2 2290,977.9 2291,977.6 2292,977.5 2293,977.6 2294,978.0 2295,978.0 2296,977.8 2297,977.9 2298,978.1 2299,978.1 2300,977.6 2301,977.2 2302,977.1 2303,977.2 2304,977.3 2305,977.5 2306,977.7 2307,977.5 2308,977.5 2309,977.8 2310,977.7 2311,977.8 2312,977.7 2313,977.4 2314,977.3" fill="none" stroke="#F44044" stroke-width="8" stroke-linejoin="round" stroke-linecap="butt"/>
<polyline points="191,1133.1 192,1132.8 193,1132.5 194,1132.6 195,1132.6 196,1132.6 197,1132.8 198,1133.0 199,1133.1 200,1133.1 201,1132.7 202,1132.9 203,1133.3 204,1133.5 205,1133.7 206,1133.5 207,1133.3 208,1133.5 209,1133.5 210,1133.8 211,1134.3 212,1134.4 213,1134.2 214,1134.1 215,1134.2 216,1134.0 217,1133.6 218,1133.9 219,1134.3 220,1134.3 221,1134.3 222,1134.6 223,1134.8 224,1134.6 225,1134.5 226,1134.5 227,1134.8 228,1135.1 229,1135.2 230,1134.8 231,1134.6 232,1134.8 233,1135.1 234,1135.2 235,1135.2 236,1135.3 237,1135.3 238,1135.2 239,1135.0 240,1135.2 241,1135.4 242,1135.5 243,1135.5 244,1135.6 245,1135.8 246,1135.8 247,1135.7 248,1135.7 249,1135.5 250,1135.5 251,1135.6 252,1135.9 253,1136.0 254,1135.9 255,1136.0 256,1136.3 257,1136.4 258,1136.5 259,1136.4 260,1136.1 261,1136.1 262,1136.4 263,1136.7 264,1136.8 265,1136.9 266,1137.1 267,1136.9 268,1136.9 269,1136.9 270,1137.0 271,1137.3 272,1137.4 273,1137.4 274,1137.2 275,1137.1 276,1137.1 277,1137.0 278,1137.0 279,1137.4 280,1137.6 281,1137.5 282,1137.4 283,1137.6 284,1137.7 285,1137.9 286,1138.0 287,1137.8 288,1137.9 289,1138.1 290,1138.0 291,1137.8 292,1137.7 293,1137.9 294,1138.3 295,1138.5 296,1138.3 297,1138.3 298,1138.6 299,1138.6 300,1138.6 301,1138.6 302,1138.6 303,1138.4 304,1138.3 305,1138.1 306,1138.0 307,1138.2 308,1138.4 309,1138.9 310,1139.1 311,1138.9 312,1138.9 313,1138.9 314,1139.0 315,1139.1 316,1139.2 317,1139.1 318,1139.0 319,1139.2 320,1139.4 321,1139.5 322,1139.6 323,1139.7 324,1139.6 325,1139.4 326,1139.4 327,1139.7 328,1139.8 329,1140.0 330,1140.2 331,1140.1 332,1139.9 333,1140.0 334,1140.3 335,1140.4 336,1140.1 337,1139.8 338,1140.0 339,1140.2 340,1140.4 341,1140.4 342,1140.3 343,1140.4 344,1140.6 345,1140.5 346,1140.3 347,1140.2 348,1140.2 349,1140.4 350,1140.8 351,1140.7 352,1140.5 353,1140.5 354,1140.2 355,1140.2 356,1141.0 357,1141.2 358,1140.8 359,1140.8 360,1141.0 361,1141.0 362,1140.9 363,1141.0 364,1141.1 365,1141.2 366,1141.3 367,1141.3 368,1141.2 369,1141.2 370,1141.3 371,1141.5 372,1141.4 373,1141.5 374,1141.8 375,1141.8 376,1141.9 377,1141.9 378,1141.7 379,1141.7 380,1141.9 381,1141.8 382,1141.9 383,1142.1 384,1142.0 385,1141.9 386,1142.0 387,1142.1 388,1142.2 389,1142.2 390,1142.3 391,1142.4 392,1142.6 393,1142.6 394,1142.6 395,1142.7 396,1142.6 397,1142.6 398,1142.7 399,1142.4 400,1142.4 401,1142.7 402,1142.7 403,1142.6 404,1143.0 405,1143.2 406,1143.4 407,1143.5 408,1143.3 409,1143.2 410,1143.1 411,1142.9 412,1143.0 413,1143.1 414,1143.1 415,1143.1 416,1143.1 417,1143.5 418,1143.5 419,1143.2 420,1143.5 421,1143.8 422,1143.6 423,1143.2 424,1143.3 425,1143.8 426,1143.9 427,1143.6 428,1143.5 429,1143.5 430,1143.6 431,1143.8 432,1143.8 433,1143.9 434,1144.2 435,1144.1 436,1144.0 437,1144.2 438,1144.1 439,1144.1 440,1144.1 441,1144.1 442,1144.3 443,1144.5 444,1144.4 445,1144.2 446,1144.1 447,1143.9 448,1144.1 449,1144.5 450,1144.6 451,1144.5 452,1144.3 453,1144.2 454,1144.4 455,1144.6 456,1144.8 457,1144.6 458,1144.5 459,1144.5 460,1144.5 461,1144.3 462,1144.1 463,1144.0 464,1144.4 465,1144.7 466,1144.8 467,1144.9 468,1145.0 469,1144.9 470,1145.0 471,1145.0 472,1145.0 473,1145.0 474,1144.7 475,1144.6 476,1144.9 477,1145.1 478,1144.8 479,1144.6 480,1144.8 481,1145.3 482,1145.8 483,1145.7 484,1145.2 485,1145.0 486,1145.1 487,1145.1 488,1145.2 489,1145.3 490,1145.3 491,1145.3 492,1145.2 493,1145.4 494,1145.7 495,1145.6 496,1145.3 497,1145.3 498,1145.5 499,1145.7 500,1145.9 501,1145.9 502,1145.6 503,1145.6 504,1146.0 505,1146.1 506,1146.0 507,1145.8 508,1145.4 509,1145.4 510,1145.6 511,1145.7 512,1145.5 513,1145.7 514,1146.0 515,1146.0 516,1145.9 517,1146.0 518,1145.7 519,1145.7 520,1145.9 521,1145.9 522,1145.7 523,1145.7 524,1145.7 525,1145.7 526,1145.8 527,1146.0 528,1146.0 529,1145.9 530,1145.8 531,1146.1 532,1146.0 533,1145.7 534,1145.9 535,1146.0 536,1145.7 537,1145.8 538,1146.0 539,1145.9 540,1146.0 541,1146.2 542,1145.9 543,1145.6 544,1145.4 545,1145.5 546,1145.9 547,1146.4 548,1146.4 549,1146.2 550,1146.4 551,1146.4 552,1146.2 553,1146.3 554,1146.2 555,1145.8 556,1145.6 557,1145.8 558,1146.0 559,1146.0 560,1146.0 561,1146.1 562,1146.1 563,1146.1 564,1146.1 565,1146.0 566,1145.9 567,1145.9 568,1145.8 569,1145.7 570,1145.9 571,1146.1 572,1146.2 573,1146.1 574,1145.8 575,1145.5 576,1145.3 577,1145.6 578,1146.3 579,1146.4 580,1146.3 581,1146.1 582,1146.1 583,1145.8 584,1145.5 585,1145.6 586,1146.0 587,1146.1 588,1145.8 589,1145.6 590,1145.5 591,1145.3 592,1145.1 593,1145.0 594,1145.2 595,1145.3 596,1145.4 597,1145.6 598,1145.4 599,1145.1 600,1145.0 601,1144.8 602,1145.0 603,1144.9 604,1144.7 605,1144.8 606,1144.8 607,1144.3 608,1144.2 609,1144.4 610,1144.3 611,1144.0 612,1143.7 613,1143.4 614,1143.2 615,1143.1 616,1142.8 617,1142.6 618,1142.6 619,1142.1 620,1141.3 621,1141.0 622,1140.7 623,1140.2 624,1139.9 625,1139.5 626,1139.0 627,1138.1 628,1137.2 629,1136.6 630,1135.9 631,1134.6 632,1133.4 633,1131.9 634,1129.9 635,1127.6 636,1124.9 637,1121.6 638,1118.1 639,1114.1 640,1109.3 641,1103.6 642,1097.1 643,1089.6 644,1081.7 645,1073.5 646,1064.8 647,1055.2 648,1045.4 649,1035.7 650,1027.0 651,1019.5 652,1013.0 653,1008.8 654,1007.8 655,1009.7 656,1013.7 657,1019.4 658,1026.9 659,1036.0 660,1045.7 661,1055.2 662,1064.7 663,1073.8 664,1082.4 665,1090.3 666,1097.6 667,1104.2 668,1109.7 669,1114.3 670,1118.5 671,1122.2 672,1125.2 673,1127.6 674,1129.9 675,1132.1 676,1133.6 677,1134.5 678,1135.7 679,1137.1 680,1138.3 681,1139.0 682,1139.5 683,1140.2 684,1140.7 685,1141.1 686,1141.7 687,1142.3 688,1142.8 689,1143.0 690,1143.0 691,1143.1 692,1143.3 693,1143.6 694,1144.0 695,1144.3 696,1144.7 697,1145.0 698,1145.1 699,1145.3 700,1145.5 701,1145.6 702,1145.8 703,1146.0 704,1146.0 705,1145.9 706,1145.7 707,1146.0 708,1146.6 709,1146.7 710,1146.6 711,1146.5 712,1146.8 713,1147.2 714,1146.9 715,1146.8 716,1146.9 717,1146.7 718,1146.7 719,1146.9 720,1147.1 721,1147.3 722,1147.4 723,1147.4 724,1147.6 725,1148.0 726,1147.9 727,1147.3 728,1147.1 729,1147.7 730,1148.0 731,1148.0 732,1148.1 733,1148.1 734,1147.9 735,1148.0 736,1148.1 737,1148.1 738,1148.2 739,1148.5 740,1148.4 741,1148.2 742,1148.6 743,1148.7 744,1148.5 745,1148.5 746,1148.6 747,1148.7 748,1148.8 749,1148.9 750,1149.1 751,1149.2 752,1149.0 753,1149.0 754,1149.7 755,1149.8 756,1149.4 757,1149.1 758,1149.1 759,1149.4 760,1149.4 761,1149.3 762,1149.6 763,1149.9 764,1150.0 765,1150.2 766,1150.1 767,1149.9 768,1149.8 769,1150.0 770,1150.2 771,1150.2 772,1150.2 773,1150.1 774,1150.2 775,1150.3 776,1150.0 777,1149.9 778,1150.3 779,1150.3 780,1150.1 781,1150.1 782,1150.0 783,1149.8 784,1149.9 785,1150.0 786,1150.2 787,1150.4 788,1150.5 789,1150.5 790,1150.4 791,1150.3 792,1150.2 793,1150.2 794,1150.5 795,1150.5 796,1150.4 797,1150.4 798,1150.4 799,1150.3 800,1150.6 801,1150.7 802,1150.4 803,1150.1 804,1150.4 805,1150.7 806,1150.7 807,1150.7 808,1150.7 809,1150.6 810,1150.4 811,1150.2 812,1150.5 813,1150.9 814,1150.8 815,1150.6 816,1150.5 817,1150.5 818,1150.7 819,1150.9 820,1151.0 821,1150.8 822,1150.5 823,1150.3 824,1150.1 825,1150.2 826,1150.3 827,1150.4 828,1150.7 829,1150.8 830,1150.5 831,1150.3 832,1150.5 833,1150.7 834,1150.7 835,1150.5 836,1150.4 837,1150.5 838,1150.4 839,1150.2 840,1150.0 841,1150.0 842,1150.2 843,1150.6 844,1151.0 845,1151.3 846,1151.2 847,1151.0 848,1151.0 849,1150.7 850,1150.7 851,1150.9 852,1150.5 853,1150.3 854,1150.6 855,1150.8 856,1150.7 857,1150.6 858,1150.4 859,1150.3 860,1150.5 861,1150.5 862,1150.2 863,1150.2 864,1150.4 865,1150.7 866,1150.8 867,1150.7 868,1150.6 869,1150.5 870,1150.5 871,1150.3 872,1150.1 873,1150.3 874,1150.5 875,1150.7 876,1150.6 877,1150.3 878,1150.3 879,1150.5 880,1150.4 881,1150.4 882,1150.3 883,1150.4 884,1150.5 885,1150.4 886,1150.5 887,1150.4 888,1150.2 889,1150.2 890,1150.2 891,1150.3 892,1150.3 893,1150.3 894,1150.7 895,1150.9 896,1150.8 897,1150.2 898,1149.9 899,1150.1 900,1150.4 901,1150.5 902,1150.4 903,1150.5 904,1150.4 905,1150.4 906,1150.6 907,1150.5 908,1150.6 909,1150.7 910,1150.5 911,1150.6 912,1150.9 913,1150.8 914,1150.8 915,1150.8 916,1150.8 917,1150.8 918,1150.6 919,1150.7 920,1150.9 921,1150.9 922,1150.7 923,1150.5 924,1150.7 925,1151.1 926,1151.1 927,1150.9 928,1150.7 929,1150.7 930,1151.0 931,1151.2 932,1151.1 933,1151.1 934,1151.1 935,1151.0 936,1150.9 937,1150.8 938,1150.8 939,1151.1 940,1151.1 941,1150.8 942,1150.8 943,1150.7 944,1150.6 945,1150.7 946,1150.9 947,1151.3 948,1151.5 949,1151.2 950,1151.1 951,1151.1 952,1151.1 953,1151.2 954,1151.4 955,1151.4 956,1151.2 957,1151.3 958,1151.4 959,1151.3 960,1151.1 961,1151.0 962,1151.1 963,1151.2 964,1151.3 965,1151.4 966,1151.2 967,1150.8 968,1150.8 969,1151.2 970,1151.4 971,1151.5 972,1151.4 973,1151.2 974,1151.3 975,1151.3 976,1151.1 977,1151.1 978,1151.4 979,1151.4 980,1151.3 981,1151.4 982,1151.2 983,1150.9 984,1150.5 985,1150.6 986,1151.3 987,1151.5 988,1151.0 989,1150.5 990,1150.5 991,1150.5 992,1150.3 993,1149.9 994,1149.5 995,1149.0 996,1148.5 997,1148.1 998,1147.6 999,1146.8 1000,1146.0 1001,1145.2 1002,1144.4 1003,1143.7 1004,1142.9 1005,1142.2 1006,1141.6 1006.2,1141.8 1007,1142.0 1008,1142.1 1009,1142.6 1010,1143.4 1011,1144.4 1012,1144.9 1013,1145.5 1014,1146.3 1015,1146.9 1016,1147.2 1017,1147.3 1018,1147.1 1019,1146.8 1020,1146.4 1021,1145.8 1022,1145.1 1023,1144.2 1024,1143.0 1025,1141.6 1026,1139.8 1027,1137.6 1028,1135.0 1029,1132.5 1030,1129.8 1031,1127.2 1032,1125.0 1033,1123.0 1034,1121.5 1035,1121.2 1036,1122.0 1037,1123.4 1038,1125.3 1039,1127.5 1040,1130.0 1041,1132.6 1042,1135.0 1043,1136.9 1044,1138.5 1045,1139.9 1046,1141.1 1047,1142.0 1048,1142.8 1049,1143.3 1050,1143.3 1051,1143.0 1052,1142.5 1053,1142.1 1054,1142.0 1055,1141.8 1056,1141.7 1056.3,1141.4 1057,1141.4 1058,1142.1 1059,1142.8 1060,1143.5 1061,1144.5 1062,1145.6 1063,1146.7 1064,1147.5 1065,1148.0 1066,1148.5 1067,1149.4 1068,1150.0 1069,1150.0 1070,1150.2 1071,1150.6 1072,1150.8 1073,1151.0 1074,1151.6 1075,1151.8 1076,1151.4 1077,1151.3 1078,1151.8 1079,1152.3 1080,1152.4 1081,1152.2 1082,1151.9 1083,1151.8 1084,1152.0 1085,1152.4 1086,1152.2 1087,1151.6 1088,1151.7 1089,1152.1 1090,1152.3 1091,1152.2 1092,1152.5 1093,1152.8 1094,1152.4 1095,1151.9 1096,1151.9 1097,1151.9 1098,1152.0 1099,1152.2 1100,1152.2 1101,1152.0 1102,1152.1 1103,1152.1 1104,1152.3 1105,1152.3 1106,1152.3 1107,1152.3 1108,1152.3 1109,1152.3 1110,1152.1 1111,1152.1 1112,1152.0 1113,1152.1 1114,1152.4 1115,1152.3 1116,1152.0 1117,1152.0 1118,1152.0 1119,1152.1 1120,1152.0 1121,1151.8 1122,1151.6 1123,1151.6 1124,1151.9 1125,1152.1 1126,1151.8 1127,1151.6 1128,1152.0 1129,1152.1 1130,1151.6 1131,1151.4 1132,1151.8 1133,1151.8 1134,1151.4 1135,1151.3 1136,1151.6 1137,1151.9 1138,1152.0 1139,1152.0 1140,1151.9 1141,1151.9 1142,1151.9 1143,1151.9 1144,1151.7 1145,1151.6 1146,1151.6 1147,1151.8 1148,1151.7 1149,1151.7 1150,1151.9 1151,1152.0 1152,1151.8 1153,1151.7 1154,1152.2 1155,1152.3 1156,1151.7 1157,1151.3 1158,1151.4 1159,1151.4 1160,1151.3 1161,1151.5 1162,1151.9 1163,1152.2 1164,1152.3 1165,1152.1 1166,1151.9 1167,1151.9 1168,1151.8 1169,1151.6 1170,1151.7 1171,1152.0 1172,1152.1 1173,1151.8 1174,1151.7 1175,1151.8 1176,1151.9 1177,1152.0 1178,1152.0 1179,1151.8 1180,1151.5 1181,1151.4 1182,1151.6 1183,1152.1 1184,1152.4 1185,1152.2 1186,1152.3 1187,1152.4 1188,1152.1 1189,1151.6 1190,1151.4 1191,1151.3 1192,1151.3 1193,1151.5 1194,1151.7 1195,1151.8 1196,1151.7 1197,1151.7 1198,1151.8 1199,1151.8 1200,1151.5 1201,1151.3 1202,1151.6 1203,1152.0 1204,1151.8 1205,1151.5 1206,1151.7 1207,1151.8 1208,1151.7 1209,1151.8 1210,1151.7 1211,1151.7 1212,1152.0 1213,1152.2 1214,1151.9 1215,1151.8 1216,1151.9 1217,1151.8 1218,1151.6 1219,1151.4 1220,1151.7 1221,1151.7 1222,1151.7 1223,1151.9 1224,1151.9 1225,1151.6 1226,1151.4 1227,1151.3 1228,1151.4 1229,1151.5 1230,1151.9 1231,1152.0 1232,1151.6 1233,1151.4 1234,1151.5 1235,1151.6 1236,1151.8 1237,1151.8 1238,1151.7 1239,1151.9 1240,1152.2 1241,1152.2 1242,1151.9 1243,1151.9 1244,1151.7 1245,1151.7 1246,1152.0 1247,1152.0 1248,1151.9 1249,1151.9 1250,1151.7 1251,1151.7 1252,1152.1 1253,1152.2 1254,1152.0 1255,1152.1 1256,1152.1 1257,1151.9 1258,1151.9 1259,1151.9 1260,1151.9 1261,1152.1 1262,1152.2 1263,1152.1 1264,1152.0 1265,1152.0 1266,1151.9 1267,1152.0 1268,1151.9 1269,1151.8 1270,1151.8 1271,1151.9 1272,1152.1 1273,1152.3 1274,1152.1 1275,1151.8 1276,1151.8 1277,1151.9 1278,1152.1 1279,1152.3 1280,1152.2 1281,1152.1 1282,1152.3 1283,1152.5 1284,1152.3 1285,1151.9 1286,1151.9 1287,1151.9 1288,1151.9 1289,1151.9 1290,1151.6 1291,1151.4 1292,1151.6 1293,1152.1 1294,1152.3 1295,1152.0 1296,1151.5 1297,1151.5 1298,1151.7 1299,1151.9 1300,1151.9 1301,1151.6 1302,1151.4 1303,1151.4 1304,1151.5 1305,1151.3 1306,1151.2 1307,1151.8 1308,1152.0 1309,1151.8 1310,1151.6 1311,1151.5 1312,1151.5 1313,1151.5 1314,1151.6 1315,1151.3 1316,1150.9 1317,1151.2 1318,1151.3 1319,1151.0 1320,1150.7 1321,1150.4 1322,1149.7 1323,1149.4 1324,1149.5 1325,1149.2 1326,1148.6 1327,1147.8 1328,1147.3 1329,1146.7 1330,1145.7 1331,1144.3 1332,1143.0 1333,1141.7 1334,1140.1 1335,1138.0 1336,1135.7 1337,1133.5 1338,1131.2 1339,1128.5 1340,1125.9 1341,1123.6 1342,1120.9 1343,1118.6 1344,1117.3 1345,1117.0 1345.4,1117.2 1346,1117.2 1347,1117.9 1348,1119.7 1349,1121.7 1350,1124.0 1351,1126.7 1352,1129.5 1353,1131.7 1354,1133.8 1355,1136.5 1356,1138.9 1357,1140.9 1358,1142.7 1359,1143.9 1360,1144.9 1361,1146.2 1362,1147.3 1363,1148.0 1364,1148.7 1365,1149.2 1366,1149.5 1367,1149.8 1368,1149.9 1369,1150.2 1370,1150.6 1371,1150.8 1372,1151.0 1373,1151.2 1374,1151.5 1375,1151.8 1376,1152.0 1377,1152.0 1378,1151.9 1379,1151.6 1380,1151.5 1381,1151.7 1382,1151.7 1383,1151.8 1384,1152.1 1385,1152.0 1386,1152.1 1387,1152.3 1388,1152.4 1389,1152.7 1390,1152.3 1391,1152.2 1392,1152.3 1393,1152.0 1394,1151.6 1395,1151.7 1396,1151.9 1397,1152.0 1398,1152.0 1399,1151.8 1400,1152.1 1401,1152.4 1402,1152.0 1403,1151.9 1404,1152.1 1405,1152.1 1406,1151.7 1407,1151.4 1408,1151.5 1409,1151.9 1410,1151.7 1411,1151.1 1412,1150.8 1413,1151.0 1414,1151.2 1415,1151.5 1416,1151.8 1417,1152.0 1418,1151.8 1419,1151.6 1420,1151.6 1421,1151.2 1422,1151.0 1423,1151.3 1424,1151.4 1425,1151.2 1426,1151.4 1427,1151.5 1428,1151.3 1429,1151.2 1430,1151.3 1431,1151.4 1432,1151.4 1433,1151.3 1434,1151.5 1435,1151.7 1436,1151.4 1437,1150.8 1438,1150.8 1439,1151.2 1440,1151.2 1441,1151.1 1442,1151.0 1443,1151.0 1444,1151.1 1445,1151.2 1446,1151.2 1447,1151.3 1448,1151.3 1449,1151.3 1450,1151.4 1451,1151.6 1452,1151.5 1453,1151.5 1454,1151.7 1455,1151.7 1456,1151.6 1457,1151.4 1458,1151.2 1459,1151.5 1460,1151.7 1461,1151.4 1462,1151.1 1463,1151.3 1464,1151.6 1465,1151.8 1466,1151.9 1467,1151.9 1468,1151.5 1469,1151.5 1470,1151.9 1471,1151.9 1472,1151.7 1473,1151.6 1474,1151.5 1475,1151.8 1476,1152.1 1477,1152.1 1478,1152.1 1479,1152.0 1480,1151.7 1481,1151.6 1482,1151.6 1483,1151.8 1484,1151.8 1485,1151.9 1486,1151.7 1487,1151.4 1488,1151.7 1489,1151.7 1490,1151.1 1491,1150.9 1492,1150.8 1493,1150.8 1494,1150.9 1495,1151.2 1496,1151.3 1497,1151.1 1498,1151.0 1499,1151.1 1500,1150.9 1501,1150.4 1502,1149.9 1503,1149.3 1504,1148.9 1505,1148.8 1506,1148.5 1507,1147.9 1508,1147.5 1509,1147.2 1510,1146.4 1511,1145.5 1512,1144.7 1513,1144.2 1514,1143.2 1515,1141.7 1516,1140.3 1517,1139.1 1518,1137.4 1519,1135.4 1520,1133.7 1521,1132.7 1522,1131.8 1523,1131.0 1524,1130.5 1524.4,1130.2 1525,1130.0 1526,1130.3 1527,1130.9 1528,1131.6 1529,1132.4 1530,1133.4 1531,1134.8 1532,1136.1 1533,1136.9 1534,1137.7 1535,1138.9 1536,1139.7 1537,1140.2 1538,1140.4 1539,1140.8 1540,1141.5 1541,1141.7 1542,1141.9 1543,1142.1 1544,1141.9 1545,1141.4 1546,1140.9 1547,1140.6 1548,1140.1 1549,1139.3 1550,1138.3 1551,1137.4 1552,1136.4 1553,1135.3 1554,1134.2 1555,1133.1 1556,1131.9 1557,1130.9 1558,1130.1 1559,1129.6 1559.7,1129.6 1560,1129.9 1561,1130.8 1562,1131.9 1563,1133.0 1564,1134.3 1565,1136.1 1566,1138.0 1567,1139.5 1568,1141.0 1569,1142.4 1570,1143.6 1571,1144.9 1572,1146.1 1573,1146.9 1574,1147.7 1575,1148.8 1576,1149.5 1577,1149.6 1578,1150.1 1579,1150.9 1580,1151.4 1581,1151.2 1582,1151.1 1583,1151.7 1584,1152.1 1585,1152.0 1586,1152.1 1587,1152.1 1588,1151.6 1589,1151.5 1590,1152.2 1591,1152.3 1592,1152.1 1593,1152.2 1594,1152.4 1595,1152.3 1596,1152.1 1597,1152.1 1598,1152.1 1599,1152.3 1600,1152.5 1601,1152.8 1602,1152.5 1603,1152.2 1604,1152.5 1605,1152.8 1606,1152.7 1607,1152.6 1608,1152.5 1609,1152.4 1610,1152.3 1611,1152.3 1612,1152.2 1613,1152.3 1614,1151.9 1615,1151.7 1616,1152.1 1617,1152.3 1618,1152.3 1619,1152.3 1620,1152.1 1621,1152.0 1622,1152.1 1623,1152.3 1624,1152.4 1625,1152.5 1626,1152.1 1627,1152.0 1628,1152.1 1629,1151.9 1630,1151.6 1631,1151.8 1632,1152.1 1633,1152.1 1634,1152.0 1635,1151.9 1636,1151.8 1637,1151.7 1638,1151.6 1639,1151.8 1640,1152.0 1641,1152.0 1642,1151.7 1643,1151.9 1644,1152.3 1645,1152.2 1646,1151.8 1647,1151.6 1648,1151.7 1649,1151.8 1650,1151.9 1651,1152.0 1652,1151.9 1653,1151.5 1654,1151.3 1655,1151.3 1656,1151.4 1657,1151.7 1658,1152.1 1659,1152.4 1660,1152.2 1661,1152.1 1662,1152.1 1663,1151.9 1664,1152.0 1665,1152.2 1666,1152.2 1667,1152.0 1668,1151.8 1669,1151.6 1670,1151.7 1671,1151.9 1672,1152.0 1673,1152.1 1674,1151.9 1675,1151.8 1676,1152.0 1677,1151.8 1678,1151.5 1679,1151.6 1680,1151.9 1681,1152.3 1682,1152.2 1683,1152.0 1684,1152.0 1685,1152.0 1686,1151.7 1687,1151.6 1688,1151.6 1689,1151.6 1690,1151.5 1691,1151.7 1692,1151.9 1693,1151.9 1694,1152.2 1695,1152.4 1696,1152.4 1697,1152.4 1698,1152.6 1699,1152.7 1700,1152.6 1701,1152.3 1702,1152.1 1703,1152.1 1704,1152.3 1705,1152.4 1706,1152.6 1707,1152.7 1708,1152.8 1709,1153.0 1710,1152.9 1711,1152.7 1712,1152.4 1713,1152.3 1714,1152.7 1715,1152.9 1716,1152.6 1717,1152.6 1718,1153.0 1719,1152.9 1720,1152.8 1721,1152.9 1722,1152.8 1723,1152.6 1724,1152.7 1725,1152.7 1726,1152.9 1727,1153.0 1728,1153.0 1729,1152.9 1730,1153.0 1731,1153.3 1732,1153.3 1733,1153.2 1734,1153.3 1735,1153.4 1736,1153.1 1737,1153.0 1738,1153.1 1739,1153.1 1740,1152.8 1741,1152.6 1742,1152.9 1743,1153.3 1744,1153.4 1745,1153.3 1746,1153.3 1747,1153.2 1748,1153.1 1749,1153.2 1750,1153.3 1751,1153.3 1752,1153.0 1753,1152.9 1754,1152.9 1755,1152.9 1756,1152.9 1757,1153.0 1758,1152.8 1759,1152.8 1760,1153.1 1761,1153.0 1762,1152.8 1763,1152.7 1764,1152.5 1765,1152.0 1766,1151.5 1767,1151.6 1768,1151.9 1769,1151.6 1770,1151.1 1771,1150.8 1772,1150.6 1773,1150.2 1774,1150.0 1775,1149.6 1776,1148.7 1777,1147.7 1778,1146.8 1779,1145.8 1780,1144.8 1781,1143.8 1782,1142.7 1783,1141.6 1784,1140.4 1785,1139.2 1786,1138.2 1787,1137.0 1788,1136.4 1789,1136.1 1790,1135.6 1790.3,1135.7 1791,1135.9 1792,1135.9 1793,1136.4 1794,1137.6 1795,1138.7 1796,1139.8 1797,1141.1 1798,1142.3 1799,1143.5 1800,1144.6 1801,1145.6 1802,1146.4 1803,1147.3 1804,1148.1 1805,1148.9 1806,1149.7 1807,1150.3 1808,1150.9 1809,1151.4 1810,1151.4 1811,1151.4 1812,1151.9 1813,1152.4 1814,1152.8 1815,1153.1 1816,1153.1 1817,1153.0 1818,1153.0 1819,1153.0 1820,1153.3 1821,1153.5 1822,1153.4 1823,1153.3 1824,1153.3 1825,1153.4 1826,1153.4 1827,1153.4 1828,1153.7 1829,1154.0 1830,1154.0 1831,1153.8 1832,1153.6 1833,1153.7 1834,1153.6 1835,1153.5 1836,1153.3 1837,1153.2 1838,1153.4 1839,1153.4 1840,1153.2 1841,1153.2 1842,1153.5 1843,1153.7 1844,1153.7 1845,1153.8 1846,1153.9 1847,1153.8 1848,1153.5 1849,1153.2 1850,1153.0 1851,1153.2 1852,1153.4 1853,1153.5 1854,1153.8 1855,1153.8 1856,1153.6 1857,1153.4 1858,1153.1 1859,1153.0 1860,1153.2 1861,1153.3 1862,1153.2 1863,1153.3 1864,1153.6 1865,1153.6 1866,1153.4 1867,1153.4 1868,1153.3 1869,1153.1 1870,1152.9 1871,1152.9 1872,1153.2 1873,1152.9 1874,1152.6 1875,1152.6 1876,1152.8 1877,1153.3 1878,1153.4 1879,1153.5 1880,1153.5 1881,1153.3 1882,1153.0 1883,1152.8 1884,1152.8 1885,1152.8 1886,1152.8 1887,1152.9 1888,1153.1 1889,1153.1 1890,1152.7 1891,1152.6 1892,1152.9 1893,1153.1 1894,1152.8 1895,1152.6 1896,1152.9 1897,1152.9 1898,1152.6 1899,1152.5 1900,1152.5 1901,1152.8 1902,1153.2 1903,1153.1 1904,1152.9 1905,1152.8 1906,1153.0 1907,1153.4 1908,1153.3 1909,1152.9 1910,1152.8 1911,1153.1 1912,1153.4 1913,1153.3 1914,1153.1 1915,1152.8 1916,1152.8 1917,1153.1 1918,1153.0 1919,1152.8 1920,1152.7 1921,1152.8 1922,1152.7 1923,1152.8 1924,1153.2 1925,1153.4 1926,1153.3 1927,1153.2 1928,1153.2 1929,1153.4 1930,1153.6 1931,1153.6 1932,1153.3 1933,1153.1 1934,1152.9 1935,1153.0 1936,1153.1 1937,1153.0 1938,1153.2 1939,1153.6 1940,1153.4 1941,1152.9 1942,1152.8 1943,1153.0 1944,1153.4 1945,1153.6 1946,1153.4 1947,1153.4 1948,1153.5 1949,1153.8 1950,1153.8 1951,1153.7 1952,1153.6 1953,1153.4 1954,1153.1 1955,1153.0 1956,1153.2 1957,1153.2 1958,1153.0 1959,1153.0 1960,1152.8 1961,1152.5 1962,1152.5 1963,1152.6 1964,1152.4 1965,1152.0 1966,1151.3 1967,1150.8 1968,1150.7 1969,1150.3 1970,1149.7 1971,1149.2 1972,1148.8 1973,1148.2 1974,1147.5 1975,1146.8 1976,1146.4 1976.8,1146.5 1977,1146.8 1978,1146.9 1979,1146.7 1980,1146.9 1981,1147.5 1982,1148.0 1983,1148.2 1984,1148.9 1985,1150.0 1986,1150.2 1987,1150.2 1988,1150.6 1989,1151.2 1990,1151.3 1991,1151.2 1992,1151.4 1993,1151.6 1994,1151.8 1995,1151.9 1996,1151.8 1997,1151.9 1998,1152.0 1999,1151.9 2000,1151.8 2001,1151.7 2002,1151.7 2003,1151.6 2004,1151.6 2005,1151.8 2006,1152.1 2007,1152.2 2008,1151.9 2009,1151.5 2010,1151.4 2011,1151.3 2012,1150.9 2013,1150.4 2014,1150.1 2015,1149.7 2016,1149.3 2017,1148.8 2018,1148.3 2019,1147.6 2020,1146.8 2021,1146.5 2022,1146.5 2023,1146.4 2023.2,1146.0 2024,1146.1 2025,1146.6 2026,1147.2 2027,1147.7 2028,1147.9 2029,1148.4 2030,1149.2 2031,1149.8 2032,1150.3 2033,1150.7 2034,1151.0 2035,1151.2 2036,1151.6 2037,1151.9 2038,1152.0 2039,1152.0 2040,1152.1 2041,1152.2 2042,1152.4 2043,1153.0 2044,1153.3 2045,1153.1 2046,1152.9 2047,1153.0 2048,1153.1 2049,1153.1 2050,1153.1 2051,1153.3 2052,1153.5 2053,1153.2 2054,1152.7 2055,1152.8 2056,1152.8 2057,1152.4 2058,1152.5 2059,1152.7 2060,1152.8 2061,1152.7 2062,1152.7 2063,1153.0 2064,1153.2 2065,1153.1 2066,1152.9 2067,1152.9 2068,1153.0 2069,1153.2 2070,1153.4 2071,1153.4 2072,1153.2 2073,1153.2 2074,1153.0 2075,1152.8 2076,1152.8 2077,1152.9 2078,1153.0 2079,1153.2 2080,1153.3 2081,1153.1 2082,1153.1 2083,1153.1 2084,1152.9 2085,1152.8 2086,1153.0 2087,1153.1 2088,1153.2 2089,1153.1 2090,1152.9 2091,1153.0 2092,1153.1 2093,1152.9 2094,1152.8 2095,1152.8 2096,1153.0 2097,1153.2 2098,1152.9 2099,1152.7 2100,1152.8 2101,1153.0 2102,1152.9 2103,1152.6 2104,1152.5 2105,1152.5 2106,1152.6 2107,1152.7 2108,1152.4 2109,1152.3 2110,1152.3 2111,1152.6 2112,1152.9 2113,1153.1 2114,1153.1 2115,1152.8 2116,1152.5 2117,1152.4 2118,1152.4 2119,1152.4 2120,1152.6 2121,1152.6 2122,1152.7 2123,1152.8 2124,1153.1 2125,1153.1 2126,1153.1 2127,1153.1 2128,1153.0 2129,1153.0 2130,1153.0 2131,1152.7 2132,1152.6 2133,1152.7 2134,1152.6 2135,1152.6 2136,1152.6 2137,1152.7 2138,1152.8 2139,1152.7 2140,1152.5 2141,1152.1 2142,1151.9 2143,1152.0 2144,1152.4 2145,1152.6 2146,1152.4 2147,1152.3 2148,1152.3 2149,1152.2 2150,1151.8 2151,1151.4 2152,1151.0 2153,1150.5 2154,1150.0 2155,1149.9 2156,1149.8 2157,1149.3 2158,1148.5 2159,1147.8 2160,1147.1 2161,1146.5 2162,1145.9 2163,1145.3 2164,1144.4 2165,1143.4 2166,1143.1 2167,1142.7 2168,1142.1 2169,1141.9 2169.4,1142.1 2170,1142.3 2171,1142.5 2172,1142.7 2173,1143.4 2174,1144.2 2175,1145.0 2176,1145.8 2177,1146.3 2178,1146.6 2179,1147.3 2180,1148.1 2181,1148.9 2182,1149.6 2183,1150.2 2184,1150.8 2185,1151.3 2186,1151.4 2187,1151.4 2188,1151.6 2189,1152.0 2190,1152.2 2191,1152.4 2192,1152.5 2193,1152.6 2194,1153.0 2195,1153.0 2196,1152.5 2197,1152.6 2198,1152.9 2199,1153.1 2200,1152.9 2201,1152.8 2202,1153.1 2203,1153.3 2204,1153.4 2205,1153.5 2206,1153.5 2207,1153.6 2208,1153.5 2209,1153.4 2210,1153.5 2211,1153.3 2212,1153.1 2213,1153.1 2214,1153.3 2215,1153.5 2216,1153.5 2217,1153.3 2218,1153.4 2219,1153.4 2220,1153.3 2221,1153.4 2222,1153.3 2223,1153.2 2224,1153.6 2225,1153.7 2226,1153.5 2227,1153.7 2228,1153.7 2229,1153.7 2230,1153.8 2231,1153.7 2232,1153.3 2233,1153.1 2234,1153.3 2235,1153.5 2236,1153.4 2237,1153.4 2238,1153.7 2239,1154.1 2240,1153.8 2241,1153.2 2242,1153.4 2243,1153.4 2244,1152.9 2245,1153.1 2246,1153.6 2247,1153.8 2248,1153.6 2249,1153.5 2250,1153.6 2251,1153.6 2252,1153.6 2253,1153.8 2254,1153.7 2255,1153.5 2256,1153.6 2257,1153.5 2258,1153.6 2259,1153.8 2260,1153.8 2261,1153.8 2262,1153.9 2263,1153.7 2264,1153.5 2265,1153.4 2266,1153.7 2267,1153.9 2268,1153.7 2269,1153.7 2270,1153.7 2271,1153.5 2272,1153.3 2273,1153.6 2274,1153.8 2275,1153.7 2276,1153.4 2277,1153.4 2278,1153.5 2279,1153.5 2280,1153.6 2281,1153.8 2282,1153.9 2283,1154.0 2284,1154.0 2285,1154.1 2286,1154.2 2287,1154.2 2288,1153.8 2289,1153.7 2290,1153.8 2291,1153.6 2292,1153.5 2293,1153.6 2294,1153.5 2295,1153.4 2296,1153.5 2297,1153.5 2298,1153.6 2299,1153.6 2300,1153.7 2301,1153.8 2302,1153.8 2303,1153.6 2304,1153.7 2305,1153.9 2306,1153.9 2307,1153.9 2308,1153.7 2309,1153.8 2310,1154.0 2311,1153.9 2312,1154.0 2313,1153.8 2314,1153.5" fill="none" stroke="#525252" stroke-width="8" stroke-linejoin="round" stroke-linecap="butt"/>
<path d="M183.2 26.5H2322.0M183.2 1594.0H2322.0M187.2 26.5V1623.0M2318.0 26.5V1623.0M187.2 1296.3H2318.0M187.2 1389.0H2318.0M187.2 1484.3H2318.0M492.9 1594.0V1623.0M795.6 1594.0V1623.0M1101.2 1594.0V1623.0M1406.8 1594.0V1623.0M1709.6 1594.0V1623.0M2014.8 1594.0V1623.0M340.0 1594.0V1608.5M644.2 1594.0V1608.5M948.4 1594.0V1608.5M1254.0 1594.0V1608.5M1558.2 1594.0V1608.5M1862.2 1594.0V1608.5M2166.4 1594.0V1608.5" stroke="#000" stroke-width="8" fill="none"/>
<g fill="#000"><polygon points="641.5,146.9 671.5,146.9 656.5,117.7"/><polygon points="1337.9,204.0 1367.9,204.0 1352.9,174.7"/><polygon points="1776.2,165.8 1806.2,165.8 1791.2,137.2"/><polygon points="639.5,288.3 669.5,288.3 654.5,259.6"/><polygon points="1774.2,293.0 1804.2,293.0 1789.2,264.3"/><polygon points="637.4,386.2 667.4,386.2 652.4,357.9"/><polygon points="1774.2,414.0 1804.2,414.0 1789.2,384.9"/><polygon points="639.5,457.2 669.5,457.2 654.5,429.4"/><polygon points="1018.4,691.9 1048.4,691.9 1033.4,662.7"/><polygon points="1334.0,669.6 1364.0,669.6 1349.0,639.0"/><polygon points="1517.7,650.7 1547.7,650.7 1532.7,620.9"/><polygon points="1549.6,694.7 1579.6,694.7 1564.6,664.0"/><polygon points="1778.5,697.4 1808.5,697.4 1793.5,668.2"/><polygon points="637.4,769.8 667.4,769.8 652.4,740.6"/><polygon points="1024.7,920.4 1054.7,920.4 1039.7,891.2"/><polygon points="1332.0,914.3 1362.0,914.3 1347.0,883.7"/><polygon points="1510.4,940.7 1540.4,940.7 1525.4,910.7"/><polygon points="1544.8,942.1 1574.8,942.1 1559.8,910.7"/><polygon points="1776.2,948.5 1806.2,948.5 1791.2,918.4"/><polygon points="639.5,1003.0 669.5,1003.0 654.5,973.8"/><polygon points="1017.9,1106.3 1047.9,1106.3 1032.9,1077.0"/><polygon points="1326.7,1096.0 1356.7,1096.0 1341.7,1064.6"/><polygon points="1506.0,1117.4 1536.0,1117.4 1521.0,1085.4"/><polygon points="1544.8,1123.0 1574.8,1123.0 1559.8,1091.6"/><polygon points="1774.2,1124.4 1804.2,1124.4 1789.2,1093.8"/><polygon points="342.1,163.6 347.4,177.1 363.7,177.4 350.7,186.1 355.4,199.8 342.1,191.6 328.8,199.8 333.5,186.1 320.5,177.4 336.8,177.1"/><polygon points="610.4,166.3 615.5,180.6 631.0,180.9 618.6,190.0 623.1,204.5 610.4,195.9 597.6,204.5 602.1,190.0 589.7,180.9 605.2,180.6"/><polygon points="800.7,119.6 805.7,133.7 821.1,134.0 808.9,143.0 813.3,157.3 800.7,148.8 788.1,157.3 792.5,143.0 780.3,134.0 795.7,133.7"/><polygon points="883.3,152.0 888.2,166.4 903.3,166.7 891.3,175.9 895.7,190.5 883.3,181.8 870.9,190.5 875.3,175.9 863.3,166.7 878.4,166.4"/><polygon points="963.8,65.2 969.0,79.2 985.0,79.5 972.3,88.5 976.9,102.7 963.8,94.2 950.7,102.7 955.3,88.5 942.6,79.5 958.6,79.2"/><polygon points="1514.5,161.0 1519.8,175.2 1536.0,175.5 1523.1,184.6 1527.8,199.0 1514.5,190.4 1501.2,199.0 1505.9,184.6 1493.0,175.5 1509.2,175.2"/><polygon points="1620.0,158.0 1625.2,172.1 1641.0,172.4 1628.4,181.4 1633.0,195.6 1620.0,187.1 1607.0,195.6 1611.6,181.4 1599.0,172.4 1614.8,172.1"/><polygon points="803.5,256.2 808.6,270.5 824.0,270.8 811.7,280.0 816.2,294.5 803.5,285.8 790.8,294.5 795.3,280.0 783.0,270.8 798.4,270.5"/><polygon points="964.5,231.0 969.6,245.2 985.0,245.5 972.7,254.6 977.2,269.0 964.5,260.4 951.8,269.0 956.3,254.6 944.0,245.5 959.4,245.2"/><polygon points="719.2,526.3 739.4,545.1 719.2,563.9 699.0,545.1"/><polygon points="982.2,640.4 1001.6,659.2 982.2,678.0 962.7,659.2"/><polygon points="1139.8,657.1 1159.7,676.3 1139.8,695.5 1119.9,676.3"/><polygon points="1447.5,96.8 1492,96.8 1469.75,53.7"/><polygon points="1806.6,56.4 1827.4,76.6 1806.6,96.8 1785.7,76.6"/><polygon points="2057.2,56.9 2061.9,72.0 2076.4,72.3 2064.9,81.9 2069.1,97.2 2057.2,88.1 2045.3,97.2 2049.5,81.9 2038.0,72.3 2052.5,72.0"/></g>
<g font-family="Liberation Sans, Arial, Helvetica, sans-serif" font-weight="bold" fill="#000" style="font-kerning:none"><text font-size="56" text-anchor="middle" transform="translate(342.8 160.8) scale(1 1.035)">(110)</text><text font-size="56" text-anchor="middle" transform="translate(537.7 166.4) scale(1 1.035)">(210)</text><text font-size="56" text-anchor="middle" transform="translate(661.3 110.2) scale(1 1.035)">(101)</text><text font-size="56" text-anchor="middle" transform="translate(796.8 102.5) scale(1 1.035)">(220)</text><text font-size="56" text-anchor="middle" transform="translate(884.8 157.0) scale(1 1.035)">(104)</text><text font-size="56" text-anchor="middle" transform="translate(1048.1 97.2) scale(1 1.035)">(311)</text><text font-size="56" text-anchor="middle" transform="translate(1573.4 158.0) scale(1 1.035)">(422)(511)</text><text font-size="56" text-anchor="middle" transform="translate(730.7 522.0) scale(1 1.035)">(110)</text><text font-size="56" text-anchor="middle" transform="translate(1147.0 634.8) scale(1 1.035)">(111)</text><text font-size="56" text-anchor="middle" transform="translate(1360.0 622.3) scale(1 1.035)">(200)</text><text font-size="56" text-anchor="middle" transform="translate(1535.9 595.9) scale(1 1.035)">(105)</text><text font-size="56" text-anchor="middle" transform="translate(1640.3 668.8) scale(1 1.035)">(211)</text><text font-size="56" text-anchor="middle" transform="translate(1799.9 646.0) scale(1 1.035)">(204)</text><text x="0" y="0" font-size="56" font-weight="normal" text-anchor="middle" transform="translate(994.8 564.1) rotate(-90) scale(1 1.035)">(101)</text><text x="0" y="0" font-size="56" font-weight="normal" text-anchor="middle" transform="translate(1056.1 598.9) rotate(-90) scale(1 1.035)">(004)</text><text font-size="56" text-anchor="end" transform="translate(2291.2 189.1) scale(1 1.035)">ZT-670</text><text font-size="56" text-anchor="end" transform="translate(2287.3 305.6) scale(1 1.035)">ZT-570</text><text font-size="56" text-anchor="end" transform="translate(2293.8 420.6) scale(1 1.035)">ZT-470</text><text font-size="56" text-anchor="end" transform="translate(2291.2 703.0) scale(1 1.035)">PT-670</text><text font-size="56" text-anchor="end" transform="translate(2291.6 934.4) scale(1 1.035)">PT-570</text><text font-size="56" text-anchor="end" transform="translate(2296.6 1116.7) scale(1 1.035)">PT-470</text><text font-size="56" text-anchor="end" transform="translate(2301.2 1267.1) scale(1 1.035)">JCPDS: 26-1500</text><text font-size="56" text-anchor="end" transform="translate(2300.4 1365.3) scale(1 1.035)">JCPDS: 39-0190</text><text font-size="56" text-anchor="end" transform="translate(2301.2 1452.8) scale(1 1.035)">JCPDS: 21-1276</text><text font-size="56" text-anchor="end" transform="translate(2305.5 1562.1) scale(1 1.035)">JCPDS: 21-1272</text><text font-size="67" text-anchor="start" transform="translate(1502.1 96.8) scale(1 1.035)">Anatase</text><text font-size="67" text-anchor="start" transform="translate(1826.9 97.1) scale(1 1.035)">Rutile</text><text font-size="67" text-anchor="start" transform="translate(2077.4 97.0) scale(1 1.035)">ZnTiO</text><text font-size="44" text-anchor="start" transform="translate(2271.4 118.0) scale(1 1.035)">3</text><text font-size="82" text-anchor="middle" transform="translate(188.7 1709.4) scale(1 1.035)">10</text><text font-size="82" text-anchor="middle" transform="translate(491.9 1709.4) scale(1 1.035)">20</text><text font-size="82" text-anchor="middle" transform="translate(794.6 1709.4) scale(1 1.035)">30</text><text font-size="82" text-anchor="middle" transform="translate(1100.2 1709.4) scale(1 1.035)">40</text><text font-size="82" text-anchor="middle" transform="translate(1405.8 1709.4) scale(1 1.035)">50</text><text font-size="82" text-anchor="middle" transform="translate(1708.6 1709.4) scale(1 1.035)">60</text><text font-size="82" text-anchor="middle" transform="translate(2013.8 1709.4) scale(1 1.035)">70</text><text font-size="82" text-anchor="middle" transform="translate(2317.0 1709.4) scale(1 1.035)">80</text><text font-size="80.5" text-anchor="middle" transform="translate(1252.5 1846.1) scale(1 1.035)">2θ (degree)</text><text x="0" y="0" font-size="81" text-anchor="middle" transform="translate(87.7 807.9) rotate(-90) scale(1 1.035)">Intensity (a.u.)</text></g>
</svg>
</body></html>
